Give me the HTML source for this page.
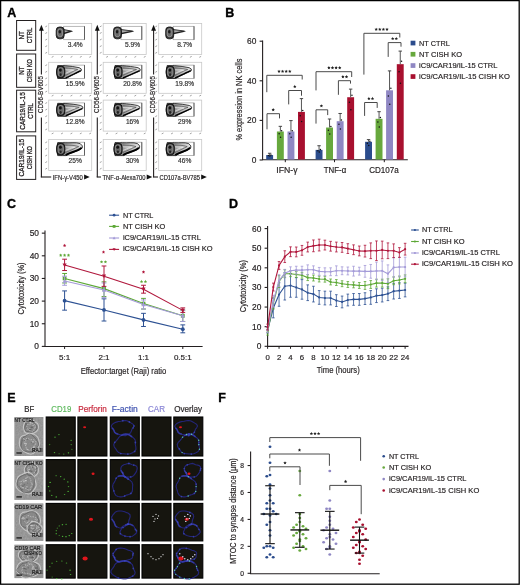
<!DOCTYPE html>
<html><head><meta charset="utf-8"><title>Figure</title>
<style>
html,body{margin:0;padding:0;background:#fff;}
body{width:520px;height:585px;overflow:hidden;font-family:"Liberation Sans",sans-serif;}
svg{display:block;will-change:transform;}
svg text{font-family:"Liberation Sans",sans-serif;}
</style></head>
<body>
<svg width="520" height="585" viewBox="0 0 520 585">
<rect x="0" y="0" width="520" height="585" fill="#fff"/>
<text x="7.30" y="16.90" font-size="12.5" fill="#000" text-anchor="start" font-weight="bold" stroke="#000" stroke-width="0.35">A</text>
<text x="225.30" y="17.00" font-size="12.5" fill="#000" text-anchor="start" font-weight="bold" stroke="#000" stroke-width="0.35">B</text>
<text x="7.00" y="207.80" font-size="12.5" fill="#000" text-anchor="start" font-weight="bold" stroke="#000" stroke-width="0.35">C</text>
<text x="229.10" y="207.60" font-size="12.5" fill="#000" text-anchor="start" font-weight="bold" stroke="#000" stroke-width="0.35">D</text>
<text x="7.30" y="401.80" font-size="12.5" fill="#000" text-anchor="start" font-weight="bold" stroke="#000" stroke-width="0.35">E</text>
<text x="218.20" y="401.80" font-size="12.5" fill="#000" text-anchor="start" font-weight="bold" stroke="#000" stroke-width="0.35">F</text>
<rect x="16.60" y="20.50" width="19.10" height="29.80" fill="none" stroke="#231f20" stroke-width="1" />
<text x="24.50" y="35.40" font-size="7.6" fill="#231f20" text-anchor="middle" textLength="8.4" lengthAdjust="spacingAndGlyphs" transform="rotate(-90 24.50 35.40)" stroke="#231f20" stroke-width="0.3">NT</text>
<text x="32.50" y="35.40" font-size="7.6" fill="#231f20" text-anchor="middle" textLength="15.6" lengthAdjust="spacingAndGlyphs" transform="rotate(-90 32.50 35.40)" stroke="#231f20" stroke-width="0.3">CTRL</text>
<rect x="16.60" y="54.00" width="19.10" height="33.30" fill="none" stroke="#231f20" stroke-width="1" />
<text x="24.50" y="70.65" font-size="7.6" fill="#231f20" text-anchor="middle" textLength="8.4" lengthAdjust="spacingAndGlyphs" transform="rotate(-90 24.50 70.65)" stroke="#231f20" stroke-width="0.3">NT</text>
<text x="32.50" y="70.65" font-size="7.6" fill="#231f20" text-anchor="middle" textLength="23.0" lengthAdjust="spacingAndGlyphs" transform="rotate(-90 32.50 70.65)" stroke="#231f20" stroke-width="0.3">CISH KO</text>
<rect x="16.60" y="90.20" width="19.10" height="41.60" fill="none" stroke="#231f20" stroke-width="1" />
<text x="24.50" y="111.00" font-size="7.6" fill="#231f20" text-anchor="middle" textLength="37.5" lengthAdjust="spacingAndGlyphs" transform="rotate(-90 24.50 111.00)" stroke="#231f20" stroke-width="0.3">CAR19/IL-15</text>
<text x="32.50" y="111.00" font-size="7.6" fill="#231f20" text-anchor="middle" textLength="15.6" lengthAdjust="spacingAndGlyphs" transform="rotate(-90 32.50 111.00)" stroke="#231f20" stroke-width="0.3">CTRL</text>
<rect x="16.60" y="135.90" width="19.10" height="43.50" fill="none" stroke="#231f20" stroke-width="1" />
<text x="24.50" y="157.65" font-size="7.6" fill="#231f20" text-anchor="middle" textLength="37.5" lengthAdjust="spacingAndGlyphs" transform="rotate(-90 24.50 157.65)" stroke="#231f20" stroke-width="0.3">CAR19/IL-15</text>
<text x="32.50" y="157.65" font-size="7.6" fill="#231f20" text-anchor="middle" textLength="23.0" lengthAdjust="spacingAndGlyphs" transform="rotate(-90 32.50 157.65)" stroke="#231f20" stroke-width="0.3">CISH KO</text>
<defs>
<linearGradient id="bg" x1="0" x2="1" y1="0" y2="0"><stop offset="0" stop-color="#2a2a2a"/><stop offset="0.35" stop-color="#555"/><stop offset="1" stop-color="#d8d8d8"/></linearGradient>
<radialGradient id="lobe" cx="0.5" cy="0.5" r="0.5"><stop offset="0" stop-color="#222"/><stop offset="0.5" stop-color="#777"/><stop offset="0.8" stop-color="#333"/><stop offset="1" stop-color="#111"/></radialGradient>
<linearGradient id="tailg" x1="0" x2="1" y1="0" y2="0"><stop offset="0" stop-color="#5a5a5a"/><stop offset="0.45" stop-color="#a8a8a8"/><stop offset="1" stop-color="#e4e4e4"/></linearGradient>
</defs>
<line x1="41.40" y1="30.00" x2="41.40" y2="74.60" stroke="#231f20" stroke-width="1.1" />
<line x1="41.40" y1="117.50" x2="41.40" y2="177.20" stroke="#231f20" stroke-width="1.1" />
<path d="M39.00,30.8 L41.40,24.8 L43.80,30.8 Z" fill="#111"/>
<text x="43.30" y="94.60" font-size="7.2" fill="#231f20" text-anchor="middle" stroke="#231f20" stroke-width="0.18" textLength="37" lengthAdjust="spacingAndGlyphs" transform="rotate(-90 43.30 94.60)" >CD56-BV605</text>
<line x1="40.85" y1="177.00" x2="51.20" y2="177.00" stroke="#231f20" stroke-width="1.1" />
<text x="52.70" y="179.70" font-size="7.3" fill="#231f20" text-anchor="start" stroke="#231f20" stroke-width="0.18" textLength="30.200000000000003" lengthAdjust="spacingAndGlyphs" >IFN-γ-V450</text>
<path d="M84.10,174.5 L89.70,177 L84.10,179.5 Z" fill="#111"/>
<rect x="48.70" y="23.50" width="43.00" height="31.00" fill="#fff" stroke="#c8c8c8" stroke-width="0.8" />
<line x1="45.30" y1="26.90" x2="47.10" y2="25.90" stroke="#666" stroke-width="0.6" />
<line x1="45.30" y1="33.50" x2="47.10" y2="32.50" stroke="#666" stroke-width="0.6" />
<line x1="45.30" y1="40.10" x2="47.10" y2="39.10" stroke="#666" stroke-width="0.6" />
<line x1="45.30" y1="46.70" x2="47.10" y2="45.70" stroke="#666" stroke-width="0.6" />
<line x1="45.30" y1="53.30" x2="47.10" y2="52.30" stroke="#666" stroke-width="0.6" />
<line x1="51.70" y1="57.30" x2="53.50" y2="56.40" stroke="#666" stroke-width="0.6" />
<line x1="61.10" y1="57.30" x2="62.90" y2="56.40" stroke="#666" stroke-width="0.6" />
<line x1="70.50" y1="57.30" x2="72.30" y2="56.40" stroke="#666" stroke-width="0.6" />
<line x1="79.90" y1="57.30" x2="81.70" y2="56.40" stroke="#666" stroke-width="0.6" />
<line x1="89.30" y1="57.30" x2="91.10" y2="56.40" stroke="#666" stroke-width="0.6" />
<rect x="63.70" y="26.30" width="20.80" height="13.40" fill="none" stroke="#9a9a9a" stroke-width="0.7" />
<line x1="84.50" y1="26.30" x2="84.50" y2="39.70" stroke="#555" stroke-width="0.9" />
<path d="M63.2,28.9 L71.1,30.5 L73.1,31.3 L71.1,32.0 L63.2,34.6 Z" fill="#222"/>
<path d="M63.2,30.1 L69.1,31.0 L63.2,32.9 Z" fill="#aaa"/>
<rect x="56.2" y="27.0" width="8.0" height="11.8" rx="3" ry="3.5" fill="#3a3a3a" stroke="#0a0a0a" stroke-width="0.8"/>
<rect x="57.6" y="28.7" width="5.0" height="8.0" rx="2" ry="2.5" fill="#6a6a6a" stroke="#c8c8c8" stroke-width="0.5"/>
<ellipse cx="59.8" cy="31.7" rx="1.3" ry="1.8" fill="#1a1a1a"/>
<text x="75.20" y="46.90" font-size="6.6" fill="#333" text-anchor="middle" stroke="#333" stroke-width="0.18" >3.4%</text>
<rect x="48.70" y="62.30" width="43.00" height="31.00" fill="#fff" stroke="#c8c8c8" stroke-width="0.8" />
<line x1="45.30" y1="65.70" x2="47.10" y2="64.70" stroke="#666" stroke-width="0.6" />
<line x1="45.30" y1="72.30" x2="47.10" y2="71.30" stroke="#666" stroke-width="0.6" />
<line x1="45.30" y1="78.90" x2="47.10" y2="77.90" stroke="#666" stroke-width="0.6" />
<line x1="45.30" y1="85.50" x2="47.10" y2="84.50" stroke="#666" stroke-width="0.6" />
<line x1="45.30" y1="92.10" x2="47.10" y2="91.10" stroke="#666" stroke-width="0.6" />
<line x1="51.70" y1="96.10" x2="53.50" y2="95.20" stroke="#666" stroke-width="0.6" />
<line x1="61.10" y1="96.10" x2="62.90" y2="95.20" stroke="#666" stroke-width="0.6" />
<line x1="70.50" y1="96.10" x2="72.30" y2="95.20" stroke="#666" stroke-width="0.6" />
<line x1="79.90" y1="96.10" x2="81.70" y2="95.20" stroke="#666" stroke-width="0.6" />
<line x1="89.30" y1="96.10" x2="91.10" y2="95.20" stroke="#666" stroke-width="0.6" />
<rect x="63.70" y="65.10" width="20.80" height="13.40" fill="none" stroke="#9a9a9a" stroke-width="0.7" />
<line x1="84.50" y1="65.10" x2="84.50" y2="78.50" stroke="#555" stroke-width="0.9" />
<path d="M57.7,65.5 L65.2,65.7 C70.2,66.1 74.7,66.7 79.2,67.7 Q82.5,68.9 81.2,70.9 C77.7,72.7 70.2,76.0 66.2,78.5 L57.7,78.5 Q55.4,72.0 57.7,65.5 Z" fill="url(#tailg)" stroke="#151515" stroke-width="0.8"/>
<path d="M65.2,67.9 C70.2,68.3 72.7,68.5 77.7,69.5 C73.7,70.7 69.2,74.0 65.2,75.5" fill="none" stroke="#333" stroke-width="0.55"/>
<path d="M65.2,69.7 C69.2,70.1 69.7,69.7 73.7,70.1 C69.7,70.7 68.2,72.5 65.2,73.5" fill="none" stroke="#f4f4f4" stroke-width="0.6"/>
<path d="M65.7,77.9 C70.2,75.9 76.7,72.5 80.7,70.7" fill="none" stroke="#000" stroke-width="1.30"/>
<rect x="56.8" y="66.3" width="8.0" height="11.4" rx="3" ry="3.6" fill="#3a3a3a" stroke="#000" stroke-width="0.8"/>
<rect x="58.0" y="67.7" width="5.4" height="8.4" rx="2" ry="2.6" fill="#666" stroke="#c8c8c8" stroke-width="0.45"/>
<ellipse cx="60.4" cy="70.1" rx="1.4" ry="1.6" fill="#111"/>
<ellipse cx="60.6" cy="74.7" rx="1.1" ry="1.4" fill="#222"/>
<text x="75.20" y="85.70" font-size="6.6" fill="#333" text-anchor="middle" stroke="#333" stroke-width="0.18" >15.9%</text>
<rect x="48.70" y="100.10" width="43.00" height="31.00" fill="#fff" stroke="#c8c8c8" stroke-width="0.8" />
<line x1="45.30" y1="103.50" x2="47.10" y2="102.50" stroke="#666" stroke-width="0.6" />
<line x1="45.30" y1="110.10" x2="47.10" y2="109.10" stroke="#666" stroke-width="0.6" />
<line x1="45.30" y1="116.70" x2="47.10" y2="115.70" stroke="#666" stroke-width="0.6" />
<line x1="45.30" y1="123.30" x2="47.10" y2="122.30" stroke="#666" stroke-width="0.6" />
<line x1="45.30" y1="129.90" x2="47.10" y2="128.90" stroke="#666" stroke-width="0.6" />
<line x1="51.70" y1="133.90" x2="53.50" y2="133.00" stroke="#666" stroke-width="0.6" />
<line x1="61.10" y1="133.90" x2="62.90" y2="133.00" stroke="#666" stroke-width="0.6" />
<line x1="70.50" y1="133.90" x2="72.30" y2="133.00" stroke="#666" stroke-width="0.6" />
<line x1="79.90" y1="133.90" x2="81.70" y2="133.00" stroke="#666" stroke-width="0.6" />
<line x1="89.30" y1="133.90" x2="91.10" y2="133.00" stroke="#666" stroke-width="0.6" />
<rect x="63.70" y="102.90" width="20.80" height="13.40" fill="none" stroke="#9a9a9a" stroke-width="0.7" />
<line x1="84.50" y1="102.90" x2="84.50" y2="116.30" stroke="#555" stroke-width="0.9" />
<path d="M57.7,103.3 L65.2,103.5 C70.2,103.9 76.2,104.5 80.7,105.5 Q84.0,106.7 82.7,108.7 C79.2,110.5 70.2,113.8 66.2,116.3 L57.7,116.3 Q55.4,109.8 57.7,103.3 Z" fill="url(#tailg)" stroke="#151515" stroke-width="0.8"/>
<path d="M65.2,105.7 C70.2,106.1 74.2,106.3 79.2,107.3 C75.2,108.5 69.2,111.8 65.2,113.3" fill="none" stroke="#333" stroke-width="0.55"/>
<path d="M65.2,107.5 C69.2,107.9 71.2,107.5 75.2,107.9 C71.2,108.5 68.2,110.3 65.2,111.3" fill="none" stroke="#f4f4f4" stroke-width="0.6"/>
<path d="M65.7,115.7 C70.2,113.7 78.2,110.3 82.2,108.5" fill="none" stroke="#000" stroke-width="1.30"/>
<rect x="56.8" y="104.1" width="8.0" height="11.4" rx="3" ry="3.6" fill="#3a3a3a" stroke="#000" stroke-width="0.8"/>
<rect x="58.0" y="105.5" width="5.4" height="8.4" rx="2" ry="2.6" fill="#666" stroke="#c8c8c8" stroke-width="0.45"/>
<ellipse cx="60.4" cy="107.9" rx="1.4" ry="1.6" fill="#111"/>
<ellipse cx="60.6" cy="112.5" rx="1.1" ry="1.4" fill="#222"/>
<text x="75.20" y="123.50" font-size="6.6" fill="#333" text-anchor="middle" stroke="#333" stroke-width="0.18" >12.8%</text>
<rect x="48.70" y="139.40" width="43.00" height="31.00" fill="#fff" stroke="#c8c8c8" stroke-width="0.8" />
<line x1="45.30" y1="142.80" x2="47.10" y2="141.80" stroke="#666" stroke-width="0.6" />
<line x1="45.30" y1="149.40" x2="47.10" y2="148.40" stroke="#666" stroke-width="0.6" />
<line x1="45.30" y1="156.00" x2="47.10" y2="155.00" stroke="#666" stroke-width="0.6" />
<line x1="45.30" y1="162.60" x2="47.10" y2="161.60" stroke="#666" stroke-width="0.6" />
<line x1="45.30" y1="169.20" x2="47.10" y2="168.20" stroke="#666" stroke-width="0.6" />
<rect x="63.70" y="142.20" width="20.80" height="13.40" fill="none" stroke="#9a9a9a" stroke-width="0.7" />
<line x1="84.50" y1="142.20" x2="84.50" y2="155.60" stroke="#555" stroke-width="0.9" />
<path d="M57.7,142.6 L65.2,142.8 C70.2,143.2 75.7,142.0 80.2,143.6 Q83.5,146.0 82.2,148.0 C78.7,151.6 70.2,152.2 66.2,155.6 L57.7,155.6 Q55.4,149.1 57.7,142.6 Z" fill="url(#tailg)" stroke="#151515" stroke-width="0.8"/>
<path d="M65.2,145.0 C70.2,145.4 73.7,144.9 78.7,146.6 C74.7,148.4 69.2,151.1 65.2,152.6" fill="none" stroke="#333" stroke-width="0.55"/>
<path d="M65.2,146.8 C69.2,147.2 70.7,146.8 74.7,147.2 C70.7,147.8 68.2,149.6 65.2,150.6" fill="none" stroke="#f4f4f4" stroke-width="0.6"/>
<path d="M65.7,155.0 C70.2,152.1 77.7,151.3 81.7,147.8" fill="none" stroke="#000" stroke-width="2.08"/>
<rect x="56.8" y="143.4" width="8.0" height="11.4" rx="3" ry="3.6" fill="#3a3a3a" stroke="#000" stroke-width="0.8"/>
<rect x="58.0" y="144.8" width="5.4" height="8.4" rx="2" ry="2.6" fill="#666" stroke="#c8c8c8" stroke-width="0.45"/>
<ellipse cx="60.4" cy="147.2" rx="1.4" ry="1.6" fill="#111"/>
<ellipse cx="60.6" cy="151.8" rx="1.1" ry="1.4" fill="#222"/>
<text x="75.20" y="162.80" font-size="6.6" fill="#333" text-anchor="middle" stroke="#333" stroke-width="0.18" >25%</text>
<line x1="97.30" y1="30.00" x2="97.30" y2="74.60" stroke="#231f20" stroke-width="1.1" />
<line x1="97.30" y1="117.50" x2="97.30" y2="177.20" stroke="#231f20" stroke-width="1.1" />
<path d="M94.90,30.8 L97.30,24.8 L99.70,30.8 Z" fill="#111"/>
<text x="99.20" y="94.60" font-size="7.2" fill="#231f20" text-anchor="middle" stroke="#231f20" stroke-width="0.18" textLength="37" lengthAdjust="spacingAndGlyphs" transform="rotate(-90 99.20 94.60)" >CD56-BV605</text>
<line x1="96.75" y1="177.00" x2="101.00" y2="177.00" stroke="#231f20" stroke-width="1.1" />
<text x="102.50" y="179.70" font-size="7.3" fill="#231f20" text-anchor="start" stroke="#231f20" stroke-width="0.18" textLength="43.0" lengthAdjust="spacingAndGlyphs" >TNF-α-Alexa700</text>
<path d="M146.70,174.5 L152.30,177 L146.70,179.5 Z" fill="#111"/>
<rect x="103.20" y="23.50" width="43.00" height="31.00" fill="#fff" stroke="#c8c8c8" stroke-width="0.8" />
<line x1="99.80" y1="26.90" x2="101.60" y2="25.90" stroke="#666" stroke-width="0.6" />
<line x1="99.80" y1="33.50" x2="101.60" y2="32.50" stroke="#666" stroke-width="0.6" />
<line x1="99.80" y1="40.10" x2="101.60" y2="39.10" stroke="#666" stroke-width="0.6" />
<line x1="99.80" y1="46.70" x2="101.60" y2="45.70" stroke="#666" stroke-width="0.6" />
<line x1="99.80" y1="53.30" x2="101.60" y2="52.30" stroke="#666" stroke-width="0.6" />
<line x1="106.20" y1="57.30" x2="108.00" y2="56.40" stroke="#666" stroke-width="0.6" />
<line x1="115.60" y1="57.30" x2="117.40" y2="56.40" stroke="#666" stroke-width="0.6" />
<line x1="125.00" y1="57.30" x2="126.80" y2="56.40" stroke="#666" stroke-width="0.6" />
<line x1="134.40" y1="57.30" x2="136.20" y2="56.40" stroke="#666" stroke-width="0.6" />
<line x1="143.80" y1="57.30" x2="145.60" y2="56.40" stroke="#666" stroke-width="0.6" />
<rect x="121.00" y="26.30" width="20.80" height="13.40" fill="none" stroke="#9a9a9a" stroke-width="0.7" />
<line x1="141.80" y1="26.30" x2="141.80" y2="39.70" stroke="#555" stroke-width="0.9" />
<path d="M120.5,28.9 L132.2,30.5 L134.2,31.3 L132.2,32.0 L120.5,34.6 Z" fill="#222"/>
<path d="M120.5,30.1 L130.2,31.0 L120.5,32.9 Z" fill="#aaa"/>
<rect x="113.5" y="27.0" width="8.0" height="11.8" rx="3" ry="3.5" fill="#3a3a3a" stroke="#0a0a0a" stroke-width="0.8"/>
<rect x="114.9" y="28.7" width="5.0" height="8.0" rx="2" ry="2.5" fill="#6a6a6a" stroke="#c8c8c8" stroke-width="0.5"/>
<ellipse cx="117.1" cy="31.7" rx="1.3" ry="1.8" fill="#1a1a1a"/>
<text x="132.50" y="46.90" font-size="6.6" fill="#333" text-anchor="middle" stroke="#333" stroke-width="0.18" >5.9%</text>
<rect x="103.20" y="62.30" width="43.00" height="31.00" fill="#fff" stroke="#c8c8c8" stroke-width="0.8" />
<line x1="99.80" y1="65.70" x2="101.60" y2="64.70" stroke="#666" stroke-width="0.6" />
<line x1="99.80" y1="72.30" x2="101.60" y2="71.30" stroke="#666" stroke-width="0.6" />
<line x1="99.80" y1="78.90" x2="101.60" y2="77.90" stroke="#666" stroke-width="0.6" />
<line x1="99.80" y1="85.50" x2="101.60" y2="84.50" stroke="#666" stroke-width="0.6" />
<line x1="99.80" y1="92.10" x2="101.60" y2="91.10" stroke="#666" stroke-width="0.6" />
<line x1="106.20" y1="96.10" x2="108.00" y2="95.20" stroke="#666" stroke-width="0.6" />
<line x1="115.60" y1="96.10" x2="117.40" y2="95.20" stroke="#666" stroke-width="0.6" />
<line x1="125.00" y1="96.10" x2="126.80" y2="95.20" stroke="#666" stroke-width="0.6" />
<line x1="134.40" y1="96.10" x2="136.20" y2="95.20" stroke="#666" stroke-width="0.6" />
<line x1="143.80" y1="96.10" x2="145.60" y2="95.20" stroke="#666" stroke-width="0.6" />
<rect x="121.00" y="65.10" width="20.80" height="13.40" fill="none" stroke="#9a9a9a" stroke-width="0.7" />
<line x1="141.80" y1="65.10" x2="141.80" y2="78.50" stroke="#555" stroke-width="0.9" />
<path d="M115.0,65.5 L122.5,65.7 C127.5,66.1 133.5,66.7 138.0,67.7 Q141.3,68.9 140.0,70.9 C136.5,72.7 127.5,76.0 123.5,78.5 L115.0,78.5 Q112.7,72.0 115.0,65.5 Z" fill="url(#tailg)" stroke="#151515" stroke-width="0.8"/>
<path d="M122.5,67.9 C127.5,68.3 131.5,68.5 136.5,69.5 C132.5,70.7 126.5,74.0 122.5,75.5" fill="none" stroke="#333" stroke-width="0.55"/>
<path d="M122.5,69.7 C126.5,70.1 128.5,69.7 132.5,70.1 C128.5,70.7 125.5,72.5 122.5,73.5" fill="none" stroke="#f4f4f4" stroke-width="0.6"/>
<path d="M123.0,77.9 C127.5,75.9 135.5,72.5 139.5,70.7" fill="none" stroke="#000" stroke-width="1.30"/>
<rect x="114.1" y="66.3" width="8.0" height="11.4" rx="3" ry="3.6" fill="#3a3a3a" stroke="#000" stroke-width="0.8"/>
<rect x="115.3" y="67.7" width="5.4" height="8.4" rx="2" ry="2.6" fill="#666" stroke="#c8c8c8" stroke-width="0.45"/>
<ellipse cx="117.7" cy="70.1" rx="1.4" ry="1.6" fill="#111"/>
<ellipse cx="117.9" cy="74.7" rx="1.1" ry="1.4" fill="#222"/>
<text x="132.50" y="85.70" font-size="6.6" fill="#333" text-anchor="middle" stroke="#333" stroke-width="0.18" >20.8%</text>
<rect x="103.20" y="100.10" width="43.00" height="31.00" fill="#fff" stroke="#c8c8c8" stroke-width="0.8" />
<line x1="99.80" y1="103.50" x2="101.60" y2="102.50" stroke="#666" stroke-width="0.6" />
<line x1="99.80" y1="110.10" x2="101.60" y2="109.10" stroke="#666" stroke-width="0.6" />
<line x1="99.80" y1="116.70" x2="101.60" y2="115.70" stroke="#666" stroke-width="0.6" />
<line x1="99.80" y1="123.30" x2="101.60" y2="122.30" stroke="#666" stroke-width="0.6" />
<line x1="99.80" y1="129.90" x2="101.60" y2="128.90" stroke="#666" stroke-width="0.6" />
<line x1="106.20" y1="133.90" x2="108.00" y2="133.00" stroke="#666" stroke-width="0.6" />
<line x1="115.60" y1="133.90" x2="117.40" y2="133.00" stroke="#666" stroke-width="0.6" />
<line x1="125.00" y1="133.90" x2="126.80" y2="133.00" stroke="#666" stroke-width="0.6" />
<line x1="134.40" y1="133.90" x2="136.20" y2="133.00" stroke="#666" stroke-width="0.6" />
<line x1="143.80" y1="133.90" x2="145.60" y2="133.00" stroke="#666" stroke-width="0.6" />
<rect x="121.00" y="102.90" width="20.80" height="13.40" fill="none" stroke="#9a9a9a" stroke-width="0.7" />
<line x1="141.80" y1="102.90" x2="141.80" y2="116.30" stroke="#555" stroke-width="0.9" />
<path d="M115.0,103.3 L122.5,103.5 C127.5,103.9 133.2,104.5 137.7,105.5 Q141.0,106.7 139.7,108.7 C136.2,110.5 127.5,113.8 123.5,116.3 L115.0,116.3 Q112.7,109.8 115.0,103.3 Z" fill="url(#tailg)" stroke="#151515" stroke-width="0.8"/>
<path d="M122.5,105.7 C127.5,106.1 131.2,106.3 136.2,107.3 C132.2,108.5 126.5,111.8 122.5,113.3" fill="none" stroke="#333" stroke-width="0.55"/>
<path d="M122.5,107.5 C126.5,107.9 128.2,107.5 132.2,107.9 C128.2,108.5 125.5,110.3 122.5,111.3" fill="none" stroke="#f4f4f4" stroke-width="0.6"/>
<path d="M123.0,115.7 C127.5,113.7 135.2,110.3 139.2,108.5" fill="none" stroke="#000" stroke-width="1.30"/>
<rect x="114.1" y="104.1" width="8.0" height="11.4" rx="3" ry="3.6" fill="#3a3a3a" stroke="#000" stroke-width="0.8"/>
<rect x="115.3" y="105.5" width="5.4" height="8.4" rx="2" ry="2.6" fill="#666" stroke="#c8c8c8" stroke-width="0.45"/>
<ellipse cx="117.7" cy="107.9" rx="1.4" ry="1.6" fill="#111"/>
<ellipse cx="117.9" cy="112.5" rx="1.1" ry="1.4" fill="#222"/>
<text x="132.50" y="123.50" font-size="6.6" fill="#333" text-anchor="middle" stroke="#333" stroke-width="0.18" >16%</text>
<rect x="103.20" y="139.40" width="43.00" height="31.00" fill="#fff" stroke="#c8c8c8" stroke-width="0.8" />
<line x1="99.80" y1="142.80" x2="101.60" y2="141.80" stroke="#666" stroke-width="0.6" />
<line x1="99.80" y1="149.40" x2="101.60" y2="148.40" stroke="#666" stroke-width="0.6" />
<line x1="99.80" y1="156.00" x2="101.60" y2="155.00" stroke="#666" stroke-width="0.6" />
<line x1="99.80" y1="162.60" x2="101.60" y2="161.60" stroke="#666" stroke-width="0.6" />
<line x1="99.80" y1="169.20" x2="101.60" y2="168.20" stroke="#666" stroke-width="0.6" />
<rect x="121.00" y="142.20" width="20.80" height="13.40" fill="none" stroke="#9a9a9a" stroke-width="0.7" />
<line x1="141.80" y1="142.20" x2="141.80" y2="155.60" stroke="#555" stroke-width="0.9" />
<path d="M115.0,142.6 L122.5,142.8 C127.5,143.2 133.0,142.0 137.5,143.6 Q140.8,146.0 139.5,148.0 C136.0,151.6 127.5,152.2 123.5,155.6 L115.0,155.6 Q112.7,149.1 115.0,142.6 Z" fill="url(#tailg)" stroke="#151515" stroke-width="0.8"/>
<path d="M122.5,145.0 C127.5,145.4 131.0,144.9 136.0,146.6 C132.0,148.4 126.5,151.1 122.5,152.6" fill="none" stroke="#333" stroke-width="0.55"/>
<path d="M122.5,146.8 C126.5,147.2 128.0,146.8 132.0,147.2 C128.0,147.8 125.5,149.6 122.5,150.6" fill="none" stroke="#f4f4f4" stroke-width="0.6"/>
<path d="M123.0,155.0 C127.5,152.1 135.0,151.3 139.0,147.8" fill="none" stroke="#000" stroke-width="2.08"/>
<rect x="114.1" y="143.4" width="8.0" height="11.4" rx="3" ry="3.6" fill="#3a3a3a" stroke="#000" stroke-width="0.8"/>
<rect x="115.3" y="144.8" width="5.4" height="8.4" rx="2" ry="2.6" fill="#666" stroke="#c8c8c8" stroke-width="0.45"/>
<ellipse cx="117.7" cy="147.2" rx="1.4" ry="1.6" fill="#111"/>
<ellipse cx="117.9" cy="151.8" rx="1.1" ry="1.4" fill="#222"/>
<text x="132.50" y="162.80" font-size="6.6" fill="#333" text-anchor="middle" stroke="#333" stroke-width="0.18" >30%</text>
<line x1="153.60" y1="30.00" x2="153.60" y2="74.60" stroke="#231f20" stroke-width="1.1" />
<line x1="153.60" y1="117.50" x2="153.60" y2="177.20" stroke="#231f20" stroke-width="1.1" />
<path d="M151.20,30.8 L153.60,24.8 L156.00,30.8 Z" fill="#111"/>
<text x="155.50" y="94.60" font-size="7.2" fill="#231f20" text-anchor="middle" stroke="#231f20" stroke-width="0.18" textLength="37" lengthAdjust="spacingAndGlyphs" transform="rotate(-90 155.50 94.60)" >CD56-BV605</text>
<line x1="153.05" y1="177.00" x2="158.00" y2="177.00" stroke="#231f20" stroke-width="1.1" />
<text x="159.50" y="179.70" font-size="7.3" fill="#231f20" text-anchor="start" stroke="#231f20" stroke-width="0.18" textLength="40.5" lengthAdjust="spacingAndGlyphs" >CD107a-BV785</text>
<path d="M201.20,174.5 L206.80,177 L201.20,179.5 Z" fill="#111"/>
<rect x="158.70" y="23.50" width="43.00" height="31.00" fill="#fff" stroke="#c8c8c8" stroke-width="0.8" />
<line x1="155.30" y1="26.90" x2="157.10" y2="25.90" stroke="#666" stroke-width="0.6" />
<line x1="155.30" y1="33.50" x2="157.10" y2="32.50" stroke="#666" stroke-width="0.6" />
<line x1="155.30" y1="40.10" x2="157.10" y2="39.10" stroke="#666" stroke-width="0.6" />
<line x1="155.30" y1="46.70" x2="157.10" y2="45.70" stroke="#666" stroke-width="0.6" />
<line x1="155.30" y1="53.30" x2="157.10" y2="52.30" stroke="#666" stroke-width="0.6" />
<line x1="161.70" y1="57.30" x2="163.50" y2="56.40" stroke="#666" stroke-width="0.6" />
<line x1="171.10" y1="57.30" x2="172.90" y2="56.40" stroke="#666" stroke-width="0.6" />
<line x1="180.50" y1="57.30" x2="182.30" y2="56.40" stroke="#666" stroke-width="0.6" />
<line x1="189.90" y1="57.30" x2="191.70" y2="56.40" stroke="#666" stroke-width="0.6" />
<line x1="199.30" y1="57.30" x2="201.10" y2="56.40" stroke="#666" stroke-width="0.6" />
<rect x="173.20" y="26.30" width="20.80" height="13.40" fill="none" stroke="#9a9a9a" stroke-width="0.7" />
<line x1="194.00" y1="26.30" x2="194.00" y2="39.70" stroke="#555" stroke-width="0.9" />
<path d="M172.7,28.9 L183.9,30.5 L185.9,31.3 L183.9,32.0 L172.7,34.6 Z" fill="#222"/>
<path d="M172.7,30.1 L181.9,31.0 L172.7,32.9 Z" fill="#aaa"/>
<rect x="165.7" y="27.0" width="8.0" height="11.8" rx="3" ry="3.5" fill="#3a3a3a" stroke="#0a0a0a" stroke-width="0.8"/>
<rect x="167.1" y="28.7" width="5.0" height="8.0" rx="2" ry="2.5" fill="#6a6a6a" stroke="#c8c8c8" stroke-width="0.5"/>
<ellipse cx="169.3" cy="31.7" rx="1.3" ry="1.8" fill="#1a1a1a"/>
<text x="184.70" y="46.90" font-size="6.6" fill="#333" text-anchor="middle" stroke="#333" stroke-width="0.18" >8.7%</text>
<rect x="158.70" y="62.30" width="43.00" height="31.00" fill="#fff" stroke="#c8c8c8" stroke-width="0.8" />
<line x1="155.30" y1="65.70" x2="157.10" y2="64.70" stroke="#666" stroke-width="0.6" />
<line x1="155.30" y1="72.30" x2="157.10" y2="71.30" stroke="#666" stroke-width="0.6" />
<line x1="155.30" y1="78.90" x2="157.10" y2="77.90" stroke="#666" stroke-width="0.6" />
<line x1="155.30" y1="85.50" x2="157.10" y2="84.50" stroke="#666" stroke-width="0.6" />
<line x1="155.30" y1="92.10" x2="157.10" y2="91.10" stroke="#666" stroke-width="0.6" />
<line x1="161.70" y1="96.10" x2="163.50" y2="95.20" stroke="#666" stroke-width="0.6" />
<line x1="171.10" y1="96.10" x2="172.90" y2="95.20" stroke="#666" stroke-width="0.6" />
<line x1="180.50" y1="96.10" x2="182.30" y2="95.20" stroke="#666" stroke-width="0.6" />
<line x1="189.90" y1="96.10" x2="191.70" y2="95.20" stroke="#666" stroke-width="0.6" />
<line x1="199.30" y1="96.10" x2="201.10" y2="95.20" stroke="#666" stroke-width="0.6" />
<rect x="173.20" y="65.10" width="20.80" height="13.40" fill="none" stroke="#9a9a9a" stroke-width="0.7" />
<line x1="194.00" y1="65.10" x2="194.00" y2="78.50" stroke="#555" stroke-width="0.9" />
<path d="M167.2,65.5 L174.7,65.7 C179.7,66.1 184.7,66.7 189.2,67.7 Q192.5,68.9 191.2,70.9 C187.7,72.7 179.7,76.0 175.7,78.5 L167.2,78.5 Q164.9,72.0 167.2,65.5 Z" fill="url(#tailg)" stroke="#151515" stroke-width="0.8"/>
<path d="M174.7,67.9 C179.7,68.3 182.7,68.5 187.7,69.5 C183.7,70.7 178.7,74.0 174.7,75.5" fill="none" stroke="#333" stroke-width="0.55"/>
<path d="M174.7,69.7 C178.7,70.1 179.7,69.7 183.7,70.1 C179.7,70.7 177.7,72.5 174.7,73.5" fill="none" stroke="#f4f4f4" stroke-width="0.6"/>
<path d="M175.2,77.9 C179.7,75.9 186.7,72.5 190.7,70.7" fill="none" stroke="#000" stroke-width="1.30"/>
<rect x="166.3" y="66.3" width="8.0" height="11.4" rx="3" ry="3.6" fill="#3a3a3a" stroke="#000" stroke-width="0.8"/>
<rect x="167.5" y="67.7" width="5.4" height="8.4" rx="2" ry="2.6" fill="#666" stroke="#c8c8c8" stroke-width="0.45"/>
<ellipse cx="169.9" cy="70.1" rx="1.4" ry="1.6" fill="#111"/>
<ellipse cx="170.1" cy="74.7" rx="1.1" ry="1.4" fill="#222"/>
<text x="184.70" y="85.70" font-size="6.6" fill="#333" text-anchor="middle" stroke="#333" stroke-width="0.18" >19.8%</text>
<rect x="158.70" y="100.10" width="43.00" height="31.00" fill="#fff" stroke="#c8c8c8" stroke-width="0.8" />
<line x1="155.30" y1="103.50" x2="157.10" y2="102.50" stroke="#666" stroke-width="0.6" />
<line x1="155.30" y1="110.10" x2="157.10" y2="109.10" stroke="#666" stroke-width="0.6" />
<line x1="155.30" y1="116.70" x2="157.10" y2="115.70" stroke="#666" stroke-width="0.6" />
<line x1="155.30" y1="123.30" x2="157.10" y2="122.30" stroke="#666" stroke-width="0.6" />
<line x1="155.30" y1="129.90" x2="157.10" y2="128.90" stroke="#666" stroke-width="0.6" />
<line x1="161.70" y1="133.90" x2="163.50" y2="133.00" stroke="#666" stroke-width="0.6" />
<line x1="171.10" y1="133.90" x2="172.90" y2="133.00" stroke="#666" stroke-width="0.6" />
<line x1="180.50" y1="133.90" x2="182.30" y2="133.00" stroke="#666" stroke-width="0.6" />
<line x1="189.90" y1="133.90" x2="191.70" y2="133.00" stroke="#666" stroke-width="0.6" />
<line x1="199.30" y1="133.90" x2="201.10" y2="133.00" stroke="#666" stroke-width="0.6" />
<rect x="173.20" y="102.90" width="20.80" height="13.40" fill="none" stroke="#9a9a9a" stroke-width="0.7" />
<line x1="194.00" y1="102.90" x2="194.00" y2="116.30" stroke="#555" stroke-width="0.9" />
<path d="M167.2,103.3 L174.7,103.5 C179.7,103.9 185.0,104.5 189.5,105.5 Q192.8,106.7 191.5,108.7 C188.0,110.5 179.7,113.8 175.7,116.3 L167.2,116.3 Q164.9,109.8 167.2,103.3 Z" fill="url(#tailg)" stroke="#151515" stroke-width="0.8"/>
<path d="M174.7,105.7 C179.7,106.1 183.0,106.3 188.0,107.3 C184.0,108.5 178.7,111.8 174.7,113.3" fill="none" stroke="#333" stroke-width="0.55"/>
<path d="M174.7,107.5 C178.7,107.9 180.0,107.5 184.0,107.9 C180.0,108.5 177.7,110.3 174.7,111.3" fill="none" stroke="#f4f4f4" stroke-width="0.6"/>
<path d="M175.2,115.7 C179.7,113.7 187.0,110.3 191.0,108.5" fill="none" stroke="#000" stroke-width="1.30"/>
<rect x="166.3" y="104.1" width="8.0" height="11.4" rx="3" ry="3.6" fill="#3a3a3a" stroke="#000" stroke-width="0.8"/>
<rect x="167.5" y="105.5" width="5.4" height="8.4" rx="2" ry="2.6" fill="#666" stroke="#c8c8c8" stroke-width="0.45"/>
<ellipse cx="169.9" cy="107.9" rx="1.4" ry="1.6" fill="#111"/>
<ellipse cx="170.1" cy="112.5" rx="1.1" ry="1.4" fill="#222"/>
<text x="184.70" y="123.50" font-size="6.6" fill="#333" text-anchor="middle" stroke="#333" stroke-width="0.18" >29%</text>
<rect x="158.70" y="139.40" width="43.00" height="31.00" fill="#fff" stroke="#c8c8c8" stroke-width="0.8" />
<line x1="155.30" y1="142.80" x2="157.10" y2="141.80" stroke="#666" stroke-width="0.6" />
<line x1="155.30" y1="149.40" x2="157.10" y2="148.40" stroke="#666" stroke-width="0.6" />
<line x1="155.30" y1="156.00" x2="157.10" y2="155.00" stroke="#666" stroke-width="0.6" />
<line x1="155.30" y1="162.60" x2="157.10" y2="161.60" stroke="#666" stroke-width="0.6" />
<line x1="155.30" y1="169.20" x2="157.10" y2="168.20" stroke="#666" stroke-width="0.6" />
<rect x="173.20" y="142.20" width="20.80" height="13.40" fill="none" stroke="#9a9a9a" stroke-width="0.7" />
<line x1="194.00" y1="142.20" x2="194.00" y2="155.60" stroke="#555" stroke-width="0.9" />
<path d="M167.2,142.6 L174.7,142.8 C179.7,143.2 184.2,142.0 188.7,143.6 Q192.0,146.0 190.7,148.0 C187.2,151.6 179.7,152.2 175.7,155.6 L167.2,155.6 Q164.9,149.1 167.2,142.6 Z" fill="url(#tailg)" stroke="#151515" stroke-width="0.8"/>
<path d="M174.7,145.0 C179.7,145.4 182.2,144.9 187.2,146.6 C183.2,148.4 178.7,151.1 174.7,152.6" fill="none" stroke="#333" stroke-width="0.55"/>
<path d="M174.7,146.8 C178.7,147.2 179.2,146.8 183.2,147.2 C179.2,147.8 177.7,149.6 174.7,150.6" fill="none" stroke="#f4f4f4" stroke-width="0.6"/>
<path d="M175.2,155.0 C179.7,152.1 186.2,151.3 190.2,147.8" fill="none" stroke="#000" stroke-width="2.08"/>
<rect x="166.3" y="143.4" width="8.0" height="11.4" rx="3" ry="3.6" fill="#3a3a3a" stroke="#000" stroke-width="0.8"/>
<rect x="167.5" y="144.8" width="5.4" height="8.4" rx="2" ry="2.6" fill="#666" stroke="#c8c8c8" stroke-width="0.45"/>
<ellipse cx="169.9" cy="147.2" rx="1.4" ry="1.6" fill="#111"/>
<ellipse cx="170.1" cy="151.8" rx="1.1" ry="1.4" fill="#222"/>
<text x="184.70" y="162.80" font-size="6.6" fill="#333" text-anchor="middle" stroke="#333" stroke-width="0.18" >46%</text>
<line x1="262.60" y1="40.50" x2="262.60" y2="160.00" stroke="#231f20" stroke-width="1.1" />
<line x1="262.10" y1="159.70" x2="407.80" y2="159.70" stroke="#231f20" stroke-width="1.1" />
<line x1="259.60" y1="160.00" x2="262.60" y2="160.00" stroke="#231f20" stroke-width="1.1" />
<text x="256.40" y="163.00" font-size="8.4" fill="#231f20" text-anchor="end" stroke="#231f20" stroke-width="0.18" >0</text>
<line x1="259.60" y1="120.40" x2="262.60" y2="120.40" stroke="#231f20" stroke-width="1.1" />
<text x="256.40" y="123.40" font-size="8.4" fill="#231f20" text-anchor="end" stroke="#231f20" stroke-width="0.18" >20</text>
<line x1="259.60" y1="80.80" x2="262.60" y2="80.80" stroke="#231f20" stroke-width="1.1" />
<text x="256.40" y="83.80" font-size="8.4" fill="#231f20" text-anchor="end" stroke="#231f20" stroke-width="0.18" >40</text>
<line x1="259.60" y1="41.20" x2="262.60" y2="41.20" stroke="#231f20" stroke-width="1.1" />
<text x="256.40" y="44.20" font-size="8.4" fill="#231f20" text-anchor="end" stroke="#231f20" stroke-width="0.18" >60</text>
<text x="242.30" y="99.60" font-size="8.8" fill="#231f20" text-anchor="middle" stroke="#231f20" stroke-width="0.18" textLength="82.0" lengthAdjust="spacingAndGlyphs" transform="rotate(-90 242.30 99.60)" >% expression in NK cells</text>
<line x1="285.30" y1="159.70" x2="285.30" y2="162.20" stroke="#231f20" stroke-width="1" />
<line x1="334.50" y1="159.70" x2="334.50" y2="162.20" stroke="#231f20" stroke-width="1" />
<line x1="384.30" y1="159.70" x2="384.30" y2="162.20" stroke="#231f20" stroke-width="1" />
<text x="286.90" y="173.40" font-size="8.7" fill="#231f20" text-anchor="middle" stroke="#231f20" stroke-width="0.18" textLength="21.2" lengthAdjust="spacingAndGlyphs" >IFN-γ</text>
<text x="335.00" y="173.40" font-size="8.7" fill="#231f20" text-anchor="middle" stroke="#231f20" stroke-width="0.18" textLength="22.5" lengthAdjust="spacingAndGlyphs" >TNF-α</text>
<text x="384.00" y="173.40" font-size="8.7" fill="#231f20" text-anchor="middle" stroke="#231f20" stroke-width="0.18" textLength="29.6" lengthAdjust="spacingAndGlyphs" >CD107a</text>
<rect x="266.20" y="155.05" width="6.90" height="4.45" fill="#2b4c8c" stroke="none" stroke-width="1" />
<line x1="269.65" y1="155.05" x2="269.65" y2="153.27" stroke="#555" stroke-width="1.0" />
<line x1="267.95" y1="153.27" x2="271.35" y2="153.27" stroke="#444" stroke-width="1.0" />
<circle cx="268.45" cy="155.45" r="0.75" fill="#111"/>
<circle cx="270.95" cy="154.90" r="0.75" fill="#111"/>
<circle cx="269.85" cy="156.04" r="0.75" fill="#111"/>
<rect x="276.90" y="131.49" width="6.90" height="28.01" fill="#67a83d" stroke="none" stroke-width="1" />
<line x1="280.35" y1="131.49" x2="280.35" y2="126.34" stroke="#555" stroke-width="1.0" />
<line x1="278.65" y1="126.34" x2="282.05" y2="126.34" stroke="#444" stroke-width="1.0" />
<circle cx="279.15" cy="133.77" r="0.75" fill="#111"/>
<circle cx="281.65" cy="130.63" r="0.75" fill="#111"/>
<circle cx="280.55" cy="137.19" r="0.75" fill="#111"/>
<rect x="287.50" y="131.49" width="6.90" height="28.01" fill="#8f87c3" stroke="none" stroke-width="1" />
<line x1="290.95" y1="131.49" x2="290.95" y2="120.60" stroke="#555" stroke-width="1.0" />
<line x1="289.25" y1="120.60" x2="292.65" y2="120.60" stroke="#444" stroke-width="1.0" />
<circle cx="289.75" cy="133.77" r="0.75" fill="#111"/>
<circle cx="292.25" cy="130.63" r="0.75" fill="#111"/>
<circle cx="291.15" cy="137.19" r="0.75" fill="#111"/>
<rect x="298.00" y="111.89" width="6.90" height="47.61" fill="#a8102f" stroke="none" stroke-width="1" />
<line x1="301.45" y1="111.89" x2="301.45" y2="98.62" stroke="#555" stroke-width="1.0" />
<line x1="299.75" y1="98.62" x2="303.15" y2="98.62" stroke="#444" stroke-width="1.0" />
<circle cx="300.25" cy="115.74" r="0.75" fill="#111"/>
<circle cx="302.75" cy="110.44" r="0.75" fill="#111"/>
<circle cx="301.65" cy="121.51" r="0.75" fill="#111"/>
<rect x="315.60" y="149.90" width="6.90" height="9.60" fill="#2b4c8c" stroke="none" stroke-width="1" />
<line x1="319.05" y1="149.90" x2="319.05" y2="145.74" stroke="#555" stroke-width="1.0" />
<line x1="317.35" y1="145.74" x2="320.75" y2="145.74" stroke="#444" stroke-width="1.0" />
<circle cx="317.85" cy="150.71" r="0.75" fill="#111"/>
<circle cx="320.35" cy="149.60" r="0.75" fill="#111"/>
<circle cx="319.25" cy="151.92" r="0.75" fill="#111"/>
<rect x="326.10" y="127.53" width="6.90" height="31.97" fill="#67a83d" stroke="none" stroke-width="1" />
<line x1="329.55" y1="127.53" x2="329.55" y2="119.01" stroke="#555" stroke-width="1.0" />
<line x1="327.85" y1="119.01" x2="331.25" y2="119.01" stroke="#444" stroke-width="1.0" />
<circle cx="328.35" cy="130.13" r="0.75" fill="#111"/>
<circle cx="330.85" cy="126.55" r="0.75" fill="#111"/>
<circle cx="329.75" cy="134.02" r="0.75" fill="#111"/>
<rect x="336.70" y="121.19" width="6.90" height="38.31" fill="#8f87c3" stroke="none" stroke-width="1" />
<line x1="340.15" y1="121.19" x2="340.15" y2="113.47" stroke="#555" stroke-width="1.0" />
<line x1="338.45" y1="113.47" x2="341.85" y2="113.47" stroke="#444" stroke-width="1.0" />
<circle cx="338.95" cy="124.30" r="0.75" fill="#111"/>
<circle cx="341.45" cy="120.03" r="0.75" fill="#111"/>
<circle cx="340.35" cy="128.95" r="0.75" fill="#111"/>
<rect x="347.20" y="97.23" width="6.90" height="62.27" fill="#a8102f" stroke="none" stroke-width="1" />
<line x1="350.65" y1="97.23" x2="350.65" y2="89.12" stroke="#555" stroke-width="1.0" />
<line x1="348.95" y1="89.12" x2="352.35" y2="89.12" stroke="#444" stroke-width="1.0" />
<circle cx="349.45" cy="102.26" r="0.75" fill="#111"/>
<circle cx="351.95" cy="95.35" r="0.75" fill="#111"/>
<circle cx="350.85" cy="109.79" r="0.75" fill="#111"/>
<rect x="365.10" y="141.78" width="6.90" height="17.72" fill="#2b4c8c" stroke="none" stroke-width="1" />
<line x1="368.55" y1="141.78" x2="368.55" y2="139.61" stroke="#555" stroke-width="1.0" />
<line x1="366.85" y1="139.61" x2="370.25" y2="139.61" stroke="#444" stroke-width="1.0" />
<circle cx="367.35" cy="143.24" r="0.75" fill="#111"/>
<circle cx="369.85" cy="141.24" r="0.75" fill="#111"/>
<circle cx="368.75" cy="145.43" r="0.75" fill="#111"/>
<rect x="375.60" y="118.82" width="6.90" height="40.68" fill="#67a83d" stroke="none" stroke-width="1" />
<line x1="379.05" y1="118.82" x2="379.05" y2="111.69" stroke="#555" stroke-width="1.0" />
<line x1="377.35" y1="111.69" x2="380.75" y2="111.69" stroke="#444" stroke-width="1.0" />
<circle cx="377.85" cy="122.11" r="0.75" fill="#111"/>
<circle cx="380.35" cy="117.58" r="0.75" fill="#111"/>
<circle cx="379.25" cy="127.05" r="0.75" fill="#111"/>
<rect x="386.10" y="90.30" width="6.90" height="69.20" fill="#8f87c3" stroke="none" stroke-width="1" />
<line x1="389.55" y1="90.30" x2="389.55" y2="70.90" stroke="#555" stroke-width="1.0" />
<line x1="387.85" y1="70.90" x2="391.25" y2="70.90" stroke="#444" stroke-width="1.0" />
<circle cx="388.35" cy="95.88" r="0.75" fill="#111"/>
<circle cx="390.85" cy="88.21" r="0.75" fill="#111"/>
<circle cx="389.75" cy="104.24" r="0.75" fill="#111"/>
<rect x="396.80" y="64.17" width="6.90" height="95.33" fill="#a8102f" stroke="none" stroke-width="1" />
<line x1="400.25" y1="64.17" x2="400.25" y2="51.10" stroke="#555" stroke-width="1.0" />
<line x1="398.55" y1="51.10" x2="401.95" y2="51.10" stroke="#444" stroke-width="1.0" />
<circle cx="399.05" cy="71.83" r="0.75" fill="#111"/>
<circle cx="401.55" cy="61.29" r="0.75" fill="#111"/>
<circle cx="400.45" cy="83.33" r="0.75" fill="#111"/>
<polyline points="266.80,92.20 266.80,75.30 302.20,75.30 302.20,79.50" fill="none" stroke="#4a4a4a" stroke-width="1.0" />
<path d="M279.00,69.65 L279.51,70.69 L280.66,70.86 L279.83,71.67 L280.03,72.82 L279.00,72.27 L277.97,72.82 L278.17,71.67 L277.34,70.86 L278.49,70.69 Z" fill="#222"/>
<path d="M282.60,69.65 L283.11,70.69 L284.26,70.86 L283.43,71.67 L283.63,72.82 L282.60,72.27 L281.57,72.82 L281.77,71.67 L280.94,70.86 L282.09,70.69 Z" fill="#222"/>
<path d="M286.20,69.65 L286.71,70.69 L287.86,70.86 L287.03,71.67 L287.23,72.82 L286.20,72.27 L285.17,72.82 L285.37,71.67 L284.54,70.86 L285.69,70.69 Z" fill="#222"/>
<path d="M289.80,69.65 L290.31,70.69 L291.46,70.86 L290.63,71.67 L290.83,72.82 L289.80,72.27 L288.77,72.82 L288.97,71.67 L288.14,70.86 L289.29,70.69 Z" fill="#222"/>
<polyline points="288.70,104.40 288.70,90.50 301.50,90.50 301.50,95.70" fill="none" stroke="#4a4a4a" stroke-width="1.0" />
<path d="M294.80,84.85 L295.31,85.89 L296.46,86.06 L295.63,86.87 L295.83,88.02 L294.80,87.47 L293.77,88.02 L293.97,86.87 L293.14,86.06 L294.29,85.89 Z" fill="#222"/>
<polyline points="267.00,129.30 267.00,113.70 279.50,113.70 279.50,118.40" fill="none" stroke="#4a4a4a" stroke-width="1.0" />
<path d="M273.20,108.05 L273.71,109.09 L274.86,109.26 L274.03,110.07 L274.23,111.22 L273.20,110.67 L272.17,111.22 L272.37,110.07 L271.54,109.26 L272.69,109.09 Z" fill="#222"/>
<polyline points="316.00,90.40 316.00,71.70 351.70,71.70 351.70,77.00" fill="none" stroke="#4a4a4a" stroke-width="1.0" />
<path d="M328.90,66.05 L329.41,67.09 L330.56,67.26 L329.73,68.07 L329.93,69.22 L328.90,68.67 L327.87,69.22 L328.07,68.07 L327.24,67.26 L328.39,67.09 Z" fill="#222"/>
<path d="M332.50,66.05 L333.01,67.09 L334.16,67.26 L333.33,68.07 L333.53,69.22 L332.50,68.67 L331.47,69.22 L331.67,68.07 L330.84,67.26 L331.99,67.09 Z" fill="#222"/>
<path d="M336.10,66.05 L336.61,67.09 L337.76,67.26 L336.93,68.07 L337.13,69.22 L336.10,68.67 L335.07,69.22 L335.27,68.07 L334.44,67.26 L335.59,67.09 Z" fill="#222"/>
<path d="M339.70,66.05 L340.21,67.09 L341.36,67.26 L340.53,68.07 L340.73,69.22 L339.70,68.67 L338.67,69.22 L338.87,68.07 L338.04,67.26 L339.19,67.09 Z" fill="#222"/>
<polyline points="338.40,94.80 338.40,80.70 350.50,80.70 350.50,83.60" fill="none" stroke="#4a4a4a" stroke-width="1.0" />
<path d="M342.90,75.05 L343.41,76.09 L344.56,76.26 L343.73,77.07 L343.93,78.22 L342.90,77.67 L341.87,78.22 L342.07,77.07 L341.24,76.26 L342.39,76.09 Z" fill="#222"/>
<path d="M346.50,75.05 L347.01,76.09 L348.16,76.26 L347.33,77.07 L347.53,78.22 L346.50,77.67 L345.47,78.22 L345.67,77.07 L344.84,76.26 L345.99,76.09 Z" fill="#222"/>
<polyline points="316.00,123.60 316.00,109.80 327.70,109.80 327.70,115.10" fill="none" stroke="#4a4a4a" stroke-width="1.0" />
<path d="M321.40,104.15 L321.91,105.19 L323.06,105.36 L322.23,106.17 L322.43,107.32 L321.40,106.77 L320.37,107.32 L320.57,106.17 L319.74,105.36 L320.89,105.19 Z" fill="#222"/>
<polyline points="363.90,74.60 363.90,33.30 399.80,33.30 399.80,37.50" fill="none" stroke="#4a4a4a" stroke-width="1.0" />
<path d="M376.20,27.65 L376.71,28.69 L377.86,28.86 L377.03,29.67 L377.23,30.82 L376.20,30.27 L375.17,30.82 L375.37,29.67 L374.54,28.86 L375.69,28.69 Z" fill="#222"/>
<path d="M379.80,27.65 L380.31,28.69 L381.46,28.86 L380.63,29.67 L380.83,30.82 L379.80,30.27 L378.77,30.82 L378.97,29.67 L378.14,28.86 L379.29,28.69 Z" fill="#222"/>
<path d="M383.40,27.65 L383.91,28.69 L385.06,28.86 L384.23,29.67 L384.43,30.82 L383.40,30.27 L382.37,30.82 L382.57,29.67 L381.74,28.86 L382.89,28.69 Z" fill="#222"/>
<path d="M387.00,27.65 L387.51,28.69 L388.66,28.86 L387.83,29.67 L388.03,30.82 L387.00,30.27 L385.97,30.82 L386.17,29.67 L385.34,28.86 L386.49,28.69 Z" fill="#222"/>
<polyline points="388.20,56.90 388.20,42.60 401.00,42.60 401.00,46.70" fill="none" stroke="#4a4a4a" stroke-width="1.0" />
<path d="M392.70,36.95 L393.21,37.99 L394.36,38.16 L393.53,38.97 L393.73,40.12 L392.70,39.58 L391.67,40.12 L391.87,38.97 L391.04,38.16 L392.19,37.99 Z" fill="#222"/>
<path d="M396.30,36.95 L396.81,37.99 L397.96,38.16 L397.13,38.97 L397.33,40.12 L396.30,39.58 L395.27,40.12 L395.47,38.97 L394.64,38.16 L395.79,37.99 Z" fill="#222"/>
<polyline points="364.60,115.90 364.60,102.50 377.20,102.50 377.20,107.90" fill="none" stroke="#4a4a4a" stroke-width="1.0" />
<path d="M368.90,96.85 L369.41,97.89 L370.56,98.06 L369.73,98.87 L369.93,100.02 L368.90,99.47 L367.87,100.02 L368.07,98.87 L367.24,98.06 L368.39,97.89 Z" fill="#222"/>
<path d="M372.50,96.85 L373.01,97.89 L374.16,98.06 L373.33,98.87 L373.53,100.02 L372.50,99.47 L371.47,100.02 L371.67,98.87 L370.84,98.06 L371.99,97.89 Z" fill="#222"/>
<rect x="410.60" y="40.70" width="4.80" height="4.70" fill="#2b4c8c" stroke="none" stroke-width="1" />
<text x="419.10" y="45.80" font-size="8.0" fill="#231f20" text-anchor="start" stroke="#231f20" stroke-width="0.18" textLength="30.7" lengthAdjust="spacingAndGlyphs" >NT CTRL</text>
<rect x="410.60" y="51.90" width="4.80" height="4.70" fill="#67a83d" stroke="none" stroke-width="1" />
<text x="419.10" y="57.00" font-size="8.0" fill="#231f20" text-anchor="start" stroke="#231f20" stroke-width="0.18" textLength="42.9" lengthAdjust="spacingAndGlyphs" >NT CISH KO</text>
<rect x="410.60" y="63.20" width="4.80" height="4.70" fill="#8f87c3" stroke="none" stroke-width="1" />
<text x="419.10" y="68.30" font-size="8.0" fill="#231f20" text-anchor="start" stroke="#231f20" stroke-width="0.18" textLength="78.3" lengthAdjust="spacingAndGlyphs" >iC9/CAR19/IL-15 CTRL</text>
<rect x="410.60" y="74.20" width="4.80" height="4.70" fill="#a8102f" stroke="none" stroke-width="1" />
<text x="419.10" y="79.30" font-size="8.0" fill="#231f20" text-anchor="start" stroke="#231f20" stroke-width="0.18" textLength="90.7" lengthAdjust="spacingAndGlyphs" >iC9/CAR19/IL-15 CISH KO</text>
<line x1="45.00" y1="230.40" x2="45.00" y2="346.60" stroke="#231f20" stroke-width="1.1" />
<line x1="44.50" y1="346.50" x2="202.60" y2="346.50" stroke="#231f20" stroke-width="1.1" />
<line x1="41.80" y1="346.40" x2="45.00" y2="346.40" stroke="#231f20" stroke-width="1.1" />
<text x="39.00" y="349.40" font-size="8.4" fill="#231f20" text-anchor="end" stroke="#231f20" stroke-width="0.18" >0</text>
<line x1="41.80" y1="323.75" x2="45.00" y2="323.75" stroke="#231f20" stroke-width="1.1" />
<text x="39.00" y="326.75" font-size="8.4" fill="#231f20" text-anchor="end" stroke="#231f20" stroke-width="0.18" >10</text>
<line x1="41.80" y1="301.10" x2="45.00" y2="301.10" stroke="#231f20" stroke-width="1.1" />
<text x="39.00" y="304.10" font-size="8.4" fill="#231f20" text-anchor="end" stroke="#231f20" stroke-width="0.18" >20</text>
<line x1="41.80" y1="278.45" x2="45.00" y2="278.45" stroke="#231f20" stroke-width="1.1" />
<text x="39.00" y="281.45" font-size="8.4" fill="#231f20" text-anchor="end" stroke="#231f20" stroke-width="0.18" >30</text>
<line x1="41.80" y1="255.80" x2="45.00" y2="255.80" stroke="#231f20" stroke-width="1.1" />
<text x="39.00" y="258.80" font-size="8.4" fill="#231f20" text-anchor="end" stroke="#231f20" stroke-width="0.18" >40</text>
<line x1="41.80" y1="233.15" x2="45.00" y2="233.15" stroke="#231f20" stroke-width="1.1" />
<text x="39.00" y="236.15" font-size="8.4" fill="#231f20" text-anchor="end" stroke="#231f20" stroke-width="0.18" >50</text>
<line x1="64.60" y1="346.50" x2="64.60" y2="349.00" stroke="#231f20" stroke-width="1" />
<line x1="104.00" y1="346.50" x2="104.00" y2="349.00" stroke="#231f20" stroke-width="1" />
<line x1="143.50" y1="346.50" x2="143.50" y2="349.00" stroke="#231f20" stroke-width="1" />
<line x1="182.80" y1="346.50" x2="182.80" y2="349.00" stroke="#231f20" stroke-width="1" />
<text x="64.60" y="359.60" font-size="8.0" fill="#231f20" text-anchor="middle" stroke="#231f20" stroke-width="0.18" >5:1</text>
<text x="104.00" y="359.60" font-size="8.0" fill="#231f20" text-anchor="middle" stroke="#231f20" stroke-width="0.18" >2:1</text>
<text x="143.50" y="359.60" font-size="8.0" fill="#231f20" text-anchor="middle" stroke="#231f20" stroke-width="0.18" >1:1</text>
<text x="182.80" y="359.60" font-size="8.0" fill="#231f20" text-anchor="middle" stroke="#231f20" stroke-width="0.18" >0.5:1</text>
<text x="23.80" y="288.40" font-size="8.8" fill="#231f20" text-anchor="middle" stroke="#231f20" stroke-width="0.18" textLength="52.0" lengthAdjust="spacingAndGlyphs" transform="rotate(-90 23.80 288.40)" >Cytotoxicity (%)</text>
<text x="123.50" y="373.80" font-size="8.9" fill="#231f20" text-anchor="middle" stroke="#231f20" stroke-width="0.18" textLength="85.5" lengthAdjust="spacingAndGlyphs" >Effector:target (Raji) ratio</text>
<polyline points="64.60,300.65 104.00,309.93 143.50,319.90 182.80,329.19" fill="none" stroke="#2d5193" stroke-width="1.1" />
<line x1="64.60" y1="310.16" x2="64.60" y2="290.91" stroke="#2d5193" stroke-width="1.0" />
<line x1="62.20" y1="310.16" x2="67.00" y2="310.16" stroke="#2d5193" stroke-width="1.0" />
<line x1="62.20" y1="290.91" x2="67.00" y2="290.91" stroke="#2d5193" stroke-width="1.0" />
<circle cx="64.60" cy="300.65" r="1.90" fill="#2d5193"/>
<line x1="104.00" y1="321.03" x2="104.00" y2="298.83" stroke="#2d5193" stroke-width="1.0" />
<line x1="101.60" y1="321.03" x2="106.40" y2="321.03" stroke="#2d5193" stroke-width="1.0" />
<line x1="101.60" y1="298.83" x2="106.40" y2="298.83" stroke="#2d5193" stroke-width="1.0" />
<circle cx="104.00" cy="309.93" r="1.90" fill="#2d5193"/>
<line x1="143.50" y1="326.47" x2="143.50" y2="313.33" stroke="#2d5193" stroke-width="1.0" />
<line x1="141.10" y1="326.47" x2="145.90" y2="326.47" stroke="#2d5193" stroke-width="1.0" />
<line x1="141.10" y1="313.33" x2="145.90" y2="313.33" stroke="#2d5193" stroke-width="1.0" />
<circle cx="143.50" cy="319.90" r="1.90" fill="#2d5193"/>
<line x1="182.80" y1="332.81" x2="182.80" y2="324.88" stroke="#2d5193" stroke-width="1.0" />
<line x1="180.40" y1="332.81" x2="185.20" y2="332.81" stroke="#2d5193" stroke-width="1.0" />
<line x1="180.40" y1="324.88" x2="185.20" y2="324.88" stroke="#2d5193" stroke-width="1.0" />
<circle cx="182.80" cy="329.19" r="1.90" fill="#2d5193"/>
<polyline points="64.60,278.45 104.00,288.64 143.50,303.59 182.80,315.82" fill="none" stroke="#5da836" stroke-width="1.1" />
<line x1="64.60" y1="282.98" x2="64.60" y2="273.47" stroke="#5da836" stroke-width="1.0" />
<line x1="62.20" y1="282.98" x2="67.00" y2="282.98" stroke="#5da836" stroke-width="1.0" />
<line x1="62.20" y1="273.47" x2="67.00" y2="273.47" stroke="#5da836" stroke-width="1.0" />
<rect x="62.70" y="276.55" width="3.80" height="3.80" fill="#5da836" stroke="none" stroke-width="1" />
<line x1="104.00" y1="296.57" x2="104.00" y2="281.85" stroke="#5da836" stroke-width="1.0" />
<line x1="101.60" y1="296.57" x2="106.40" y2="296.57" stroke="#5da836" stroke-width="1.0" />
<line x1="101.60" y1="281.85" x2="106.40" y2="281.85" stroke="#5da836" stroke-width="1.0" />
<rect x="102.10" y="286.74" width="3.80" height="3.80" fill="#5da836" stroke="none" stroke-width="1" />
<line x1="143.50" y1="309.03" x2="143.50" y2="298.38" stroke="#5da836" stroke-width="1.0" />
<line x1="141.10" y1="309.03" x2="145.90" y2="309.03" stroke="#5da836" stroke-width="1.0" />
<line x1="141.10" y1="298.38" x2="145.90" y2="298.38" stroke="#5da836" stroke-width="1.0" />
<rect x="141.60" y="301.69" width="3.80" height="3.80" fill="#5da836" stroke="none" stroke-width="1" />
<line x1="182.80" y1="321.48" x2="182.80" y2="310.16" stroke="#5da836" stroke-width="1.0" />
<line x1="180.40" y1="321.48" x2="185.20" y2="321.48" stroke="#5da836" stroke-width="1.0" />
<line x1="180.40" y1="310.16" x2="185.20" y2="310.16" stroke="#5da836" stroke-width="1.0" />
<rect x="180.90" y="313.92" width="3.80" height="3.80" fill="#5da836" stroke="none" stroke-width="1" />
<polyline points="64.60,280.94 104.00,290.00 143.50,304.50 182.80,315.82" fill="none" stroke="#a49bd8" stroke-width="1.1" />
<line x1="64.60" y1="285.25" x2="64.60" y2="276.18" stroke="#a49bd8" stroke-width="1.0" />
<line x1="62.20" y1="285.25" x2="67.00" y2="285.25" stroke="#a49bd8" stroke-width="1.0" />
<line x1="62.20" y1="276.18" x2="67.00" y2="276.18" stroke="#a49bd8" stroke-width="1.0" />
<path d="M62.51,282.65 L64.60,278.85 L66.69,282.65 Z" fill="#a49bd8"/>
<line x1="104.00" y1="297.70" x2="104.00" y2="282.98" stroke="#a49bd8" stroke-width="1.0" />
<line x1="101.60" y1="297.70" x2="106.40" y2="297.70" stroke="#a49bd8" stroke-width="1.0" />
<line x1="101.60" y1="282.98" x2="106.40" y2="282.98" stroke="#a49bd8" stroke-width="1.0" />
<path d="M101.91,291.71 L104.00,287.91 L106.09,291.71 Z" fill="#a49bd8"/>
<line x1="143.50" y1="309.03" x2="143.50" y2="299.97" stroke="#a49bd8" stroke-width="1.0" />
<line x1="141.10" y1="309.03" x2="145.90" y2="309.03" stroke="#a49bd8" stroke-width="1.0" />
<line x1="141.10" y1="299.97" x2="145.90" y2="299.97" stroke="#a49bd8" stroke-width="1.0" />
<path d="M141.41,306.21 L143.50,302.41 L145.59,306.21 Z" fill="#a49bd8"/>
<line x1="182.80" y1="321.48" x2="182.80" y2="310.16" stroke="#a49bd8" stroke-width="1.0" />
<line x1="180.40" y1="321.48" x2="185.20" y2="321.48" stroke="#a49bd8" stroke-width="1.0" />
<line x1="180.40" y1="310.16" x2="185.20" y2="310.16" stroke="#a49bd8" stroke-width="1.0" />
<path d="M180.71,317.53 L182.80,313.73 L184.89,317.53 Z" fill="#a49bd8"/>
<polyline points="64.60,265.09 104.00,276.18 143.50,289.32 182.80,310.39" fill="none" stroke="#b0173c" stroke-width="1.1" />
<line x1="64.60" y1="270.52" x2="64.60" y2="259.20" stroke="#b0173c" stroke-width="1.0" />
<line x1="62.20" y1="270.52" x2="67.00" y2="270.52" stroke="#b0173c" stroke-width="1.0" />
<line x1="62.20" y1="259.20" x2="67.00" y2="259.20" stroke="#b0173c" stroke-width="1.0" />
<path d="M62.51,263.38 L64.60,267.18 L66.69,263.38 Z" fill="#b0173c"/>
<line x1="104.00" y1="286.38" x2="104.00" y2="265.99" stroke="#b0173c" stroke-width="1.0" />
<line x1="101.60" y1="286.38" x2="106.40" y2="286.38" stroke="#b0173c" stroke-width="1.0" />
<line x1="101.60" y1="265.99" x2="106.40" y2="265.99" stroke="#b0173c" stroke-width="1.0" />
<path d="M101.91,274.47 L104.00,278.27 L106.09,274.47 Z" fill="#b0173c"/>
<line x1="143.50" y1="293.17" x2="143.50" y2="285.25" stroke="#b0173c" stroke-width="1.0" />
<line x1="141.10" y1="293.17" x2="145.90" y2="293.17" stroke="#b0173c" stroke-width="1.0" />
<line x1="141.10" y1="285.25" x2="145.90" y2="285.25" stroke="#b0173c" stroke-width="1.0" />
<path d="M141.41,287.61 L143.50,291.41 L145.59,287.61 Z" fill="#b0173c"/>
<line x1="182.80" y1="312.42" x2="182.80" y2="307.89" stroke="#b0173c" stroke-width="1.0" />
<line x1="180.40" y1="312.42" x2="185.20" y2="312.42" stroke="#b0173c" stroke-width="1.0" />
<line x1="180.40" y1="307.89" x2="185.20" y2="307.89" stroke="#b0173c" stroke-width="1.0" />
<path d="M180.71,308.68 L182.80,312.48 L184.89,308.68 Z" fill="#b0173c"/>
<path d="M60.70,253.55 L61.21,254.59 L62.36,254.76 L61.53,255.57 L61.73,256.72 L60.70,256.18 L59.67,256.72 L59.87,255.57 L59.04,254.76 L60.19,254.59 Z" fill="#5da836"/>
<path d="M64.60,253.55 L65.11,254.59 L66.26,254.76 L65.43,255.57 L65.63,256.72 L64.60,256.18 L63.57,256.72 L63.77,255.57 L62.94,254.76 L64.09,254.59 Z" fill="#5da836"/>
<path d="M68.50,253.55 L69.01,254.59 L70.16,254.76 L69.33,255.57 L69.53,256.72 L68.50,256.18 L67.47,256.72 L67.67,255.57 L66.84,254.76 L67.99,254.59 Z" fill="#5da836"/>
<path d="M101.55,260.15 L102.06,261.19 L103.21,261.36 L102.38,262.17 L102.58,263.32 L101.55,262.77 L100.52,263.32 L100.72,262.17 L99.89,261.36 L101.04,261.19 Z" fill="#5da836"/>
<path d="M105.45,260.15 L105.96,261.19 L107.11,261.36 L106.28,262.17 L106.48,263.32 L105.45,262.77 L104.42,263.32 L104.62,262.17 L103.79,261.36 L104.94,261.19 Z" fill="#5da836"/>
<path d="M141.55,279.85 L142.06,280.89 L143.21,281.06 L142.38,281.87 L142.58,283.02 L141.55,282.48 L140.52,283.02 L140.72,281.87 L139.89,281.06 L141.04,280.89 Z" fill="#5da836"/>
<path d="M145.45,279.85 L145.96,280.89 L147.11,281.06 L146.28,281.87 L146.48,283.02 L145.45,282.48 L144.42,283.02 L144.62,281.87 L143.79,281.06 L144.94,280.89 Z" fill="#5da836"/>
<path d="M64.60,243.75 L65.11,244.79 L66.26,244.96 L65.43,245.77 L65.63,246.92 L64.60,246.38 L63.57,246.92 L63.77,245.77 L62.94,244.96 L64.09,244.79 Z" fill="#b0173c"/>
<path d="M103.50,250.35 L104.01,251.39 L105.16,251.56 L104.33,252.37 L104.53,253.52 L103.50,252.97 L102.47,253.52 L102.67,252.37 L101.84,251.56 L102.99,251.39 Z" fill="#b0173c"/>
<path d="M143.50,270.25 L144.01,271.29 L145.16,271.46 L144.33,272.27 L144.53,273.42 L143.50,272.88 L142.47,273.42 L142.67,272.27 L141.84,271.46 L142.99,271.29 Z" fill="#b0173c"/>
<line x1="109.10" y1="215.20" x2="119.10" y2="215.20" stroke="#2d5193" stroke-width="1.1" />
<circle cx="114.10" cy="215.20" r="1.40" fill="#2d5193"/>
<text x="122.90" y="217.70" font-size="7.6" fill="#231f20" text-anchor="start" stroke="#231f20" stroke-width="0.18" textLength="30.5" lengthAdjust="spacingAndGlyphs" >NT CTRL</text>
<line x1="109.10" y1="226.40" x2="119.10" y2="226.40" stroke="#5da836" stroke-width="1.1" />
<rect x="112.70" y="225.00" width="2.80" height="2.80" fill="#5da836" stroke="none" stroke-width="1" />
<text x="122.90" y="228.90" font-size="7.6" fill="#231f20" text-anchor="start" stroke="#231f20" stroke-width="0.18" textLength="42.5" lengthAdjust="spacingAndGlyphs" >NT CISH KO</text>
<line x1="109.10" y1="238.00" x2="119.10" y2="238.00" stroke="#a49bd8" stroke-width="1.1" />
<path d="M112.56,239.26 L114.10,236.46 L115.64,239.26 Z" fill="#a49bd8"/>
<text x="122.90" y="240.10" font-size="7.6" fill="#231f20" text-anchor="start" stroke="#231f20" stroke-width="0.18" textLength="78.0" lengthAdjust="spacingAndGlyphs" >iC9/CAR19/IL-15 CTRL</text>
<line x1="109.10" y1="249.40" x2="119.10" y2="249.40" stroke="#b0173c" stroke-width="1.1" />
<path d="M112.56,248.14 L114.10,250.94 L115.64,248.14 Z" fill="#b0173c"/>
<text x="122.90" y="251.40" font-size="7.6" fill="#231f20" text-anchor="start" stroke="#231f20" stroke-width="0.18" textLength="89.8" lengthAdjust="spacingAndGlyphs" >iC9/CAR19/IL-15 CISH KO</text>
<line x1="267.60" y1="226.00" x2="267.60" y2="346.60" stroke="#231f20" stroke-width="1.1" />
<line x1="267.10" y1="346.40" x2="408.50" y2="346.40" stroke="#231f20" stroke-width="1.1" />
<line x1="264.60" y1="346.30" x2="267.60" y2="346.30" stroke="#231f20" stroke-width="1.1" />
<text x="261.30" y="349.30" font-size="8.4" fill="#231f20" text-anchor="end" stroke="#231f20" stroke-width="0.18" >0</text>
<line x1="264.60" y1="326.68" x2="267.60" y2="326.68" stroke="#231f20" stroke-width="1.1" />
<text x="261.30" y="329.68" font-size="8.4" fill="#231f20" text-anchor="end" stroke="#231f20" stroke-width="0.18" >10</text>
<line x1="264.60" y1="307.06" x2="267.60" y2="307.06" stroke="#231f20" stroke-width="1.1" />
<text x="261.30" y="310.06" font-size="8.4" fill="#231f20" text-anchor="end" stroke="#231f20" stroke-width="0.18" >20</text>
<line x1="264.60" y1="287.44" x2="267.60" y2="287.44" stroke="#231f20" stroke-width="1.1" />
<text x="261.30" y="290.44" font-size="8.4" fill="#231f20" text-anchor="end" stroke="#231f20" stroke-width="0.18" >30</text>
<line x1="264.60" y1="267.82" x2="267.60" y2="267.82" stroke="#231f20" stroke-width="1.1" />
<text x="261.30" y="270.82" font-size="8.4" fill="#231f20" text-anchor="end" stroke="#231f20" stroke-width="0.18" >40</text>
<line x1="264.60" y1="248.20" x2="267.60" y2="248.20" stroke="#231f20" stroke-width="1.1" />
<text x="261.30" y="251.20" font-size="8.4" fill="#231f20" text-anchor="end" stroke="#231f20" stroke-width="0.18" >50</text>
<line x1="264.60" y1="228.58" x2="267.60" y2="228.58" stroke="#231f20" stroke-width="1.1" />
<text x="261.30" y="231.58" font-size="8.4" fill="#231f20" text-anchor="end" stroke="#231f20" stroke-width="0.18" >60</text>
<line x1="267.60" y1="346.40" x2="267.60" y2="348.80" stroke="#231f20" stroke-width="1" />
<text x="267.60" y="360.20" font-size="7.8" fill="#231f20" text-anchor="middle" stroke="#231f20" stroke-width="0.18" >0</text>
<line x1="279.06" y1="346.40" x2="279.06" y2="348.80" stroke="#231f20" stroke-width="1" />
<text x="279.06" y="360.20" font-size="7.8" fill="#231f20" text-anchor="middle" stroke="#231f20" stroke-width="0.18" >2</text>
<line x1="290.52" y1="346.40" x2="290.52" y2="348.80" stroke="#231f20" stroke-width="1" />
<text x="290.52" y="360.20" font-size="7.8" fill="#231f20" text-anchor="middle" stroke="#231f20" stroke-width="0.18" >4</text>
<line x1="301.98" y1="346.40" x2="301.98" y2="348.80" stroke="#231f20" stroke-width="1" />
<text x="301.98" y="360.20" font-size="7.8" fill="#231f20" text-anchor="middle" stroke="#231f20" stroke-width="0.18" >6</text>
<line x1="313.44" y1="346.40" x2="313.44" y2="348.80" stroke="#231f20" stroke-width="1" />
<text x="313.44" y="360.20" font-size="7.8" fill="#231f20" text-anchor="middle" stroke="#231f20" stroke-width="0.18" >8</text>
<line x1="324.90" y1="346.40" x2="324.90" y2="348.80" stroke="#231f20" stroke-width="1" />
<text x="324.90" y="360.20" font-size="7.8" fill="#231f20" text-anchor="middle" stroke="#231f20" stroke-width="0.18" >10</text>
<line x1="336.36" y1="346.40" x2="336.36" y2="348.80" stroke="#231f20" stroke-width="1" />
<text x="336.36" y="360.20" font-size="7.8" fill="#231f20" text-anchor="middle" stroke="#231f20" stroke-width="0.18" >12</text>
<line x1="347.82" y1="346.40" x2="347.82" y2="348.80" stroke="#231f20" stroke-width="1" />
<text x="347.82" y="360.20" font-size="7.8" fill="#231f20" text-anchor="middle" stroke="#231f20" stroke-width="0.18" >14</text>
<line x1="359.28" y1="346.40" x2="359.28" y2="348.80" stroke="#231f20" stroke-width="1" />
<text x="359.28" y="360.20" font-size="7.8" fill="#231f20" text-anchor="middle" stroke="#231f20" stroke-width="0.18" >16</text>
<line x1="370.74" y1="346.40" x2="370.74" y2="348.80" stroke="#231f20" stroke-width="1" />
<text x="370.74" y="360.20" font-size="7.8" fill="#231f20" text-anchor="middle" stroke="#231f20" stroke-width="0.18" >18</text>
<line x1="382.20" y1="346.40" x2="382.20" y2="348.80" stroke="#231f20" stroke-width="1" />
<text x="382.20" y="360.20" font-size="7.8" fill="#231f20" text-anchor="middle" stroke="#231f20" stroke-width="0.18" >20</text>
<line x1="393.66" y1="346.40" x2="393.66" y2="348.80" stroke="#231f20" stroke-width="1" />
<text x="393.66" y="360.20" font-size="7.8" fill="#231f20" text-anchor="middle" stroke="#231f20" stroke-width="0.18" >22</text>
<line x1="405.12" y1="346.40" x2="405.12" y2="348.80" stroke="#231f20" stroke-width="1" />
<text x="405.12" y="360.20" font-size="7.8" fill="#231f20" text-anchor="middle" stroke="#231f20" stroke-width="0.18" >24</text>
<text x="246.20" y="286.10" font-size="8.8" fill="#231f20" text-anchor="middle" stroke="#231f20" stroke-width="0.18" textLength="52.4" lengthAdjust="spacingAndGlyphs" transform="rotate(-90 246.20 286.10)" >Cytotoxicity (%)</text>
<text x="338.20" y="373.30" font-size="9.0" fill="#231f20" text-anchor="middle" stroke="#231f20" stroke-width="0.18" textLength="43.0" lengthAdjust="spacingAndGlyphs" >Time (hours)</text>
<polyline points="267.60,330.02 273.33,308.04 279.06,294.50 284.79,286.26 290.52,285.48 296.25,287.44 301.98,289.40 307.71,292.74 313.44,294.11 319.17,297.45 324.90,298.03 330.63,298.03 336.36,300.59 342.09,301.96 347.82,300.00 353.55,299.41 359.28,299.41 365.01,298.62 370.74,297.45 376.47,295.68 382.20,295.09 387.93,293.72 393.66,291.17 399.39,290.58 405.12,289.99" fill="none" stroke="#2d5193" stroke-width="1.1" />
<line x1="267.60" y1="332.96" x2="267.60" y2="327.07" stroke="#2d5193" stroke-width="0.8" />
<line x1="266.30" y1="332.96" x2="268.90" y2="332.96" stroke="#2d5193" stroke-width="0.8" />
<line x1="266.30" y1="327.07" x2="268.90" y2="327.07" stroke="#2d5193" stroke-width="0.8" />
<circle cx="267.60" cy="330.02" r="1.1" fill="#2d5193"/>
<line x1="273.33" y1="317.85" x2="273.33" y2="298.23" stroke="#2d5193" stroke-width="0.8" />
<line x1="272.03" y1="317.85" x2="274.63" y2="317.85" stroke="#2d5193" stroke-width="0.8" />
<line x1="272.03" y1="298.23" x2="274.63" y2="298.23" stroke="#2d5193" stroke-width="0.8" />
<circle cx="273.33" cy="308.04" r="1.1" fill="#2d5193"/>
<line x1="279.06" y1="306.28" x2="279.06" y2="282.73" stroke="#2d5193" stroke-width="0.8" />
<line x1="277.76" y1="306.28" x2="280.36" y2="306.28" stroke="#2d5193" stroke-width="0.8" />
<line x1="277.76" y1="282.73" x2="280.36" y2="282.73" stroke="#2d5193" stroke-width="0.8" />
<circle cx="279.06" cy="294.50" r="1.1" fill="#2d5193"/>
<line x1="284.79" y1="300.00" x2="284.79" y2="272.53" stroke="#2d5193" stroke-width="0.8" />
<line x1="283.49" y1="300.00" x2="286.09" y2="300.00" stroke="#2d5193" stroke-width="0.8" />
<line x1="283.49" y1="272.53" x2="286.09" y2="272.53" stroke="#2d5193" stroke-width="0.8" />
<circle cx="284.79" cy="286.26" r="1.1" fill="#2d5193"/>
<line x1="290.52" y1="297.25" x2="290.52" y2="273.71" stroke="#2d5193" stroke-width="0.8" />
<line x1="289.22" y1="297.25" x2="291.82" y2="297.25" stroke="#2d5193" stroke-width="0.8" />
<line x1="289.22" y1="273.71" x2="291.82" y2="273.71" stroke="#2d5193" stroke-width="0.8" />
<circle cx="290.52" cy="285.48" r="1.1" fill="#2d5193"/>
<line x1="296.25" y1="297.25" x2="296.25" y2="277.63" stroke="#2d5193" stroke-width="0.8" />
<line x1="294.95" y1="297.25" x2="297.55" y2="297.25" stroke="#2d5193" stroke-width="0.8" />
<line x1="294.95" y1="277.63" x2="297.55" y2="277.63" stroke="#2d5193" stroke-width="0.8" />
<circle cx="296.25" cy="287.44" r="1.1" fill="#2d5193"/>
<line x1="301.98" y1="299.21" x2="301.98" y2="279.59" stroke="#2d5193" stroke-width="0.8" />
<line x1="300.68" y1="299.21" x2="303.28" y2="299.21" stroke="#2d5193" stroke-width="0.8" />
<line x1="300.68" y1="279.59" x2="303.28" y2="279.59" stroke="#2d5193" stroke-width="0.8" />
<circle cx="301.98" cy="289.40" r="1.1" fill="#2d5193"/>
<line x1="307.71" y1="300.59" x2="307.71" y2="284.89" stroke="#2d5193" stroke-width="0.8" />
<line x1="306.41" y1="300.59" x2="309.01" y2="300.59" stroke="#2d5193" stroke-width="0.8" />
<line x1="306.41" y1="284.89" x2="309.01" y2="284.89" stroke="#2d5193" stroke-width="0.8" />
<circle cx="307.71" cy="292.74" r="1.1" fill="#2d5193"/>
<line x1="313.44" y1="301.96" x2="313.44" y2="286.26" stroke="#2d5193" stroke-width="0.8" />
<line x1="312.14" y1="301.96" x2="314.74" y2="301.96" stroke="#2d5193" stroke-width="0.8" />
<line x1="312.14" y1="286.26" x2="314.74" y2="286.26" stroke="#2d5193" stroke-width="0.8" />
<circle cx="313.44" cy="294.11" r="1.1" fill="#2d5193"/>
<line x1="319.17" y1="304.31" x2="319.17" y2="290.58" stroke="#2d5193" stroke-width="0.8" />
<line x1="317.87" y1="304.31" x2="320.47" y2="304.31" stroke="#2d5193" stroke-width="0.8" />
<line x1="317.87" y1="290.58" x2="320.47" y2="290.58" stroke="#2d5193" stroke-width="0.8" />
<circle cx="319.17" cy="297.45" r="1.1" fill="#2d5193"/>
<line x1="324.90" y1="304.90" x2="324.90" y2="291.17" stroke="#2d5193" stroke-width="0.8" />
<line x1="323.60" y1="304.90" x2="326.20" y2="304.90" stroke="#2d5193" stroke-width="0.8" />
<line x1="323.60" y1="291.17" x2="326.20" y2="291.17" stroke="#2d5193" stroke-width="0.8" />
<circle cx="324.90" cy="298.03" r="1.1" fill="#2d5193"/>
<line x1="330.63" y1="304.90" x2="330.63" y2="291.17" stroke="#2d5193" stroke-width="0.8" />
<line x1="329.33" y1="304.90" x2="331.93" y2="304.90" stroke="#2d5193" stroke-width="0.8" />
<line x1="329.33" y1="291.17" x2="331.93" y2="291.17" stroke="#2d5193" stroke-width="0.8" />
<circle cx="330.63" cy="298.03" r="1.1" fill="#2d5193"/>
<line x1="336.36" y1="306.47" x2="336.36" y2="294.70" stroke="#2d5193" stroke-width="0.8" />
<line x1="335.06" y1="306.47" x2="337.66" y2="306.47" stroke="#2d5193" stroke-width="0.8" />
<line x1="335.06" y1="294.70" x2="337.66" y2="294.70" stroke="#2d5193" stroke-width="0.8" />
<circle cx="336.36" cy="300.59" r="1.1" fill="#2d5193"/>
<line x1="342.09" y1="307.84" x2="342.09" y2="296.07" stroke="#2d5193" stroke-width="0.8" />
<line x1="340.79" y1="307.84" x2="343.39" y2="307.84" stroke="#2d5193" stroke-width="0.8" />
<line x1="340.79" y1="296.07" x2="343.39" y2="296.07" stroke="#2d5193" stroke-width="0.8" />
<circle cx="342.09" cy="301.96" r="1.1" fill="#2d5193"/>
<line x1="347.82" y1="305.88" x2="347.82" y2="294.11" stroke="#2d5193" stroke-width="0.8" />
<line x1="346.52" y1="305.88" x2="349.12" y2="305.88" stroke="#2d5193" stroke-width="0.8" />
<line x1="346.52" y1="294.11" x2="349.12" y2="294.11" stroke="#2d5193" stroke-width="0.8" />
<circle cx="347.82" cy="300.00" r="1.1" fill="#2d5193"/>
<line x1="353.55" y1="305.29" x2="353.55" y2="293.52" stroke="#2d5193" stroke-width="0.8" />
<line x1="352.25" y1="305.29" x2="354.85" y2="305.29" stroke="#2d5193" stroke-width="0.8" />
<line x1="352.25" y1="293.52" x2="354.85" y2="293.52" stroke="#2d5193" stroke-width="0.8" />
<circle cx="353.55" cy="299.41" r="1.1" fill="#2d5193"/>
<line x1="359.28" y1="305.29" x2="359.28" y2="293.52" stroke="#2d5193" stroke-width="0.8" />
<line x1="357.98" y1="305.29" x2="360.58" y2="305.29" stroke="#2d5193" stroke-width="0.8" />
<line x1="357.98" y1="293.52" x2="360.58" y2="293.52" stroke="#2d5193" stroke-width="0.8" />
<circle cx="359.28" cy="299.41" r="1.1" fill="#2d5193"/>
<line x1="365.01" y1="304.51" x2="365.01" y2="292.74" stroke="#2d5193" stroke-width="0.8" />
<line x1="363.71" y1="304.51" x2="366.31" y2="304.51" stroke="#2d5193" stroke-width="0.8" />
<line x1="363.71" y1="292.74" x2="366.31" y2="292.74" stroke="#2d5193" stroke-width="0.8" />
<circle cx="365.01" cy="298.62" r="1.1" fill="#2d5193"/>
<line x1="370.74" y1="304.31" x2="370.74" y2="290.58" stroke="#2d5193" stroke-width="0.8" />
<line x1="369.44" y1="304.31" x2="372.04" y2="304.31" stroke="#2d5193" stroke-width="0.8" />
<line x1="369.44" y1="290.58" x2="372.04" y2="290.58" stroke="#2d5193" stroke-width="0.8" />
<circle cx="370.74" cy="297.45" r="1.1" fill="#2d5193"/>
<line x1="376.47" y1="302.55" x2="376.47" y2="288.81" stroke="#2d5193" stroke-width="0.8" />
<line x1="375.17" y1="302.55" x2="377.77" y2="302.55" stroke="#2d5193" stroke-width="0.8" />
<line x1="375.17" y1="288.81" x2="377.77" y2="288.81" stroke="#2d5193" stroke-width="0.8" />
<circle cx="376.47" cy="295.68" r="1.1" fill="#2d5193"/>
<line x1="382.20" y1="301.96" x2="382.20" y2="288.22" stroke="#2d5193" stroke-width="0.8" />
<line x1="380.90" y1="301.96" x2="383.50" y2="301.96" stroke="#2d5193" stroke-width="0.8" />
<line x1="380.90" y1="288.22" x2="383.50" y2="288.22" stroke="#2d5193" stroke-width="0.8" />
<circle cx="382.20" cy="295.09" r="1.1" fill="#2d5193"/>
<line x1="387.93" y1="300.59" x2="387.93" y2="286.85" stroke="#2d5193" stroke-width="0.8" />
<line x1="386.63" y1="300.59" x2="389.23" y2="300.59" stroke="#2d5193" stroke-width="0.8" />
<line x1="386.63" y1="286.85" x2="389.23" y2="286.85" stroke="#2d5193" stroke-width="0.8" />
<circle cx="387.93" cy="293.72" r="1.1" fill="#2d5193"/>
<line x1="393.66" y1="299.02" x2="393.66" y2="283.32" stroke="#2d5193" stroke-width="0.8" />
<line x1="392.36" y1="299.02" x2="394.96" y2="299.02" stroke="#2d5193" stroke-width="0.8" />
<line x1="392.36" y1="283.32" x2="394.96" y2="283.32" stroke="#2d5193" stroke-width="0.8" />
<circle cx="393.66" cy="291.17" r="1.1" fill="#2d5193"/>
<line x1="399.39" y1="298.43" x2="399.39" y2="282.73" stroke="#2d5193" stroke-width="0.8" />
<line x1="398.09" y1="298.43" x2="400.69" y2="298.43" stroke="#2d5193" stroke-width="0.8" />
<line x1="398.09" y1="282.73" x2="400.69" y2="282.73" stroke="#2d5193" stroke-width="0.8" />
<circle cx="399.39" cy="290.58" r="1.1" fill="#2d5193"/>
<line x1="405.12" y1="296.86" x2="405.12" y2="283.12" stroke="#2d5193" stroke-width="0.8" />
<line x1="403.82" y1="296.86" x2="406.42" y2="296.86" stroke="#2d5193" stroke-width="0.8" />
<line x1="403.82" y1="283.12" x2="406.42" y2="283.12" stroke="#2d5193" stroke-width="0.8" />
<circle cx="405.12" cy="289.99" r="1.1" fill="#2d5193"/>
<polyline points="267.60,332.17 273.33,303.14 279.06,281.55 284.79,273.71 290.52,273.71 296.25,274.49 301.98,275.28 307.71,277.63 313.44,278.02 319.17,279.00 324.90,279.20 330.63,281.95 336.36,282.54 342.09,283.71 347.82,284.50 353.55,284.89 359.28,285.48 365.01,285.48 370.74,284.50 376.47,283.12 382.20,283.12 387.93,283.71 393.66,280.77 399.39,279.98 405.12,278.81" fill="none" stroke="#5da836" stroke-width="1.1" />
<line x1="267.60" y1="335.12" x2="267.60" y2="329.23" stroke="#5da836" stroke-width="0.8" />
<line x1="266.30" y1="335.12" x2="268.90" y2="335.12" stroke="#5da836" stroke-width="0.8" />
<line x1="266.30" y1="329.23" x2="268.90" y2="329.23" stroke="#5da836" stroke-width="0.8" />
<circle cx="267.60" cy="332.17" r="1.1" fill="#5da836"/>
<line x1="273.33" y1="309.02" x2="273.33" y2="297.25" stroke="#5da836" stroke-width="0.8" />
<line x1="272.03" y1="309.02" x2="274.63" y2="309.02" stroke="#5da836" stroke-width="0.8" />
<line x1="272.03" y1="297.25" x2="274.63" y2="297.25" stroke="#5da836" stroke-width="0.8" />
<circle cx="273.33" cy="303.14" r="1.1" fill="#5da836"/>
<line x1="279.06" y1="287.44" x2="279.06" y2="275.67" stroke="#5da836" stroke-width="0.8" />
<line x1="277.76" y1="287.44" x2="280.36" y2="287.44" stroke="#5da836" stroke-width="0.8" />
<line x1="277.76" y1="275.67" x2="280.36" y2="275.67" stroke="#5da836" stroke-width="0.8" />
<circle cx="279.06" cy="281.55" r="1.1" fill="#5da836"/>
<line x1="284.79" y1="277.63" x2="284.79" y2="269.78" stroke="#5da836" stroke-width="0.8" />
<line x1="283.49" y1="277.63" x2="286.09" y2="277.63" stroke="#5da836" stroke-width="0.8" />
<line x1="283.49" y1="269.78" x2="286.09" y2="269.78" stroke="#5da836" stroke-width="0.8" />
<circle cx="284.79" cy="273.71" r="1.1" fill="#5da836"/>
<line x1="290.52" y1="276.65" x2="290.52" y2="270.76" stroke="#5da836" stroke-width="0.8" />
<line x1="289.22" y1="276.65" x2="291.82" y2="276.65" stroke="#5da836" stroke-width="0.8" />
<line x1="289.22" y1="270.76" x2="291.82" y2="270.76" stroke="#5da836" stroke-width="0.8" />
<circle cx="290.52" cy="273.71" r="1.1" fill="#5da836"/>
<line x1="296.25" y1="277.43" x2="296.25" y2="271.55" stroke="#5da836" stroke-width="0.8" />
<line x1="294.95" y1="277.43" x2="297.55" y2="277.43" stroke="#5da836" stroke-width="0.8" />
<line x1="294.95" y1="271.55" x2="297.55" y2="271.55" stroke="#5da836" stroke-width="0.8" />
<circle cx="296.25" cy="274.49" r="1.1" fill="#5da836"/>
<line x1="301.98" y1="278.22" x2="301.98" y2="272.33" stroke="#5da836" stroke-width="0.8" />
<line x1="300.68" y1="278.22" x2="303.28" y2="278.22" stroke="#5da836" stroke-width="0.8" />
<line x1="300.68" y1="272.33" x2="303.28" y2="272.33" stroke="#5da836" stroke-width="0.8" />
<circle cx="301.98" cy="275.28" r="1.1" fill="#5da836"/>
<line x1="307.71" y1="280.57" x2="307.71" y2="274.69" stroke="#5da836" stroke-width="0.8" />
<line x1="306.41" y1="280.57" x2="309.01" y2="280.57" stroke="#5da836" stroke-width="0.8" />
<line x1="306.41" y1="274.69" x2="309.01" y2="274.69" stroke="#5da836" stroke-width="0.8" />
<circle cx="307.71" cy="277.63" r="1.1" fill="#5da836"/>
<line x1="313.44" y1="280.97" x2="313.44" y2="275.08" stroke="#5da836" stroke-width="0.8" />
<line x1="312.14" y1="280.97" x2="314.74" y2="280.97" stroke="#5da836" stroke-width="0.8" />
<line x1="312.14" y1="275.08" x2="314.74" y2="275.08" stroke="#5da836" stroke-width="0.8" />
<circle cx="313.44" cy="278.02" r="1.1" fill="#5da836"/>
<line x1="319.17" y1="281.95" x2="319.17" y2="276.06" stroke="#5da836" stroke-width="0.8" />
<line x1="317.87" y1="281.95" x2="320.47" y2="281.95" stroke="#5da836" stroke-width="0.8" />
<line x1="317.87" y1="276.06" x2="320.47" y2="276.06" stroke="#5da836" stroke-width="0.8" />
<circle cx="319.17" cy="279.00" r="1.1" fill="#5da836"/>
<line x1="324.90" y1="282.14" x2="324.90" y2="276.26" stroke="#5da836" stroke-width="0.8" />
<line x1="323.60" y1="282.14" x2="326.20" y2="282.14" stroke="#5da836" stroke-width="0.8" />
<line x1="323.60" y1="276.26" x2="326.20" y2="276.26" stroke="#5da836" stroke-width="0.8" />
<circle cx="324.90" cy="279.20" r="1.1" fill="#5da836"/>
<line x1="330.63" y1="284.89" x2="330.63" y2="279.00" stroke="#5da836" stroke-width="0.8" />
<line x1="329.33" y1="284.89" x2="331.93" y2="284.89" stroke="#5da836" stroke-width="0.8" />
<line x1="329.33" y1="279.00" x2="331.93" y2="279.00" stroke="#5da836" stroke-width="0.8" />
<circle cx="330.63" cy="281.95" r="1.1" fill="#5da836"/>
<line x1="336.36" y1="285.48" x2="336.36" y2="279.59" stroke="#5da836" stroke-width="0.8" />
<line x1="335.06" y1="285.48" x2="337.66" y2="285.48" stroke="#5da836" stroke-width="0.8" />
<line x1="335.06" y1="279.59" x2="337.66" y2="279.59" stroke="#5da836" stroke-width="0.8" />
<circle cx="336.36" cy="282.54" r="1.1" fill="#5da836"/>
<line x1="342.09" y1="286.66" x2="342.09" y2="280.77" stroke="#5da836" stroke-width="0.8" />
<line x1="340.79" y1="286.66" x2="343.39" y2="286.66" stroke="#5da836" stroke-width="0.8" />
<line x1="340.79" y1="280.77" x2="343.39" y2="280.77" stroke="#5da836" stroke-width="0.8" />
<circle cx="342.09" cy="283.71" r="1.1" fill="#5da836"/>
<line x1="347.82" y1="287.44" x2="347.82" y2="281.55" stroke="#5da836" stroke-width="0.8" />
<line x1="346.52" y1="287.44" x2="349.12" y2="287.44" stroke="#5da836" stroke-width="0.8" />
<line x1="346.52" y1="281.55" x2="349.12" y2="281.55" stroke="#5da836" stroke-width="0.8" />
<circle cx="347.82" cy="284.50" r="1.1" fill="#5da836"/>
<line x1="353.55" y1="287.83" x2="353.55" y2="281.95" stroke="#5da836" stroke-width="0.8" />
<line x1="352.25" y1="287.83" x2="354.85" y2="287.83" stroke="#5da836" stroke-width="0.8" />
<line x1="352.25" y1="281.95" x2="354.85" y2="281.95" stroke="#5da836" stroke-width="0.8" />
<circle cx="353.55" cy="284.89" r="1.1" fill="#5da836"/>
<line x1="359.28" y1="288.42" x2="359.28" y2="282.54" stroke="#5da836" stroke-width="0.8" />
<line x1="357.98" y1="288.42" x2="360.58" y2="288.42" stroke="#5da836" stroke-width="0.8" />
<line x1="357.98" y1="282.54" x2="360.58" y2="282.54" stroke="#5da836" stroke-width="0.8" />
<circle cx="359.28" cy="285.48" r="1.1" fill="#5da836"/>
<line x1="365.01" y1="289.40" x2="365.01" y2="281.55" stroke="#5da836" stroke-width="0.8" />
<line x1="363.71" y1="289.40" x2="366.31" y2="289.40" stroke="#5da836" stroke-width="0.8" />
<line x1="363.71" y1="281.55" x2="366.31" y2="281.55" stroke="#5da836" stroke-width="0.8" />
<circle cx="365.01" cy="285.48" r="1.1" fill="#5da836"/>
<line x1="370.74" y1="288.42" x2="370.74" y2="280.57" stroke="#5da836" stroke-width="0.8" />
<line x1="369.44" y1="288.42" x2="372.04" y2="288.42" stroke="#5da836" stroke-width="0.8" />
<line x1="369.44" y1="280.57" x2="372.04" y2="280.57" stroke="#5da836" stroke-width="0.8" />
<circle cx="370.74" cy="284.50" r="1.1" fill="#5da836"/>
<line x1="376.47" y1="287.05" x2="376.47" y2="279.20" stroke="#5da836" stroke-width="0.8" />
<line x1="375.17" y1="287.05" x2="377.77" y2="287.05" stroke="#5da836" stroke-width="0.8" />
<line x1="375.17" y1="279.20" x2="377.77" y2="279.20" stroke="#5da836" stroke-width="0.8" />
<circle cx="376.47" cy="283.12" r="1.1" fill="#5da836"/>
<line x1="382.20" y1="287.05" x2="382.20" y2="279.20" stroke="#5da836" stroke-width="0.8" />
<line x1="380.90" y1="287.05" x2="383.50" y2="287.05" stroke="#5da836" stroke-width="0.8" />
<line x1="380.90" y1="279.20" x2="383.50" y2="279.20" stroke="#5da836" stroke-width="0.8" />
<circle cx="382.20" cy="283.12" r="1.1" fill="#5da836"/>
<line x1="387.93" y1="288.62" x2="387.93" y2="278.81" stroke="#5da836" stroke-width="0.8" />
<line x1="386.63" y1="288.62" x2="389.23" y2="288.62" stroke="#5da836" stroke-width="0.8" />
<line x1="386.63" y1="278.81" x2="389.23" y2="278.81" stroke="#5da836" stroke-width="0.8" />
<circle cx="387.93" cy="283.71" r="1.1" fill="#5da836"/>
<line x1="393.66" y1="284.69" x2="393.66" y2="276.85" stroke="#5da836" stroke-width="0.8" />
<line x1="392.36" y1="284.69" x2="394.96" y2="284.69" stroke="#5da836" stroke-width="0.8" />
<line x1="392.36" y1="276.85" x2="394.96" y2="276.85" stroke="#5da836" stroke-width="0.8" />
<circle cx="393.66" cy="280.77" r="1.1" fill="#5da836"/>
<line x1="399.39" y1="283.91" x2="399.39" y2="276.06" stroke="#5da836" stroke-width="0.8" />
<line x1="398.09" y1="283.91" x2="400.69" y2="283.91" stroke="#5da836" stroke-width="0.8" />
<line x1="398.09" y1="276.06" x2="400.69" y2="276.06" stroke="#5da836" stroke-width="0.8" />
<circle cx="399.39" cy="279.98" r="1.1" fill="#5da836"/>
<line x1="405.12" y1="282.73" x2="405.12" y2="274.88" stroke="#5da836" stroke-width="0.8" />
<line x1="403.82" y1="282.73" x2="406.42" y2="282.73" stroke="#5da836" stroke-width="0.8" />
<line x1="403.82" y1="274.88" x2="406.42" y2="274.88" stroke="#5da836" stroke-width="0.8" />
<circle cx="405.12" cy="278.81" r="1.1" fill="#5da836"/>
<polyline points="267.60,329.62 273.33,301.17 279.06,280.57 284.79,273.31 290.52,270.76 296.25,270.17 301.98,270.17 307.71,269.78 313.44,269.78 319.17,271.35 324.90,271.74 330.63,271.74 336.36,270.76 342.09,270.76 347.82,270.96 353.55,271.16 359.28,271.16 365.01,271.35 370.74,271.35 376.47,270.96 382.20,270.76 387.93,273.71 393.66,267.43 399.39,267.04 405.12,267.04" fill="none" stroke="#a49bd8" stroke-width="1.1" />
<line x1="267.60" y1="332.57" x2="267.60" y2="326.68" stroke="#a49bd8" stroke-width="0.8" />
<line x1="266.30" y1="332.57" x2="268.90" y2="332.57" stroke="#a49bd8" stroke-width="0.8" />
<line x1="266.30" y1="326.68" x2="268.90" y2="326.68" stroke="#a49bd8" stroke-width="0.8" />
<circle cx="267.60" cy="329.62" r="1.1" fill="#a49bd8"/>
<line x1="273.33" y1="307.06" x2="273.33" y2="295.29" stroke="#a49bd8" stroke-width="0.8" />
<line x1="272.03" y1="307.06" x2="274.63" y2="307.06" stroke="#a49bd8" stroke-width="0.8" />
<line x1="272.03" y1="295.29" x2="274.63" y2="295.29" stroke="#a49bd8" stroke-width="0.8" />
<circle cx="273.33" cy="301.17" r="1.1" fill="#a49bd8"/>
<line x1="279.06" y1="286.46" x2="279.06" y2="274.69" stroke="#a49bd8" stroke-width="0.8" />
<line x1="277.76" y1="286.46" x2="280.36" y2="286.46" stroke="#a49bd8" stroke-width="0.8" />
<line x1="277.76" y1="274.69" x2="280.36" y2="274.69" stroke="#a49bd8" stroke-width="0.8" />
<circle cx="279.06" cy="280.57" r="1.1" fill="#a49bd8"/>
<line x1="284.79" y1="277.24" x2="284.79" y2="269.39" stroke="#a49bd8" stroke-width="0.8" />
<line x1="283.49" y1="277.24" x2="286.09" y2="277.24" stroke="#a49bd8" stroke-width="0.8" />
<line x1="283.49" y1="269.39" x2="286.09" y2="269.39" stroke="#a49bd8" stroke-width="0.8" />
<circle cx="284.79" cy="273.31" r="1.1" fill="#a49bd8"/>
<line x1="290.52" y1="274.69" x2="290.52" y2="266.84" stroke="#a49bd8" stroke-width="0.8" />
<line x1="289.22" y1="274.69" x2="291.82" y2="274.69" stroke="#a49bd8" stroke-width="0.8" />
<line x1="289.22" y1="266.84" x2="291.82" y2="266.84" stroke="#a49bd8" stroke-width="0.8" />
<circle cx="290.52" cy="270.76" r="1.1" fill="#a49bd8"/>
<line x1="296.25" y1="274.10" x2="296.25" y2="266.25" stroke="#a49bd8" stroke-width="0.8" />
<line x1="294.95" y1="274.10" x2="297.55" y2="274.10" stroke="#a49bd8" stroke-width="0.8" />
<line x1="294.95" y1="266.25" x2="297.55" y2="266.25" stroke="#a49bd8" stroke-width="0.8" />
<circle cx="296.25" cy="270.17" r="1.1" fill="#a49bd8"/>
<line x1="301.98" y1="274.10" x2="301.98" y2="266.25" stroke="#a49bd8" stroke-width="0.8" />
<line x1="300.68" y1="274.10" x2="303.28" y2="274.10" stroke="#a49bd8" stroke-width="0.8" />
<line x1="300.68" y1="266.25" x2="303.28" y2="266.25" stroke="#a49bd8" stroke-width="0.8" />
<circle cx="301.98" cy="270.17" r="1.1" fill="#a49bd8"/>
<line x1="307.71" y1="274.69" x2="307.71" y2="264.88" stroke="#a49bd8" stroke-width="0.8" />
<line x1="306.41" y1="274.69" x2="309.01" y2="274.69" stroke="#a49bd8" stroke-width="0.8" />
<line x1="306.41" y1="264.88" x2="309.01" y2="264.88" stroke="#a49bd8" stroke-width="0.8" />
<circle cx="307.71" cy="269.78" r="1.1" fill="#a49bd8"/>
<line x1="313.44" y1="273.71" x2="313.44" y2="265.86" stroke="#a49bd8" stroke-width="0.8" />
<line x1="312.14" y1="273.71" x2="314.74" y2="273.71" stroke="#a49bd8" stroke-width="0.8" />
<line x1="312.14" y1="265.86" x2="314.74" y2="265.86" stroke="#a49bd8" stroke-width="0.8" />
<circle cx="313.44" cy="269.78" r="1.1" fill="#a49bd8"/>
<line x1="319.17" y1="275.28" x2="319.17" y2="267.43" stroke="#a49bd8" stroke-width="0.8" />
<line x1="317.87" y1="275.28" x2="320.47" y2="275.28" stroke="#a49bd8" stroke-width="0.8" />
<line x1="317.87" y1="267.43" x2="320.47" y2="267.43" stroke="#a49bd8" stroke-width="0.8" />
<circle cx="319.17" cy="271.35" r="1.1" fill="#a49bd8"/>
<line x1="324.90" y1="275.67" x2="324.90" y2="267.82" stroke="#a49bd8" stroke-width="0.8" />
<line x1="323.60" y1="275.67" x2="326.20" y2="275.67" stroke="#a49bd8" stroke-width="0.8" />
<line x1="323.60" y1="267.82" x2="326.20" y2="267.82" stroke="#a49bd8" stroke-width="0.8" />
<circle cx="324.90" cy="271.74" r="1.1" fill="#a49bd8"/>
<line x1="330.63" y1="275.67" x2="330.63" y2="267.82" stroke="#a49bd8" stroke-width="0.8" />
<line x1="329.33" y1="275.67" x2="331.93" y2="275.67" stroke="#a49bd8" stroke-width="0.8" />
<line x1="329.33" y1="267.82" x2="331.93" y2="267.82" stroke="#a49bd8" stroke-width="0.8" />
<circle cx="330.63" cy="271.74" r="1.1" fill="#a49bd8"/>
<line x1="336.36" y1="275.67" x2="336.36" y2="265.86" stroke="#a49bd8" stroke-width="0.8" />
<line x1="335.06" y1="275.67" x2="337.66" y2="275.67" stroke="#a49bd8" stroke-width="0.8" />
<line x1="335.06" y1="265.86" x2="337.66" y2="265.86" stroke="#a49bd8" stroke-width="0.8" />
<circle cx="336.36" cy="270.76" r="1.1" fill="#a49bd8"/>
<line x1="342.09" y1="274.69" x2="342.09" y2="266.84" stroke="#a49bd8" stroke-width="0.8" />
<line x1="340.79" y1="274.69" x2="343.39" y2="274.69" stroke="#a49bd8" stroke-width="0.8" />
<line x1="340.79" y1="266.84" x2="343.39" y2="266.84" stroke="#a49bd8" stroke-width="0.8" />
<circle cx="342.09" cy="270.76" r="1.1" fill="#a49bd8"/>
<line x1="347.82" y1="274.88" x2="347.82" y2="267.04" stroke="#a49bd8" stroke-width="0.8" />
<line x1="346.52" y1="274.88" x2="349.12" y2="274.88" stroke="#a49bd8" stroke-width="0.8" />
<line x1="346.52" y1="267.04" x2="349.12" y2="267.04" stroke="#a49bd8" stroke-width="0.8" />
<circle cx="347.82" cy="270.96" r="1.1" fill="#a49bd8"/>
<line x1="353.55" y1="276.06" x2="353.55" y2="266.25" stroke="#a49bd8" stroke-width="0.8" />
<line x1="352.25" y1="276.06" x2="354.85" y2="276.06" stroke="#a49bd8" stroke-width="0.8" />
<line x1="352.25" y1="266.25" x2="354.85" y2="266.25" stroke="#a49bd8" stroke-width="0.8" />
<circle cx="353.55" cy="271.16" r="1.1" fill="#a49bd8"/>
<line x1="359.28" y1="275.08" x2="359.28" y2="267.23" stroke="#a49bd8" stroke-width="0.8" />
<line x1="357.98" y1="275.08" x2="360.58" y2="275.08" stroke="#a49bd8" stroke-width="0.8" />
<line x1="357.98" y1="267.23" x2="360.58" y2="267.23" stroke="#a49bd8" stroke-width="0.8" />
<circle cx="359.28" cy="271.16" r="1.1" fill="#a49bd8"/>
<line x1="365.01" y1="277.24" x2="365.01" y2="265.47" stroke="#a49bd8" stroke-width="0.8" />
<line x1="363.71" y1="277.24" x2="366.31" y2="277.24" stroke="#a49bd8" stroke-width="0.8" />
<line x1="363.71" y1="265.47" x2="366.31" y2="265.47" stroke="#a49bd8" stroke-width="0.8" />
<circle cx="365.01" cy="271.35" r="1.1" fill="#a49bd8"/>
<line x1="370.74" y1="278.22" x2="370.74" y2="264.48" stroke="#a49bd8" stroke-width="0.8" />
<line x1="369.44" y1="278.22" x2="372.04" y2="278.22" stroke="#a49bd8" stroke-width="0.8" />
<line x1="369.44" y1="264.48" x2="372.04" y2="264.48" stroke="#a49bd8" stroke-width="0.8" />
<circle cx="370.74" cy="271.35" r="1.1" fill="#a49bd8"/>
<line x1="376.47" y1="279.79" x2="376.47" y2="262.13" stroke="#a49bd8" stroke-width="0.8" />
<line x1="375.17" y1="279.79" x2="377.77" y2="279.79" stroke="#a49bd8" stroke-width="0.8" />
<line x1="375.17" y1="262.13" x2="377.77" y2="262.13" stroke="#a49bd8" stroke-width="0.8" />
<circle cx="376.47" cy="270.96" r="1.1" fill="#a49bd8"/>
<line x1="382.20" y1="280.57" x2="382.20" y2="260.95" stroke="#a49bd8" stroke-width="0.8" />
<line x1="380.90" y1="280.57" x2="383.50" y2="280.57" stroke="#a49bd8" stroke-width="0.8" />
<line x1="380.90" y1="260.95" x2="383.50" y2="260.95" stroke="#a49bd8" stroke-width="0.8" />
<circle cx="382.20" cy="270.76" r="1.1" fill="#a49bd8"/>
<line x1="387.93" y1="282.54" x2="387.93" y2="264.88" stroke="#a49bd8" stroke-width="0.8" />
<line x1="386.63" y1="282.54" x2="389.23" y2="282.54" stroke="#a49bd8" stroke-width="0.8" />
<line x1="386.63" y1="264.88" x2="389.23" y2="264.88" stroke="#a49bd8" stroke-width="0.8" />
<circle cx="387.93" cy="273.71" r="1.1" fill="#a49bd8"/>
<line x1="393.66" y1="277.24" x2="393.66" y2="257.62" stroke="#a49bd8" stroke-width="0.8" />
<line x1="392.36" y1="277.24" x2="394.96" y2="277.24" stroke="#a49bd8" stroke-width="0.8" />
<line x1="392.36" y1="257.62" x2="394.96" y2="257.62" stroke="#a49bd8" stroke-width="0.8" />
<circle cx="393.66" cy="267.43" r="1.1" fill="#a49bd8"/>
<line x1="399.39" y1="276.85" x2="399.39" y2="257.23" stroke="#a49bd8" stroke-width="0.8" />
<line x1="398.09" y1="276.85" x2="400.69" y2="276.85" stroke="#a49bd8" stroke-width="0.8" />
<line x1="398.09" y1="257.23" x2="400.69" y2="257.23" stroke="#a49bd8" stroke-width="0.8" />
<circle cx="399.39" cy="267.04" r="1.1" fill="#a49bd8"/>
<line x1="405.12" y1="276.85" x2="405.12" y2="257.23" stroke="#a49bd8" stroke-width="0.8" />
<line x1="403.82" y1="276.85" x2="406.42" y2="276.85" stroke="#a49bd8" stroke-width="0.8" />
<line x1="403.82" y1="257.23" x2="406.42" y2="257.23" stroke="#a49bd8" stroke-width="0.8" />
<circle cx="405.12" cy="267.04" r="1.1" fill="#a49bd8"/>
<polyline points="267.60,327.07 273.33,287.05 279.06,265.47 284.79,256.64 290.52,251.73 296.25,251.93 301.98,250.36 307.71,247.02 313.44,245.85 319.17,245.06 324.90,245.06 330.63,246.24 336.36,247.02 342.09,247.42 347.82,248.59 353.55,249.77 359.28,250.95 365.01,251.14 370.74,250.75 376.47,250.75 382.20,249.97 387.93,250.75 393.66,250.75 399.39,252.52 405.12,249.18" fill="none" stroke="#b0173c" stroke-width="1.1" />
<line x1="267.60" y1="330.02" x2="267.60" y2="324.13" stroke="#b0173c" stroke-width="0.8" />
<line x1="266.30" y1="330.02" x2="268.90" y2="330.02" stroke="#b0173c" stroke-width="0.8" />
<line x1="266.30" y1="324.13" x2="268.90" y2="324.13" stroke="#b0173c" stroke-width="0.8" />
<circle cx="267.60" cy="327.07" r="1.1" fill="#b0173c"/>
<line x1="273.33" y1="290.97" x2="273.33" y2="283.12" stroke="#b0173c" stroke-width="0.8" />
<line x1="272.03" y1="290.97" x2="274.63" y2="290.97" stroke="#b0173c" stroke-width="0.8" />
<line x1="272.03" y1="283.12" x2="274.63" y2="283.12" stroke="#b0173c" stroke-width="0.8" />
<circle cx="273.33" cy="287.05" r="1.1" fill="#b0173c"/>
<line x1="279.06" y1="269.39" x2="279.06" y2="261.54" stroke="#b0173c" stroke-width="0.8" />
<line x1="277.76" y1="269.39" x2="280.36" y2="269.39" stroke="#b0173c" stroke-width="0.8" />
<line x1="277.76" y1="261.54" x2="280.36" y2="261.54" stroke="#b0173c" stroke-width="0.8" />
<circle cx="279.06" cy="265.47" r="1.1" fill="#b0173c"/>
<line x1="284.79" y1="262.52" x2="284.79" y2="250.75" stroke="#b0173c" stroke-width="0.8" />
<line x1="283.49" y1="262.52" x2="286.09" y2="262.52" stroke="#b0173c" stroke-width="0.8" />
<line x1="283.49" y1="250.75" x2="286.09" y2="250.75" stroke="#b0173c" stroke-width="0.8" />
<circle cx="284.79" cy="256.64" r="1.1" fill="#b0173c"/>
<line x1="290.52" y1="256.64" x2="290.52" y2="246.83" stroke="#b0173c" stroke-width="0.8" />
<line x1="289.22" y1="256.64" x2="291.82" y2="256.64" stroke="#b0173c" stroke-width="0.8" />
<line x1="289.22" y1="246.83" x2="291.82" y2="246.83" stroke="#b0173c" stroke-width="0.8" />
<circle cx="290.52" cy="251.73" r="1.1" fill="#b0173c"/>
<line x1="296.25" y1="256.83" x2="296.25" y2="247.02" stroke="#b0173c" stroke-width="0.8" />
<line x1="294.95" y1="256.83" x2="297.55" y2="256.83" stroke="#b0173c" stroke-width="0.8" />
<line x1="294.95" y1="247.02" x2="297.55" y2="247.02" stroke="#b0173c" stroke-width="0.8" />
<circle cx="296.25" cy="251.93" r="1.1" fill="#b0173c"/>
<line x1="301.98" y1="255.26" x2="301.98" y2="245.45" stroke="#b0173c" stroke-width="0.8" />
<line x1="300.68" y1="255.26" x2="303.28" y2="255.26" stroke="#b0173c" stroke-width="0.8" />
<line x1="300.68" y1="245.45" x2="303.28" y2="245.45" stroke="#b0173c" stroke-width="0.8" />
<circle cx="301.98" cy="250.36" r="1.1" fill="#b0173c"/>
<line x1="307.71" y1="251.93" x2="307.71" y2="242.12" stroke="#b0173c" stroke-width="0.8" />
<line x1="306.41" y1="251.93" x2="309.01" y2="251.93" stroke="#b0173c" stroke-width="0.8" />
<line x1="306.41" y1="242.12" x2="309.01" y2="242.12" stroke="#b0173c" stroke-width="0.8" />
<circle cx="307.71" cy="247.02" r="1.1" fill="#b0173c"/>
<line x1="313.44" y1="251.73" x2="313.44" y2="239.96" stroke="#b0173c" stroke-width="0.8" />
<line x1="312.14" y1="251.73" x2="314.74" y2="251.73" stroke="#b0173c" stroke-width="0.8" />
<line x1="312.14" y1="239.96" x2="314.74" y2="239.96" stroke="#b0173c" stroke-width="0.8" />
<circle cx="313.44" cy="245.85" r="1.1" fill="#b0173c"/>
<line x1="319.17" y1="250.95" x2="319.17" y2="239.17" stroke="#b0173c" stroke-width="0.8" />
<line x1="317.87" y1="250.95" x2="320.47" y2="250.95" stroke="#b0173c" stroke-width="0.8" />
<line x1="317.87" y1="239.17" x2="320.47" y2="239.17" stroke="#b0173c" stroke-width="0.8" />
<circle cx="319.17" cy="245.06" r="1.1" fill="#b0173c"/>
<line x1="324.90" y1="249.97" x2="324.90" y2="240.16" stroke="#b0173c" stroke-width="0.8" />
<line x1="323.60" y1="249.97" x2="326.20" y2="249.97" stroke="#b0173c" stroke-width="0.8" />
<line x1="323.60" y1="240.16" x2="326.20" y2="240.16" stroke="#b0173c" stroke-width="0.8" />
<circle cx="324.90" cy="245.06" r="1.1" fill="#b0173c"/>
<line x1="330.63" y1="251.14" x2="330.63" y2="241.33" stroke="#b0173c" stroke-width="0.8" />
<line x1="329.33" y1="251.14" x2="331.93" y2="251.14" stroke="#b0173c" stroke-width="0.8" />
<line x1="329.33" y1="241.33" x2="331.93" y2="241.33" stroke="#b0173c" stroke-width="0.8" />
<circle cx="330.63" cy="246.24" r="1.1" fill="#b0173c"/>
<line x1="336.36" y1="251.93" x2="336.36" y2="242.12" stroke="#b0173c" stroke-width="0.8" />
<line x1="335.06" y1="251.93" x2="337.66" y2="251.93" stroke="#b0173c" stroke-width="0.8" />
<line x1="335.06" y1="242.12" x2="337.66" y2="242.12" stroke="#b0173c" stroke-width="0.8" />
<circle cx="336.36" cy="247.02" r="1.1" fill="#b0173c"/>
<line x1="342.09" y1="252.32" x2="342.09" y2="242.51" stroke="#b0173c" stroke-width="0.8" />
<line x1="340.79" y1="252.32" x2="343.39" y2="252.32" stroke="#b0173c" stroke-width="0.8" />
<line x1="340.79" y1="242.51" x2="343.39" y2="242.51" stroke="#b0173c" stroke-width="0.8" />
<circle cx="342.09" cy="247.42" r="1.1" fill="#b0173c"/>
<line x1="347.82" y1="253.50" x2="347.82" y2="243.69" stroke="#b0173c" stroke-width="0.8" />
<line x1="346.52" y1="253.50" x2="349.12" y2="253.50" stroke="#b0173c" stroke-width="0.8" />
<line x1="346.52" y1="243.69" x2="349.12" y2="243.69" stroke="#b0173c" stroke-width="0.8" />
<circle cx="347.82" cy="248.59" r="1.1" fill="#b0173c"/>
<line x1="353.55" y1="254.67" x2="353.55" y2="244.86" stroke="#b0173c" stroke-width="0.8" />
<line x1="352.25" y1="254.67" x2="354.85" y2="254.67" stroke="#b0173c" stroke-width="0.8" />
<line x1="352.25" y1="244.86" x2="354.85" y2="244.86" stroke="#b0173c" stroke-width="0.8" />
<circle cx="353.55" cy="249.77" r="1.1" fill="#b0173c"/>
<line x1="359.28" y1="255.85" x2="359.28" y2="246.04" stroke="#b0173c" stroke-width="0.8" />
<line x1="357.98" y1="255.85" x2="360.58" y2="255.85" stroke="#b0173c" stroke-width="0.8" />
<line x1="357.98" y1="246.04" x2="360.58" y2="246.04" stroke="#b0173c" stroke-width="0.8" />
<circle cx="359.28" cy="250.95" r="1.1" fill="#b0173c"/>
<line x1="365.01" y1="257.03" x2="365.01" y2="245.26" stroke="#b0173c" stroke-width="0.8" />
<line x1="363.71" y1="257.03" x2="366.31" y2="257.03" stroke="#b0173c" stroke-width="0.8" />
<line x1="363.71" y1="245.26" x2="366.31" y2="245.26" stroke="#b0173c" stroke-width="0.8" />
<circle cx="365.01" cy="251.14" r="1.1" fill="#b0173c"/>
<line x1="370.74" y1="258.60" x2="370.74" y2="242.90" stroke="#b0173c" stroke-width="0.8" />
<line x1="369.44" y1="258.60" x2="372.04" y2="258.60" stroke="#b0173c" stroke-width="0.8" />
<line x1="369.44" y1="242.90" x2="372.04" y2="242.90" stroke="#b0173c" stroke-width="0.8" />
<circle cx="370.74" cy="250.75" r="1.1" fill="#b0173c"/>
<line x1="376.47" y1="260.56" x2="376.47" y2="240.94" stroke="#b0173c" stroke-width="0.8" />
<line x1="375.17" y1="260.56" x2="377.77" y2="260.56" stroke="#b0173c" stroke-width="0.8" />
<line x1="375.17" y1="240.94" x2="377.77" y2="240.94" stroke="#b0173c" stroke-width="0.8" />
<circle cx="376.47" cy="250.75" r="1.1" fill="#b0173c"/>
<line x1="382.20" y1="258.79" x2="382.20" y2="241.14" stroke="#b0173c" stroke-width="0.8" />
<line x1="380.90" y1="258.79" x2="383.50" y2="258.79" stroke="#b0173c" stroke-width="0.8" />
<line x1="380.90" y1="241.14" x2="383.50" y2="241.14" stroke="#b0173c" stroke-width="0.8" />
<circle cx="382.20" cy="249.97" r="1.1" fill="#b0173c"/>
<line x1="387.93" y1="258.60" x2="387.93" y2="242.90" stroke="#b0173c" stroke-width="0.8" />
<line x1="386.63" y1="258.60" x2="389.23" y2="258.60" stroke="#b0173c" stroke-width="0.8" />
<line x1="386.63" y1="242.90" x2="389.23" y2="242.90" stroke="#b0173c" stroke-width="0.8" />
<circle cx="387.93" cy="250.75" r="1.1" fill="#b0173c"/>
<line x1="393.66" y1="257.62" x2="393.66" y2="243.88" stroke="#b0173c" stroke-width="0.8" />
<line x1="392.36" y1="257.62" x2="394.96" y2="257.62" stroke="#b0173c" stroke-width="0.8" />
<line x1="392.36" y1="243.88" x2="394.96" y2="243.88" stroke="#b0173c" stroke-width="0.8" />
<circle cx="393.66" cy="250.75" r="1.1" fill="#b0173c"/>
<line x1="399.39" y1="257.42" x2="399.39" y2="247.61" stroke="#b0173c" stroke-width="0.8" />
<line x1="398.09" y1="257.42" x2="400.69" y2="257.42" stroke="#b0173c" stroke-width="0.8" />
<line x1="398.09" y1="247.61" x2="400.69" y2="247.61" stroke="#b0173c" stroke-width="0.8" />
<circle cx="399.39" cy="252.52" r="1.1" fill="#b0173c"/>
<line x1="405.12" y1="255.07" x2="405.12" y2="243.30" stroke="#b0173c" stroke-width="0.8" />
<line x1="403.82" y1="255.07" x2="406.42" y2="255.07" stroke="#b0173c" stroke-width="0.8" />
<line x1="403.82" y1="243.30" x2="406.42" y2="243.30" stroke="#b0173c" stroke-width="0.8" />
<circle cx="405.12" cy="249.18" r="1.1" fill="#b0173c"/>
<line x1="411.10" y1="230.00" x2="418.80" y2="230.00" stroke="#2d5193" stroke-width="1.1" />
<circle cx="414.9" cy="230.00" r="1.1" fill="#2d5193"/>
<text x="421.90" y="232.20" font-size="7.4" fill="#231f20" text-anchor="start" stroke="#231f20" stroke-width="0.18" textLength="30.6" lengthAdjust="spacingAndGlyphs" >NT CTRL</text>
<line x1="411.10" y1="241.50" x2="418.80" y2="241.50" stroke="#5da836" stroke-width="1.1" />
<circle cx="414.9" cy="241.50" r="1.1" fill="#5da836"/>
<text x="421.90" y="243.50" font-size="7.4" fill="#231f20" text-anchor="start" stroke="#231f20" stroke-width="0.18" textLength="42.8" lengthAdjust="spacingAndGlyphs" >NT CISH KO</text>
<line x1="411.10" y1="253.00" x2="418.80" y2="253.00" stroke="#a49bd8" stroke-width="1.1" />
<circle cx="414.9" cy="253.00" r="1.1" fill="#a49bd8"/>
<text x="421.90" y="254.80" font-size="7.4" fill="#231f20" text-anchor="start" stroke="#231f20" stroke-width="0.18" textLength="78.0" lengthAdjust="spacingAndGlyphs" >iC9/CAR19/IL-15 CTRL</text>
<line x1="411.10" y1="264.20" x2="418.80" y2="264.20" stroke="#b0173c" stroke-width="1.1" />
<circle cx="414.9" cy="264.20" r="1.1" fill="#b0173c"/>
<text x="421.90" y="266.30" font-size="7.4" fill="#231f20" text-anchor="start" stroke="#231f20" stroke-width="0.18" textLength="91.0" lengthAdjust="spacingAndGlyphs" >iC9/CAR19/IL-15 CISH KO</text>
<defs>
<filter id="bfnoise" x="0" y="0" width="100%" height="100%">
<feTurbulence type="fractalNoise" baseFrequency="0.55" numOctaves="2" seed="3" result="n"/>
<feColorMatrix in="n" type="matrix" values="0 0 0 0 0.5  0 0 0 0 0.5  0 0 0 0 0.5  1.1 0 0 0 -0.2" result="g"/>
<feComposite in="g" in2="SourceGraphic" operator="in"/>
</filter>
<filter id="glow" x="-20%" y="-20%" width="140%" height="140%"><feGaussianBlur stdDeviation="0.35"/></filter>
</defs>
<text x="29.20" y="412.20" font-size="8.4" fill="#231f20" text-anchor="middle" stroke="#231f20" stroke-width="0.18" textLength="10.0" lengthAdjust="spacingAndGlyphs" >BF</text>
<text x="61.30" y="412.20" font-size="8.4" fill="#5cb85c" text-anchor="middle" stroke="#5cb85c" stroke-width="0.18" textLength="20" lengthAdjust="spacingAndGlyphs" >CD19</text>
<text x="92.60" y="412.20" font-size="8.4" fill="#c8283c" text-anchor="middle" stroke="#c8283c" stroke-width="0.18" textLength="28.5" lengthAdjust="spacingAndGlyphs" >Perforin</text>
<text x="124.80" y="412.20" font-size="8.4" fill="#3b4fae" text-anchor="middle" stroke="#3b4fae" stroke-width="0.18" textLength="26" lengthAdjust="spacingAndGlyphs" >F-actin</text>
<text x="156.50" y="412.20" font-size="8.4" fill="#8a86d6" text-anchor="middle" stroke="#8a86d6" stroke-width="0.18" textLength="17" lengthAdjust="spacingAndGlyphs" >CAR</text>
<text x="188.20" y="412.20" font-size="8.4" fill="#231f20" text-anchor="middle" stroke="#231f20" stroke-width="0.18" textLength="28" lengthAdjust="spacingAndGlyphs" >Overlay</text>
<rect x="14.40" y="417.00" width="29.00" height="39.00" fill="#8e8e8e" stroke="none" stroke-width="1" />
<rect x="14.40" y="417.00" width="29.00" height="39.00" fill="#000" filter="url(#bfnoise)" opacity="0.55"/>
<path d="M38.41,426.80 L38.23,428.40 L37.66,429.93 L36.60,431.19 L35.30,432.18 L33.89,432.99 L32.31,433.40 L30.70,433.37 L29.10,433.36 L27.30,433.40 L25.56,432.81 L24.50,431.41 L24.05,429.79 L23.67,428.30 L23.41,426.80 L23.61,425.29 L24.15,423.86 L24.87,422.46 L25.95,421.24 L27.39,420.38 L28.97,419.75 L30.70,419.37 L32.43,419.71 L33.81,420.78 L34.91,421.87 L36.23,422.68 L37.57,423.71 L38.30,425.18 Z" fill="#7c7c7c" fill-opacity="0.5" stroke="#d0d0d0" stroke-width="1.1" stroke-opacity="0.85"/>
<ellipse cx="29.96" cy="428.62" rx="1.15" ry="0.68" fill="#c4c4c4" fill-opacity="0.8"/>
<ellipse cx="26.61" cy="429.18" rx="0.84" ry="0.53" fill="#d0d0d0" fill-opacity="0.8"/>
<ellipse cx="26.70" cy="428.07" rx="0.84" ry="0.47" fill="#5a5a5a" fill-opacity="0.8"/>
<ellipse cx="33.34" cy="423.99" rx="1.15" ry="0.59" fill="#6e6e6e" fill-opacity="0.8"/>
<ellipse cx="26.46" cy="429.33" rx="0.58" ry="0.45" fill="#5a5a5a" fill-opacity="0.8"/>
<ellipse cx="26.33" cy="423.98" rx="1.12" ry="0.83" fill="#5a5a5a" fill-opacity="0.8"/>
<ellipse cx="31.86" cy="427.23" rx="1.22" ry="0.67" fill="#5a5a5a" fill-opacity="0.8"/>
<ellipse cx="26.35" cy="422.98" rx="0.82" ry="0.85" fill="#6e6e6e" fill-opacity="0.8"/>
<ellipse cx="33.10" cy="425.17" rx="0.73" ry="0.75" fill="#d0d0d0" fill-opacity="0.8"/>
<ellipse cx="26.85" cy="422.58" rx="0.89" ry="0.76" fill="#d0d0d0" fill-opacity="0.8"/>
<ellipse cx="26.38" cy="425.89" rx="0.99" ry="0.52" fill="#6e6e6e" fill-opacity="0.8"/>
<ellipse cx="30.51" cy="427.62" rx="0.56" ry="0.43" fill="#6e6e6e" fill-opacity="0.8"/>
<ellipse cx="30.18" cy="429.39" rx="1.26" ry="0.77" fill="#5a5a5a" fill-opacity="0.8"/>
<ellipse cx="30.41" cy="422.59" rx="1.02" ry="0.88" fill="#d0d0d0" fill-opacity="0.8"/>
<path d="M36.90,426.80 L37.01,428.12 L36.55,429.38 L35.47,430.29 L34.30,430.94 L33.26,431.67 L32.04,432.18 L30.70,432.04 L29.50,431.64 L28.21,431.55 L26.69,431.41 L25.48,430.62 L24.92,429.35 L24.78,428.04 L24.90,426.80 L25.31,425.67 L25.73,424.61 L26.09,423.43 L26.82,422.34 L28.05,421.76 L29.37,421.46 L30.70,421.04 L32.17,420.91 L33.41,421.64 L34.17,422.81 L34.86,423.76 L35.74,424.58 L36.48,425.59 Z" fill="none" stroke="#555" stroke-width="0.6"/>
<path d="M35.28,427.30 L34.83,428.07 L34.08,428.59 L33.80,429.23 L33.92,430.48 L33.46,431.67 L32.30,431.78 L31.20,431.20 L30.32,430.88 L29.45,430.69 L28.80,430.11 L28.38,429.40 L27.83,428.82 L27.29,428.13 L27.03,427.30 L26.79,426.36 L26.65,425.25 L27.35,424.43 L28.78,424.46 L29.88,424.74 L30.46,424.28 L31.20,423.50 L32.16,423.37 L33.03,423.75 L33.94,424.09 L34.83,424.60 L35.26,425.47 L35.33,426.42 Z" fill="none" stroke="#d8d8d8" stroke-width="0.6" stroke-dasharray="1.6 1.1"/>
<path d="M39.39,443.50 L39.10,445.71 L37.93,447.61 L36.61,449.25 L35.52,451.18 L34.04,453.13 L31.81,454.06 L29.40,453.84 L27.19,453.19 L25.16,452.30 L23.42,451.00 L21.93,449.46 L20.53,447.77 L19.57,445.74 L19.39,443.50 L19.60,441.26 L19.91,438.93 L20.97,436.78 L23.05,435.54 L25.36,435.11 L27.36,434.57 L29.40,433.84 L31.64,433.69 L33.84,434.28 L35.89,435.37 L37.56,436.99 L38.55,439.09 L39.07,441.29 Z" fill="#7c7c7c" fill-opacity="0.5" stroke="#d0d0d0" stroke-width="1.1" stroke-opacity="0.85"/>
<ellipse cx="25.41" cy="443.56" rx="1.16" ry="0.80" fill="#c4c4c4" fill-opacity="0.8"/>
<ellipse cx="26.18" cy="443.87" rx="0.75" ry="0.87" fill="#c4c4c4" fill-opacity="0.8"/>
<ellipse cx="32.31" cy="450.53" rx="1.04" ry="0.44" fill="#d0d0d0" fill-opacity="0.8"/>
<ellipse cx="27.33" cy="439.30" rx="0.51" ry="0.73" fill="#5a5a5a" fill-opacity="0.8"/>
<ellipse cx="27.74" cy="448.92" rx="0.63" ry="0.66" fill="#6e6e6e" fill-opacity="0.8"/>
<ellipse cx="32.82" cy="441.82" rx="1.25" ry="0.58" fill="#d0d0d0" fill-opacity="0.8"/>
<ellipse cx="33.16" cy="443.92" rx="0.62" ry="0.59" fill="#6e6e6e" fill-opacity="0.8"/>
<ellipse cx="24.77" cy="439.24" rx="0.70" ry="0.54" fill="#d0d0d0" fill-opacity="0.8"/>
<ellipse cx="27.57" cy="449.36" rx="1.21" ry="0.64" fill="#d0d0d0" fill-opacity="0.8"/>
<ellipse cx="22.99" cy="438.77" rx="0.94" ry="0.77" fill="#c4c4c4" fill-opacity="0.8"/>
<ellipse cx="33.81" cy="447.04" rx="0.85" ry="0.85" fill="#d0d0d0" fill-opacity="0.8"/>
<ellipse cx="22.62" cy="440.11" rx="0.75" ry="0.42" fill="#5a5a5a" fill-opacity="0.8"/>
<ellipse cx="24.79" cy="440.31" rx="1.20" ry="0.59" fill="#6e6e6e" fill-opacity="0.8"/>
<ellipse cx="31.45" cy="442.54" rx="0.54" ry="0.69" fill="#6e6e6e" fill-opacity="0.8"/>
<path d="M38.47,443.50 L38.43,445.56 L37.29,447.30 L35.95,448.72 L34.77,450.23 L33.19,451.37 L31.21,451.43 L29.40,451.06 L27.65,451.18 L25.62,451.35 L23.68,450.68 L22.20,449.24 L21.25,447.43 L21.01,445.41 L21.47,443.50 L21.85,441.78 L21.97,439.92 L22.65,438.12 L24.17,436.94 L25.81,436.05 L27.43,434.86 L29.40,434.06 L31.43,434.60 L33.00,436.03 L34.28,437.39 L35.50,438.64 L36.56,440.05 L37.59,441.63 Z" fill="none" stroke="#555" stroke-width="0.6"/>
<path d="M35.43,444.00 L34.84,445.13 L34.73,446.33 L34.16,447.40 L32.86,447.71 L31.80,447.94 L31.09,449.20 L29.90,450.64 L28.38,450.66 L27.27,449.47 L26.54,448.21 L26.03,447.09 L25.77,445.99 L25.31,445.05 L24.43,444.00 L24.12,442.68 L24.82,441.55 L25.56,440.54 L26.00,439.11 L27.03,438.03 L28.64,438.48 L29.90,439.64 L30.83,439.93 L32.04,439.56 L33.40,439.61 L34.63,440.23 L35.68,441.22 L36.03,442.60 Z" fill="none" stroke="#d8d8d8" stroke-width="0.6" stroke-dasharray="1.6 1.1"/>
<line x1="16.40" y1="453.00" x2="21.90" y2="453.00" stroke="#111" stroke-width="1.2" />
<text x="14.60" y="422.20" font-size="5.4" fill="#1a1a1a" text-anchor="start" stroke="#1a1a1a" stroke-width="0.18" textLength="20" lengthAdjust="spacingAndGlyphs" >NT CTRL</text>
<text x="42.60" y="452.00" font-size="5.2" fill="#1a1a1a" text-anchor="end" stroke="#1a1a1a" stroke-width="0.18" textLength="10.5" lengthAdjust="spacingAndGlyphs" >RAJI</text>
<rect x="46.20" y="417.00" width="29.00" height="39.00" fill="#16150f" stroke="#000" stroke-width="1.1" />
<ellipse cx="71.22" cy="444.60" rx="0.75" ry="0.6" fill="#4fbf3a" fill-opacity="0.63"/>
<ellipse cx="71.85" cy="449.26" rx="0.75" ry="0.6" fill="#4fbf3a" fill-opacity="0.62"/>
<ellipse cx="68.46" cy="452.80" rx="0.75" ry="0.6" fill="#4fbf3a" fill-opacity="0.99"/>
<ellipse cx="63.73" cy="454.06" rx="0.75" ry="0.6" fill="#4fbf3a" fill-opacity="0.66"/>
<ellipse cx="59.14" cy="453.76" rx="0.75" ry="0.6" fill="#4fbf3a" fill-opacity="0.54"/>
<ellipse cx="54.52" cy="452.59" rx="0.75" ry="0.6" fill="#4fbf3a" fill-opacity="0.91"/>
<ellipse cx="49.62" cy="444.60" rx="0.75" ry="0.6" fill="#4fbf3a" fill-opacity="0.59"/>
<ellipse cx="55.00" cy="437.17" rx="0.75" ry="0.6" fill="#4fbf3a" fill-opacity="0.80"/>
<ellipse cx="58.92" cy="434.56" rx="0.75" ry="0.6" fill="#4fbf3a" fill-opacity="0.82"/>
<ellipse cx="71.13" cy="440.26" rx="0.75" ry="0.6" fill="#4fbf3a" fill-opacity="0.91"/>
<rect x="77.90" y="417.00" width="29.00" height="39.00" fill="#16150f" stroke="#000" stroke-width="1.1" />
<ellipse cx="84.60" cy="427.20" rx="1.5" ry="1.0" fill="#e0141c" filter="url(#glow)"/>
<rect x="110.30" y="417.00" width="29.00" height="39.00" fill="#16150f" stroke="#000" stroke-width="1.1" />
<path d="M133.13,427.80 L131.96,429.26 L131.43,430.70 L130.85,432.28 L129.54,433.70 L127.66,434.84 L125.35,435.60 L122.80,435.57 L120.48,434.90 L118.34,434.26 L116.19,433.58 L114.67,432.33 L114.07,430.73 L113.32,429.31 L111.93,427.80 L111.29,425.97 L112.33,424.28 L114.28,423.06 L116.32,422.13 L118.46,421.51 L120.63,421.17 L122.80,420.77 L125.20,420.47 L127.54,420.93 L129.41,422.01 L131.25,423.10 L133.17,424.31 L133.99,426.02 Z" fill="none" stroke="#26288c" stroke-width="1.1" stroke-opacity="0.85" filter="url(#glow)"/>
<path d="M135.32,444.60 L135.82,446.78 L135.95,449.26 L134.72,451.41 L132.56,452.80 L130.22,453.67 L127.83,454.06 L125.50,453.94 L123.24,453.76 L120.85,453.55 L118.62,452.59 L117.07,450.83 L115.77,448.94 L114.32,446.96 L113.72,444.60 L114.76,442.33 L116.49,440.58 L117.84,438.94 L119.10,437.17 L120.85,435.65 L123.02,434.56 L125.50,433.94 L128.05,434.27 L130.22,435.53 L132.09,436.95 L133.96,438.36 L135.23,440.26 L135.38,442.51 Z" fill="none" stroke="#26288c" stroke-width="1.1" stroke-opacity="0.85" filter="url(#glow)"/>
<polyline points="118.34,434.26 116.19,433.58 114.67,432.33 114.07,430.73 113.32,429.31 111.93,427.80" fill="none" stroke="#3c42bc" stroke-width="1.6" stroke-opacity="0.65" filter="url(#glow)"/>
<polyline points="120.85,435.65 123.02,434.56 125.50,433.94 128.05,434.27 130.22,435.53 132.09,436.95" fill="none" stroke="#3c42bc" stroke-width="1.6" stroke-opacity="0.65" filter="url(#glow)"/>
<circle cx="133.13" cy="427.80" r="0.9" fill="#4250d0" fill-opacity="0.6"/>
<circle cx="122.80" cy="420.77" r="0.9" fill="#4250d0" fill-opacity="0.6"/>
<circle cx="129.41" cy="422.01" r="0.9" fill="#4250d0" fill-opacity="0.6"/>
<circle cx="133.99" cy="426.02" r="0.9" fill="#4250d0" fill-opacity="0.6"/>
<circle cx="134.72" cy="451.41" r="0.9" fill="#4250d0" fill-opacity="0.6"/>
<circle cx="127.83" cy="454.06" r="0.9" fill="#4250d0" fill-opacity="0.6"/>
<circle cx="120.85" cy="453.55" r="0.9" fill="#4250d0" fill-opacity="0.6"/>
<circle cx="114.76" cy="442.33" r="0.9" fill="#4250d0" fill-opacity="0.6"/>
<circle cx="135.38" cy="442.51" r="0.9" fill="#4250d0" fill-opacity="0.6"/>
<rect x="142.00" y="417.00" width="29.00" height="39.00" fill="#16150f" stroke="#000" stroke-width="1.1" />
<rect x="173.80" y="417.00" width="29.00" height="39.00" fill="#16150f" stroke="#000" stroke-width="1.1" />
<path d="M196.63,427.80 L195.46,429.26 L194.93,430.70 L194.35,432.28 L193.04,433.70 L191.16,434.84 L188.85,435.60 L186.30,435.57 L183.98,434.90 L181.84,434.26 L179.69,433.58 L178.17,432.33 L177.57,430.73 L176.82,429.31 L175.43,427.80 L174.79,425.97 L175.83,424.28 L177.78,423.06 L179.82,422.13 L181.96,421.51 L184.13,421.17 L186.30,420.77 L188.70,420.47 L191.04,420.93 L192.91,422.01 L194.75,423.10 L196.67,424.31 L197.49,426.02 Z" fill="none" stroke="#26288c" stroke-width="1.1" stroke-opacity="0.85" filter="url(#glow)"/>
<path d="M198.82,444.60 L199.32,446.78 L199.45,449.26 L198.22,451.41 L196.06,452.80 L193.72,453.67 L191.33,454.06 L189.00,453.94 L186.74,453.76 L184.35,453.55 L182.12,452.59 L180.57,450.83 L179.27,448.94 L177.82,446.96 L177.22,444.60 L178.26,442.33 L179.99,440.58 L181.34,438.94 L182.60,437.17 L184.35,435.65 L186.52,434.56 L189.00,433.94 L191.55,434.27 L193.72,435.53 L195.59,436.95 L197.46,438.36 L198.73,440.26 L198.88,442.51 Z" fill="none" stroke="#26288c" stroke-width="1.1" stroke-opacity="0.85" filter="url(#glow)"/>
<polyline points="181.84,434.26 179.69,433.58 178.17,432.33 177.57,430.73 176.82,429.31 175.43,427.80" fill="none" stroke="#3c42bc" stroke-width="1.6" stroke-opacity="0.65" filter="url(#glow)"/>
<polyline points="184.35,435.65 186.52,434.56 189.00,433.94 191.55,434.27 193.72,435.53 195.59,436.95" fill="none" stroke="#3c42bc" stroke-width="1.6" stroke-opacity="0.65" filter="url(#glow)"/>
<circle cx="194.35" cy="432.28" r="0.9" fill="#4250d0" fill-opacity="0.6"/>
<circle cx="188.85" cy="435.60" r="0.9" fill="#4250d0" fill-opacity="0.6"/>
<circle cx="198.82" cy="444.60" r="0.9" fill="#4250d0" fill-opacity="0.6"/>
<circle cx="191.33" cy="454.06" r="0.9" fill="#4250d0" fill-opacity="0.6"/>
<circle cx="184.35" cy="453.55" r="0.9" fill="#4250d0" fill-opacity="0.6"/>
<circle cx="179.27" cy="448.94" r="0.9" fill="#4250d0" fill-opacity="0.6"/>
<circle cx="189.00" cy="433.94" r="0.9" fill="#4250d0" fill-opacity="0.6"/>
<circle cx="198.88" cy="442.51" r="0.9" fill="#4250d0" fill-opacity="0.6"/>
<circle cx="198.82" cy="444.60" r="0.7" fill="#60d0a8"/>
<circle cx="199.45" cy="449.26" r="0.7" fill="#60d0a8"/>
<circle cx="182.12" cy="452.59" r="0.7" fill="#60d0a8"/>
<circle cx="182.60" cy="437.17" r="0.7" fill="#60d0a8"/>
<circle cx="186.52" cy="434.56" r="0.7" fill="#60d0a8"/>
<circle cx="191.55" cy="434.27" r="0.7" fill="#60d0a8"/>
<circle cx="198.73" cy="440.26" r="0.7" fill="#60d0a8"/>
<ellipse cx="180.50" cy="427.20" rx="1.5" ry="1.0" fill="#e0141c" filter="url(#glow)"/>
<rect x="14.40" y="459.60" width="29.00" height="40.30" fill="#8e8e8e" stroke="none" stroke-width="1" />
<rect x="14.40" y="459.60" width="29.00" height="40.30" fill="#000" filter="url(#bfnoise)" opacity="0.55"/>
<path d="M38.27,469.60 L38.29,471.17 L37.88,472.72 L37.02,474.08 L35.93,475.28 L34.58,476.21 L32.96,476.44 L31.40,476.06 L29.99,475.78 L28.43,475.77 L26.83,475.33 L25.67,474.17 L24.93,472.71 L24.41,471.19 L24.27,469.60 L24.64,468.06 L25.27,466.65 L26.08,465.36 L27.20,464.34 L28.51,463.59 L29.85,462.79 L31.40,462.06 L33.10,462.14 L34.50,463.15 L35.56,464.38 L36.61,465.44 L37.55,466.64 L38.06,468.08 Z" fill="#7c7c7c" fill-opacity="0.5" stroke="#d0d0d0" stroke-width="1.1" stroke-opacity="0.85"/>
<ellipse cx="34.64" cy="473.90" rx="0.51" ry="0.56" fill="#d0d0d0" fill-opacity="0.8"/>
<ellipse cx="30.00" cy="466.98" rx="0.66" ry="0.48" fill="#5a5a5a" fill-opacity="0.8"/>
<ellipse cx="30.54" cy="471.23" rx="0.83" ry="0.63" fill="#6e6e6e" fill-opacity="0.8"/>
<ellipse cx="36.24" cy="468.54" rx="1.07" ry="0.52" fill="#6e6e6e" fill-opacity="0.8"/>
<ellipse cx="32.64" cy="467.23" rx="0.50" ry="0.86" fill="#5a5a5a" fill-opacity="0.8"/>
<ellipse cx="27.99" cy="470.36" rx="0.84" ry="0.47" fill="#d0d0d0" fill-opacity="0.8"/>
<ellipse cx="28.77" cy="473.06" rx="0.87" ry="0.90" fill="#d0d0d0" fill-opacity="0.8"/>
<ellipse cx="29.50" cy="469.39" rx="0.93" ry="0.53" fill="#d0d0d0" fill-opacity="0.8"/>
<ellipse cx="30.54" cy="470.28" rx="1.14" ry="0.82" fill="#6e6e6e" fill-opacity="0.8"/>
<ellipse cx="30.67" cy="472.81" rx="0.70" ry="0.82" fill="#6e6e6e" fill-opacity="0.8"/>
<ellipse cx="32.21" cy="468.96" rx="0.52" ry="0.43" fill="#c4c4c4" fill-opacity="0.8"/>
<ellipse cx="30.74" cy="465.69" rx="0.51" ry="0.58" fill="#c4c4c4" fill-opacity="0.8"/>
<ellipse cx="31.67" cy="471.53" rx="0.91" ry="0.49" fill="#5a5a5a" fill-opacity="0.8"/>
<ellipse cx="35.25" cy="467.15" rx="0.73" ry="0.64" fill="#d0d0d0" fill-opacity="0.8"/>
<path d="M36.79,469.60 L36.59,470.78 L36.34,471.98 L35.60,472.95 L34.60,473.61 L33.65,474.28 L32.62,474.95 L31.40,475.31 L30.09,475.33 L28.79,475.02 L27.78,474.14 L27.34,472.84 L27.07,471.68 L26.43,470.73 L25.79,469.60 L25.86,468.34 L26.43,467.21 L27.00,466.09 L27.74,465.01 L28.88,464.37 L30.17,464.23 L31.40,464.31 L32.54,464.61 L33.56,465.11 L34.64,465.54 L35.94,465.98 L36.98,466.91 L37.15,468.29 Z" fill="none" stroke="#555" stroke-width="0.6"/>
<path d="M36.12,470.10 L35.42,470.90 L34.55,471.38 L34.33,472.04 L34.27,473.08 L33.77,473.98 L32.90,474.49 L31.90,474.64 L30.97,474.16 L30.40,473.21 L29.93,472.57 L29.10,472.33 L28.40,471.79 L28.38,470.90 L28.42,470.10 L27.91,469.19 L27.62,468.04 L28.31,467.24 L29.47,467.06 L30.43,467.04 L31.19,466.99 L31.90,466.94 L32.69,466.65 L33.74,466.27 L34.73,466.55 L35.12,467.53 L35.33,468.45 L35.88,469.19 Z" fill="none" stroke="#d8d8d8" stroke-width="0.6" stroke-dasharray="1.6 1.1"/>
<path d="M35.98,483.30 L36.12,485.68 L35.27,487.89 L33.95,489.79 L32.62,491.75 L30.87,493.47 L28.53,494.01 L26.20,493.43 L24.14,492.76 L22.11,492.22 L20.11,491.32 L18.30,489.91 L16.75,488.08 L15.85,485.78 L15.98,483.30 L16.62,481.00 L17.25,478.78 L18.31,476.70 L20.15,475.33 L22.19,474.55 L24.08,473.53 L26.20,472.43 L28.59,472.28 L30.79,473.30 L32.58,474.90 L33.94,476.82 L34.77,478.97 L35.35,481.11 Z" fill="#7c7c7c" fill-opacity="0.5" stroke="#d0d0d0" stroke-width="1.1" stroke-opacity="0.85"/>
<ellipse cx="26.89" cy="486.68" rx="0.98" ry="0.52" fill="#c4c4c4" fill-opacity="0.8"/>
<ellipse cx="24.18" cy="484.79" rx="0.51" ry="0.86" fill="#5a5a5a" fill-opacity="0.8"/>
<ellipse cx="25.83" cy="480.67" rx="1.21" ry="0.70" fill="#d0d0d0" fill-opacity="0.8"/>
<ellipse cx="26.08" cy="477.94" rx="0.54" ry="0.80" fill="#c4c4c4" fill-opacity="0.8"/>
<ellipse cx="21.55" cy="481.91" rx="0.51" ry="0.45" fill="#6e6e6e" fill-opacity="0.8"/>
<ellipse cx="25.22" cy="480.56" rx="0.55" ry="0.57" fill="#d0d0d0" fill-opacity="0.8"/>
<ellipse cx="22.89" cy="487.78" rx="0.60" ry="0.69" fill="#c4c4c4" fill-opacity="0.8"/>
<ellipse cx="22.22" cy="489.64" rx="1.05" ry="0.81" fill="#6e6e6e" fill-opacity="0.8"/>
<ellipse cx="27.67" cy="483.17" rx="0.50" ry="0.75" fill="#6e6e6e" fill-opacity="0.8"/>
<ellipse cx="22.88" cy="486.09" rx="1.11" ry="0.51" fill="#5a5a5a" fill-opacity="0.8"/>
<ellipse cx="25.24" cy="479.53" rx="0.60" ry="0.45" fill="#5a5a5a" fill-opacity="0.8"/>
<ellipse cx="27.38" cy="488.58" rx="0.95" ry="0.69" fill="#6e6e6e" fill-opacity="0.8"/>
<ellipse cx="20.00" cy="481.83" rx="0.90" ry="0.49" fill="#c4c4c4" fill-opacity="0.8"/>
<ellipse cx="23.96" cy="481.65" rx="0.95" ry="0.58" fill="#c4c4c4" fill-opacity="0.8"/>
<path d="M34.14,483.30 L34.04,485.19 L33.49,487.02 L32.63,488.73 L31.57,490.42 L30.03,491.72 L28.14,492.29 L26.20,492.61 L24.17,492.72 L22.33,491.81 L21.24,489.89 L20.47,488.14 L19.16,486.89 L17.70,485.35 L17.14,483.30 L17.46,481.19 L18.17,479.21 L19.34,477.51 L20.97,476.35 L22.65,475.50 L24.36,474.74 L26.20,474.61 L27.95,475.17 L29.71,475.59 L31.84,475.82 L33.76,476.91 L34.48,479.08 L34.28,481.35 Z" fill="none" stroke="#555" stroke-width="0.6"/>
<path d="M32.09,483.80 L32.19,485.11 L31.39,486.17 L30.89,487.31 L30.68,489.04 L29.67,490.28 L28.03,489.93 L26.70,488.87 L25.71,488.35 L24.70,488.17 L23.60,487.88 L22.26,487.52 L20.90,486.73 L20.49,485.29 L21.09,483.80 L21.46,482.54 L21.48,481.16 L22.29,480.11 L23.82,480.01 L24.90,479.87 L25.58,478.67 L26.70,477.32 L28.16,477.09 L29.47,477.76 L30.46,478.85 L30.86,480.32 L30.81,481.72 L31.22,482.72 Z" fill="none" stroke="#d8d8d8" stroke-width="0.6" stroke-dasharray="1.6 1.1"/>
<line x1="16.40" y1="496.90" x2="21.90" y2="496.90" stroke="#111" stroke-width="1.2" />
<text x="14.60" y="464.80" font-size="5.4" fill="#1a1a1a" text-anchor="start" stroke="#1a1a1a" stroke-width="0.18" textLength="28" lengthAdjust="spacingAndGlyphs" >NT CISH KO</text>
<text x="42.60" y="495.90" font-size="5.2" fill="#1a1a1a" text-anchor="end" stroke="#1a1a1a" stroke-width="0.18" textLength="10.5" lengthAdjust="spacingAndGlyphs" >RAJI</text>
<rect x="46.20" y="459.60" width="29.00" height="40.30" fill="#16150f" stroke="#000" stroke-width="1.1" />
<ellipse cx="68.50" cy="486.60" rx="0.75" ry="0.6" fill="#4fbf3a" fill-opacity="0.75"/>
<ellipse cx="68.14" cy="491.43" rx="0.75" ry="0.6" fill="#4fbf3a" fill-opacity="0.91"/>
<ellipse cx="64.54" cy="494.48" rx="0.75" ry="0.6" fill="#4fbf3a" fill-opacity="0.78"/>
<ellipse cx="56.24" cy="496.89" rx="0.75" ry="0.6" fill="#4fbf3a" fill-opacity="0.98"/>
<ellipse cx="51.75" cy="495.41" rx="0.75" ry="0.6" fill="#4fbf3a" fill-opacity="0.77"/>
<ellipse cx="49.77" cy="490.97" rx="0.75" ry="0.6" fill="#4fbf3a" fill-opacity="0.79"/>
<ellipse cx="48.50" cy="486.60" rx="0.75" ry="0.6" fill="#4fbf3a" fill-opacity="1.00"/>
<ellipse cx="50.12" cy="482.40" rx="0.75" ry="0.6" fill="#4fbf3a" fill-opacity="0.99"/>
<ellipse cx="56.11" cy="475.71" rx="0.75" ry="0.6" fill="#4fbf3a" fill-opacity="0.63"/>
<ellipse cx="60.69" cy="476.61" rx="0.75" ry="0.6" fill="#4fbf3a" fill-opacity="0.91"/>
<ellipse cx="64.22" cy="479.15" rx="0.75" ry="0.6" fill="#4fbf3a" fill-opacity="0.81"/>
<ellipse cx="67.79" cy="481.95" rx="0.75" ry="0.6" fill="#4fbf3a" fill-opacity="0.89"/>
<rect x="77.90" y="459.60" width="29.00" height="40.30" fill="#16150f" stroke="#000" stroke-width="1.1" />
<ellipse cx="93.10" cy="473.70" rx="1.5" ry="1.2" fill="#e0141c" filter="url(#glow)"/>
<rect x="110.30" y="459.60" width="29.00" height="40.30" fill="#16150f" stroke="#000" stroke-width="1.1" />
<path d="M136.84,470.20 L136.37,471.65 L135.61,472.95 L134.71,474.14 L133.79,475.42 L132.48,476.52 L130.72,476.97 L128.90,477.02 L127.03,477.16 L125.09,476.92 L123.73,475.71 L123.16,474.09 L122.58,472.79 L121.58,471.62 L120.84,470.20 L120.77,468.62 L121.20,467.05 L122.20,465.66 L123.82,464.78 L125.54,464.27 L127.16,463.71 L128.90,463.42 L130.59,463.90 L132.04,464.66 L133.70,465.08 L135.67,465.61 L136.99,466.89 L137.18,468.59 Z" fill="none" stroke="#26288c" stroke-width="1.1" stroke-opacity="0.85" filter="url(#glow)"/>
<path d="M132.60,486.60 L132.51,488.95 L132.24,491.43 L130.86,493.45 L128.64,494.48 L126.54,495.12 L124.66,495.99 L122.60,496.71 L120.34,496.89 L117.99,496.55 L115.85,495.41 L114.50,493.32 L113.87,490.97 L113.19,488.83 L112.60,486.60 L113.02,484.33 L114.22,482.40 L115.22,480.48 L116.17,478.22 L117.87,476.38 L120.21,475.71 L122.60,475.91 L124.79,476.61 L126.67,477.81 L128.32,479.15 L130.13,480.35 L131.89,481.95 L132.69,484.21 Z" fill="none" stroke="#26288c" stroke-width="1.1" stroke-opacity="0.85" filter="url(#glow)"/>
<polyline points="125.09,476.92 123.73,475.71 123.16,474.09 122.58,472.79 121.58,471.62 120.84,470.20" fill="none" stroke="#3c42bc" stroke-width="1.6" stroke-opacity="0.65" filter="url(#glow)"/>
<polyline points="117.87,476.38 120.21,475.71 122.60,475.91 124.79,476.61 126.67,477.81 128.32,479.15" fill="none" stroke="#3c42bc" stroke-width="1.6" stroke-opacity="0.65" filter="url(#glow)"/>
<circle cx="130.72" cy="476.97" r="0.9" fill="#4250d0" fill-opacity="0.6"/>
<circle cx="125.09" cy="476.92" r="0.9" fill="#4250d0" fill-opacity="0.6"/>
<circle cx="122.58" cy="472.79" r="0.9" fill="#4250d0" fill-opacity="0.6"/>
<circle cx="128.90" cy="463.42" r="0.9" fill="#4250d0" fill-opacity="0.6"/>
<circle cx="133.70" cy="465.08" r="0.9" fill="#4250d0" fill-opacity="0.6"/>
<circle cx="130.86" cy="493.45" r="0.9" fill="#4250d0" fill-opacity="0.6"/>
<circle cx="124.66" cy="495.99" r="0.9" fill="#4250d0" fill-opacity="0.6"/>
<circle cx="113.87" cy="490.97" r="0.9" fill="#4250d0" fill-opacity="0.6"/>
<circle cx="116.17" cy="478.22" r="0.9" fill="#4250d0" fill-opacity="0.6"/>
<circle cx="128.32" cy="479.15" r="0.9" fill="#4250d0" fill-opacity="0.6"/>
<rect x="142.00" y="459.60" width="29.00" height="40.30" fill="#16150f" stroke="#000" stroke-width="1.1" />
<rect x="173.80" y="459.60" width="29.00" height="40.30" fill="#16150f" stroke="#000" stroke-width="1.1" />
<path d="M200.34,470.20 L199.87,471.65 L199.11,472.95 L198.21,474.14 L197.29,475.42 L195.98,476.52 L194.22,476.97 L192.40,477.02 L190.53,477.16 L188.59,476.92 L187.23,475.71 L186.66,474.09 L186.08,472.79 L185.08,471.62 L184.34,470.20 L184.27,468.62 L184.70,467.05 L185.70,465.66 L187.32,464.78 L189.04,464.27 L190.66,463.71 L192.40,463.42 L194.09,463.90 L195.54,464.66 L197.20,465.08 L199.17,465.61 L200.49,466.89 L200.68,468.59 Z" fill="none" stroke="#26288c" stroke-width="1.1" stroke-opacity="0.85" filter="url(#glow)"/>
<path d="M196.10,486.60 L196.01,488.95 L195.74,491.43 L194.36,493.45 L192.14,494.48 L190.04,495.12 L188.16,495.99 L186.10,496.71 L183.84,496.89 L181.49,496.55 L179.35,495.41 L178.00,493.32 L177.37,490.97 L176.69,488.83 L176.10,486.60 L176.52,484.33 L177.72,482.40 L178.72,480.48 L179.67,478.22 L181.37,476.38 L183.71,475.71 L186.10,475.91 L188.29,476.61 L190.17,477.81 L191.82,479.15 L193.63,480.35 L195.39,481.95 L196.19,484.21 Z" fill="none" stroke="#26288c" stroke-width="1.1" stroke-opacity="0.85" filter="url(#glow)"/>
<polyline points="188.59,476.92 187.23,475.71 186.66,474.09 186.08,472.79 185.08,471.62 184.34,470.20" fill="none" stroke="#3c42bc" stroke-width="1.6" stroke-opacity="0.65" filter="url(#glow)"/>
<polyline points="181.37,476.38 183.71,475.71 186.10,475.91 188.29,476.61 190.17,477.81 191.82,479.15" fill="none" stroke="#3c42bc" stroke-width="1.6" stroke-opacity="0.65" filter="url(#glow)"/>
<circle cx="200.34" cy="470.20" r="0.9" fill="#4250d0" fill-opacity="0.6"/>
<circle cx="194.22" cy="476.97" r="0.9" fill="#4250d0" fill-opacity="0.6"/>
<circle cx="188.59" cy="476.92" r="0.9" fill="#4250d0" fill-opacity="0.6"/>
<circle cx="186.08" cy="472.79" r="0.9" fill="#4250d0" fill-opacity="0.6"/>
<circle cx="184.27" cy="468.62" r="0.9" fill="#4250d0" fill-opacity="0.6"/>
<circle cx="187.32" cy="464.78" r="0.9" fill="#4250d0" fill-opacity="0.6"/>
<circle cx="200.68" cy="468.59" r="0.9" fill="#4250d0" fill-opacity="0.6"/>
<circle cx="194.36" cy="493.45" r="0.9" fill="#4250d0" fill-opacity="0.6"/>
<circle cx="181.49" cy="496.55" r="0.9" fill="#4250d0" fill-opacity="0.6"/>
<circle cx="196.19" cy="484.21" r="0.9" fill="#4250d0" fill-opacity="0.6"/>
<circle cx="196.10" cy="486.60" r="0.7" fill="#60d0a8"/>
<circle cx="195.74" cy="491.43" r="0.7" fill="#60d0a8"/>
<circle cx="188.16" cy="495.99" r="0.7" fill="#60d0a8"/>
<circle cx="179.67" cy="478.22" r="0.7" fill="#60d0a8"/>
<circle cx="188.29" cy="476.61" r="0.7" fill="#60d0a8"/>
<ellipse cx="189.00" cy="473.70" rx="1.5" ry="1.2" fill="#e0141c" filter="url(#glow)"/>
<rect x="14.40" y="503.40" width="29.00" height="37.50" fill="#8e8e8e" stroke="none" stroke-width="1" />
<rect x="14.40" y="503.40" width="29.00" height="37.50" fill="#000" filter="url(#bfnoise)" opacity="0.55"/>
<path d="M40.58,520.90 L40.21,523.25 L38.87,525.22 L37.36,526.85 L36.18,528.78 L34.68,530.83 L32.42,531.93 L29.90,531.84 L27.54,531.24 L25.36,530.33 L23.52,528.91 L22.03,527.18 L20.70,525.33 L19.77,523.21 L19.58,520.90 L19.73,518.58 L19.95,516.11 L20.94,513.75 L23.09,512.36 L25.57,511.91 L27.74,511.46 L29.90,510.84 L32.21,510.77 L34.47,511.41 L36.61,512.49 L38.45,514.08 L39.62,516.22 L40.24,518.54 Z" fill="#7c7c7c" fill-opacity="0.5" stroke="#d0d0d0" stroke-width="1.1" stroke-opacity="0.85"/>
<ellipse cx="36.60" cy="522.02" rx="0.72" ry="0.45" fill="#5a5a5a" fill-opacity="0.8"/>
<ellipse cx="33.28" cy="521.55" rx="1.30" ry="0.41" fill="#6e6e6e" fill-opacity="0.8"/>
<ellipse cx="21.99" cy="518.50" rx="0.71" ry="0.85" fill="#d0d0d0" fill-opacity="0.8"/>
<ellipse cx="29.61" cy="523.01" rx="0.59" ry="0.53" fill="#6e6e6e" fill-opacity="0.8"/>
<ellipse cx="28.12" cy="521.11" rx="0.90" ry="0.60" fill="#5a5a5a" fill-opacity="0.8"/>
<ellipse cx="23.90" cy="520.28" rx="1.07" ry="0.85" fill="#6e6e6e" fill-opacity="0.8"/>
<ellipse cx="27.05" cy="519.33" rx="0.92" ry="0.80" fill="#5a5a5a" fill-opacity="0.8"/>
<ellipse cx="28.82" cy="521.49" rx="1.05" ry="0.50" fill="#6e6e6e" fill-opacity="0.8"/>
<ellipse cx="26.38" cy="523.68" rx="0.66" ry="0.62" fill="#6e6e6e" fill-opacity="0.8"/>
<ellipse cx="35.35" cy="519.36" rx="0.86" ry="0.49" fill="#c4c4c4" fill-opacity="0.8"/>
<ellipse cx="28.84" cy="521.12" rx="1.03" ry="0.64" fill="#d0d0d0" fill-opacity="0.8"/>
<ellipse cx="23.26" cy="517.93" rx="1.26" ry="0.88" fill="#c4c4c4" fill-opacity="0.8"/>
<ellipse cx="27.72" cy="522.19" rx="0.70" ry="0.81" fill="#d0d0d0" fill-opacity="0.8"/>
<ellipse cx="31.97" cy="521.48" rx="1.00" ry="0.88" fill="#d0d0d0" fill-opacity="0.8"/>
<path d="M38.90,520.90 L38.38,522.84 L37.46,524.54 L36.85,526.44 L35.94,528.48 L34.19,529.81 L32.02,530.17 L29.90,529.95 L28.00,529.23 L26.40,528.17 L24.78,527.33 L22.81,526.56 L21.21,525.09 L20.78,522.98 L20.90,520.90 L20.83,518.83 L21.25,516.73 L22.78,515.22 L24.72,514.40 L26.38,513.59 L28.01,512.62 L29.90,511.95 L32.00,511.68 L34.21,511.95 L36.00,513.25 L36.88,515.33 L37.43,517.28 L38.32,518.98 Z" fill="none" stroke="#555" stroke-width="0.6"/>
<path d="M36.22,521.40 L34.97,522.44 L34.79,523.51 L34.84,524.94 L33.97,525.87 L32.69,526.16 L31.65,526.86 L30.40,527.95 L28.86,528.14 L27.61,527.20 L26.77,525.95 L26.33,524.64 L26.32,523.37 L25.96,522.41 L24.67,521.40 L23.71,519.87 L24.38,518.50 L25.81,517.74 L26.77,516.84 L27.68,515.75 L29.08,515.60 L30.40,516.40 L31.43,516.88 L32.62,516.79 L33.97,516.92 L35.36,517.44 L36.72,518.35 L37.22,519.84 Z" fill="none" stroke="#d8d8d8" stroke-width="0.6" stroke-dasharray="1.6 1.1"/>
<path d="M42.07,528.40 L41.72,529.85 L41.32,531.29 L40.64,532.71 L39.24,533.66 L37.50,533.98 L35.92,534.19 L34.40,534.56 L32.74,534.72 L31.06,534.42 L29.48,533.75 L28.20,532.68 L27.52,531.27 L27.28,529.81 L27.07,528.40 L27.10,526.96 L27.81,525.65 L28.91,524.60 L29.89,523.50 L30.99,522.27 L32.59,521.52 L34.40,521.56 L36.07,522.05 L37.56,522.71 L38.83,523.58 L39.93,524.58 L41.03,525.63 L41.91,526.92 Z" fill="#7c7c7c" fill-opacity="0.5" stroke="#d0d0d0" stroke-width="1.1" stroke-opacity="0.85"/>
<ellipse cx="32.16" cy="525.57" rx="1.19" ry="0.65" fill="#c4c4c4" fill-opacity="0.8"/>
<ellipse cx="33.75" cy="531.40" rx="1.16" ry="0.60" fill="#6e6e6e" fill-opacity="0.8"/>
<ellipse cx="33.39" cy="529.25" rx="1.25" ry="0.41" fill="#c4c4c4" fill-opacity="0.8"/>
<ellipse cx="30.97" cy="525.34" rx="0.92" ry="0.62" fill="#d0d0d0" fill-opacity="0.8"/>
<ellipse cx="34.10" cy="529.21" rx="0.70" ry="0.65" fill="#6e6e6e" fill-opacity="0.8"/>
<ellipse cx="35.58" cy="531.17" rx="1.21" ry="0.67" fill="#6e6e6e" fill-opacity="0.8"/>
<ellipse cx="36.48" cy="526.95" rx="0.60" ry="0.57" fill="#c4c4c4" fill-opacity="0.8"/>
<ellipse cx="36.83" cy="528.18" rx="0.65" ry="0.67" fill="#d0d0d0" fill-opacity="0.8"/>
<ellipse cx="33.80" cy="529.73" rx="0.65" ry="0.49" fill="#5a5a5a" fill-opacity="0.8"/>
<ellipse cx="33.20" cy="532.81" rx="0.97" ry="0.73" fill="#c4c4c4" fill-opacity="0.8"/>
<ellipse cx="33.15" cy="528.25" rx="1.24" ry="0.58" fill="#c4c4c4" fill-opacity="0.8"/>
<ellipse cx="39.77" cy="528.86" rx="0.64" ry="0.45" fill="#5a5a5a" fill-opacity="0.8"/>
<ellipse cx="32.74" cy="531.84" rx="1.19" ry="0.72" fill="#6e6e6e" fill-opacity="0.8"/>
<ellipse cx="39.87" cy="528.68" rx="0.91" ry="0.50" fill="#6e6e6e" fill-opacity="0.8"/>
<path d="M41.12,528.40 L40.79,529.62 L39.82,530.58 L38.84,531.35 L37.86,532.02 L36.80,532.56 L35.69,533.10 L34.40,533.59 L32.98,533.59 L31.74,533.01 L30.63,532.34 L29.46,531.68 L28.69,530.69 L28.77,529.47 L29.12,528.40 L29.09,527.39 L29.01,526.24 L29.46,525.12 L30.38,524.20 L31.59,523.55 L33.02,523.35 L34.40,523.59 L35.65,523.84 L36.94,524.00 L38.11,524.52 L38.84,525.45 L39.50,526.35 L40.47,527.25 Z" fill="none" stroke="#555" stroke-width="0.6"/>
<path d="M39.81,528.90 L39.45,529.80 L38.77,530.52 L37.78,530.89 L36.85,531.02 L36.36,531.53 L35.85,532.50 L34.90,532.99 L33.93,532.59 L33.10,532.14 L32.08,531.97 L31.20,531.46 L31.14,530.47 L31.51,529.57 L31.56,528.90 L31.40,528.21 L31.34,527.41 L31.33,526.43 L31.70,525.43 L32.78,525.09 L34.01,525.53 L34.90,525.84 L35.76,525.62 L36.68,525.69 L37.22,526.38 L37.65,527.00 L38.58,527.37 L39.55,527.98 Z" fill="none" stroke="#d8d8d8" stroke-width="0.6" stroke-dasharray="1.6 1.1"/>
<line x1="16.40" y1="537.90" x2="21.90" y2="537.90" stroke="#111" stroke-width="1.2" />
<text x="14.60" y="508.60" font-size="5.4" fill="#1a1a1a" text-anchor="start" stroke="#1a1a1a" stroke-width="0.18" textLength="27.5" lengthAdjust="spacingAndGlyphs" >CD19 CAR</text>
<text x="42.60" y="536.90" font-size="5.2" fill="#1a1a1a" text-anchor="end" stroke="#1a1a1a" stroke-width="0.18" textLength="10.5" lengthAdjust="spacingAndGlyphs" >RAJI</text>
<rect x="46.20" y="503.40" width="29.00" height="37.50" fill="#16150f" stroke="#000" stroke-width="1.1" />
<ellipse cx="71.77" cy="533.52" rx="0.75" ry="0.6" fill="#4fbf3a" fill-opacity="0.86"/>
<ellipse cx="69.26" cy="535.62" rx="0.75" ry="0.6" fill="#4fbf3a" fill-opacity="0.97"/>
<ellipse cx="65.97" cy="536.72" rx="0.75" ry="0.6" fill="#4fbf3a" fill-opacity="0.96"/>
<ellipse cx="62.54" cy="536.34" rx="0.75" ry="0.6" fill="#4fbf3a" fill-opacity="1.00"/>
<ellipse cx="59.26" cy="535.50" rx="0.75" ry="0.6" fill="#4fbf3a" fill-opacity="0.59"/>
<ellipse cx="56.28" cy="533.66" rx="0.75" ry="0.6" fill="#4fbf3a" fill-opacity="0.82"/>
<ellipse cx="56.32" cy="530.70" rx="0.75" ry="0.6" fill="#4fbf3a" fill-opacity="0.69"/>
<ellipse cx="57.35" cy="528.14" rx="0.75" ry="0.6" fill="#4fbf3a" fill-opacity="0.53"/>
<ellipse cx="59.28" cy="525.92" rx="0.75" ry="0.6" fill="#4fbf3a" fill-opacity="0.62"/>
<ellipse cx="62.41" cy="524.63" rx="0.75" ry="0.6" fill="#4fbf3a" fill-opacity="0.89"/>
<ellipse cx="66.10" cy="524.25" rx="0.75" ry="0.6" fill="#4fbf3a" fill-opacity="0.93"/>
<rect x="77.90" y="503.40" width="29.00" height="37.50" fill="#16150f" stroke="#000" stroke-width="1.1" />
<ellipse cx="91.00" cy="519.20" rx="2.0" ry="1.5" fill="#e0141c" filter="url(#glow)"/>
<rect x="110.30" y="503.40" width="29.00" height="37.50" fill="#16150f" stroke="#000" stroke-width="1.1" />
<path d="M129.38,519.00 L128.85,520.73 L128.64,522.55 L127.79,524.23 L126.30,525.42 L124.73,526.48 L123.02,527.53 L121.00,528.01 L118.93,527.77 L116.98,527.07 L115.41,525.77 L114.62,523.92 L114.13,522.19 L113.03,520.76 L111.78,519.00 L111.70,516.95 L112.78,515.18 L114.03,513.63 L115.33,512.13 L117.10,511.17 L119.10,510.96 L121.00,511.01 L122.84,511.20 L124.61,511.76 L126.38,512.48 L128.38,513.32 L129.99,514.82 L130.19,516.97 Z" fill="none" stroke="#26288c" stroke-width="1.1" stroke-opacity="0.85" filter="url(#glow)"/>
<path d="M136.42,530.70 L136.72,532.19 L135.87,533.52 L134.57,534.58 L133.36,535.62 L131.89,536.47 L130.07,536.72 L128.30,536.54 L126.64,536.34 L124.97,536.06 L123.36,535.50 L121.77,534.73 L120.38,533.66 L119.87,532.19 L120.42,530.70 L121.13,529.43 L121.45,528.14 L122.06,526.85 L123.38,525.92 L124.95,525.30 L126.51,524.63 L128.30,524.14 L130.20,524.25 L131.91,524.89 L133.33,525.81 L134.28,527.00 L134.80,528.28 L135.47,529.43 Z" fill="none" stroke="#26288c" stroke-width="1.1" stroke-opacity="0.85" filter="url(#glow)"/>
<polyline points="116.98,527.07 115.41,525.77 114.62,523.92 114.13,522.19 113.03,520.76 111.78,519.00" fill="none" stroke="#3c42bc" stroke-width="1.6" stroke-opacity="0.65" filter="url(#glow)"/>
<polyline points="124.95,525.30 126.51,524.63 128.30,524.14 130.20,524.25 131.91,524.89 133.33,525.81" fill="none" stroke="#3c42bc" stroke-width="1.6" stroke-opacity="0.65" filter="url(#glow)"/>
<circle cx="127.79" cy="524.23" r="0.9" fill="#4250d0" fill-opacity="0.6"/>
<circle cx="123.02" cy="527.53" r="0.9" fill="#4250d0" fill-opacity="0.6"/>
<circle cx="136.42" cy="530.70" r="0.9" fill="#4250d0" fill-opacity="0.6"/>
<circle cx="130.07" cy="536.72" r="0.9" fill="#4250d0" fill-opacity="0.6"/>
<circle cx="124.97" cy="536.06" r="0.9" fill="#4250d0" fill-opacity="0.6"/>
<circle cx="120.38" cy="533.66" r="0.9" fill="#4250d0" fill-opacity="0.6"/>
<circle cx="128.30" cy="524.14" r="0.9" fill="#4250d0" fill-opacity="0.6"/>
<circle cx="135.47" cy="529.43" r="0.9" fill="#4250d0" fill-opacity="0.6"/>
<rect x="142.00" y="503.40" width="29.00" height="37.50" fill="#16150f" stroke="#000" stroke-width="1.1" />
<circle cx="153.00" cy="516.40" r="0.65" fill="#d8d8d8"/>
<circle cx="155.00" cy="518.90" r="0.65" fill="#d8d8d8"/>
<circle cx="157.50" cy="518.40" r="0.65" fill="#d8d8d8"/>
<circle cx="158.50" cy="515.90" r="0.65" fill="#d8d8d8"/>
<circle cx="154.00" cy="521.40" r="0.65" fill="#d8d8d8"/>
<circle cx="156.00" cy="514.40" r="0.65" fill="#d8d8d8"/>
<rect x="173.80" y="503.40" width="29.00" height="37.50" fill="#16150f" stroke="#000" stroke-width="1.1" />
<path d="M192.88,519.00 L192.35,520.73 L192.14,522.55 L191.29,524.23 L189.80,525.42 L188.23,526.48 L186.52,527.53 L184.50,528.01 L182.43,527.77 L180.48,527.07 L178.91,525.77 L178.12,523.92 L177.63,522.19 L176.53,520.76 L175.28,519.00 L175.20,516.95 L176.28,515.18 L177.53,513.63 L178.83,512.13 L180.60,511.17 L182.60,510.96 L184.50,511.01 L186.34,511.20 L188.11,511.76 L189.88,512.48 L191.88,513.32 L193.49,514.82 L193.69,516.97 Z" fill="none" stroke="#26288c" stroke-width="1.1" stroke-opacity="0.85" filter="url(#glow)"/>
<path d="M199.92,530.70 L200.22,532.19 L199.37,533.52 L198.07,534.58 L196.86,535.62 L195.39,536.47 L193.57,536.72 L191.80,536.54 L190.14,536.34 L188.47,536.06 L186.86,535.50 L185.27,534.73 L183.88,533.66 L183.37,532.19 L183.92,530.70 L184.63,529.43 L184.95,528.14 L185.56,526.85 L186.88,525.92 L188.45,525.30 L190.01,524.63 L191.80,524.14 L193.70,524.25 L195.41,524.89 L196.83,525.81 L197.78,527.00 L198.30,528.28 L198.97,529.43 Z" fill="none" stroke="#26288c" stroke-width="1.1" stroke-opacity="0.85" filter="url(#glow)"/>
<polyline points="180.48,527.07 178.91,525.77 178.12,523.92 177.63,522.19 176.53,520.76 175.28,519.00" fill="none" stroke="#3c42bc" stroke-width="1.6" stroke-opacity="0.65" filter="url(#glow)"/>
<polyline points="188.45,525.30 190.01,524.63 191.80,524.14 193.70,524.25 195.41,524.89 196.83,525.81" fill="none" stroke="#3c42bc" stroke-width="1.6" stroke-opacity="0.65" filter="url(#glow)"/>
<circle cx="191.29" cy="524.23" r="0.9" fill="#4250d0" fill-opacity="0.6"/>
<circle cx="186.52" cy="527.53" r="0.9" fill="#4250d0" fill-opacity="0.6"/>
<circle cx="177.63" cy="522.19" r="0.9" fill="#4250d0" fill-opacity="0.6"/>
<circle cx="189.88" cy="512.48" r="0.9" fill="#4250d0" fill-opacity="0.6"/>
<circle cx="193.57" cy="536.72" r="0.9" fill="#4250d0" fill-opacity="0.6"/>
<circle cx="183.88" cy="533.66" r="0.9" fill="#4250d0" fill-opacity="0.6"/>
<circle cx="196.83" cy="525.81" r="0.9" fill="#4250d0" fill-opacity="0.6"/>
<circle cx="198.97" cy="529.43" r="0.9" fill="#4250d0" fill-opacity="0.6"/>
<ellipse cx="186.90" cy="519.20" rx="2.0" ry="1.5" fill="#e0141c" filter="url(#glow)"/>
<circle cx="184.80" cy="516.40" r="0.7" fill="#e8e8ff"/>
<circle cx="186.80" cy="518.90" r="0.7" fill="#e8e8ff"/>
<circle cx="189.30" cy="518.40" r="0.7" fill="#e8e8ff"/>
<circle cx="190.30" cy="515.90" r="0.7" fill="#e8e8ff"/>
<circle cx="185.80" cy="521.40" r="0.7" fill="#e8e8ff"/>
<circle cx="187.80" cy="514.40" r="0.7" fill="#e8e8ff"/>
<rect x="14.40" y="544.70" width="29.00" height="33.40" fill="#8e8e8e" stroke="none" stroke-width="1" />
<rect x="14.40" y="544.70" width="29.00" height="33.40" fill="#000" filter="url(#bfnoise)" opacity="0.55"/>
<path d="M38.44,555.70 L37.88,557.21 L36.94,558.58 L35.68,559.76 L34.40,560.96 L32.92,562.27 L30.82,563.12 L28.40,563.03 L26.21,562.43 L24.13,561.90 L22.14,561.19 L20.71,559.99 L19.86,558.58 L19.08,557.19 L18.44,555.70 L18.38,554.10 L18.92,552.51 L20.04,551.04 L21.93,550.02 L24.24,549.66 L26.37,549.47 L28.40,549.03 L30.66,548.78 L32.81,549.29 L34.61,550.25 L36.35,551.26 L37.88,552.51 L38.58,554.07 Z" fill="#7c7c7c" fill-opacity="0.5" stroke="#d0d0d0" stroke-width="1.1" stroke-opacity="0.85"/>
<ellipse cx="28.13" cy="557.06" rx="0.62" ry="0.51" fill="#d0d0d0" fill-opacity="0.8"/>
<ellipse cx="29.25" cy="550.57" rx="0.75" ry="0.44" fill="#c4c4c4" fill-opacity="0.8"/>
<ellipse cx="26.74" cy="556.46" rx="0.55" ry="0.57" fill="#6e6e6e" fill-opacity="0.8"/>
<ellipse cx="30.12" cy="553.98" rx="0.64" ry="0.55" fill="#6e6e6e" fill-opacity="0.8"/>
<ellipse cx="25.77" cy="553.52" rx="0.94" ry="0.68" fill="#5a5a5a" fill-opacity="0.8"/>
<ellipse cx="25.33" cy="552.34" rx="1.06" ry="0.47" fill="#d0d0d0" fill-opacity="0.8"/>
<ellipse cx="22.31" cy="558.55" rx="0.52" ry="0.69" fill="#c4c4c4" fill-opacity="0.8"/>
<ellipse cx="29.15" cy="555.05" rx="0.91" ry="0.64" fill="#c4c4c4" fill-opacity="0.8"/>
<ellipse cx="32.32" cy="557.34" rx="0.92" ry="0.51" fill="#5a5a5a" fill-opacity="0.8"/>
<ellipse cx="27.44" cy="556.72" rx="0.63" ry="0.71" fill="#d0d0d0" fill-opacity="0.8"/>
<ellipse cx="22.12" cy="556.41" rx="0.94" ry="0.60" fill="#6e6e6e" fill-opacity="0.8"/>
<ellipse cx="30.27" cy="557.40" rx="1.18" ry="0.70" fill="#6e6e6e" fill-opacity="0.8"/>
<ellipse cx="32.64" cy="557.37" rx="1.24" ry="0.85" fill="#5a5a5a" fill-opacity="0.8"/>
<ellipse cx="22.89" cy="555.69" rx="0.60" ry="0.58" fill="#c4c4c4" fill-opacity="0.8"/>
<path d="M36.58,555.70 L36.41,556.88 L35.61,557.95 L34.71,558.96 L33.94,560.20 L32.59,561.33 L30.48,561.59 L28.40,561.09 L26.66,560.64 L24.93,560.37 L23.29,559.84 L21.96,559.02 L20.75,558.09 L19.81,556.97 L19.58,555.70 L19.83,554.43 L20.29,553.17 L21.42,552.10 L23.34,551.60 L25.21,551.42 L26.69,550.86 L28.40,550.09 L30.44,549.92 L32.30,550.46 L33.89,551.24 L35.25,552.16 L36.06,553.31 L36.38,554.52 Z" fill="none" stroke="#555" stroke-width="0.6"/>
<path d="M33.68,556.20 L34.38,557.08 L34.54,558.10 L33.92,559.00 L32.87,559.68 L31.44,559.88 L29.95,559.42 L28.90,559.03 L27.85,559.43 L26.35,559.90 L25.14,559.50 L24.56,558.62 L23.77,557.93 L22.76,557.18 L22.68,556.20 L23.65,555.36 L24.63,554.76 L25.32,554.20 L26.01,553.66 L26.66,552.95 L27.50,551.91 L28.90,551.33 L30.29,551.92 L31.13,552.96 L32.00,553.48 L33.16,553.82 L33.68,554.59 L33.48,555.47 Z" fill="none" stroke="#d8d8d8" stroke-width="0.6" stroke-dasharray="1.6 1.1"/>
<path d="M40.72,569.20 L40.46,571.15 L39.23,572.89 L37.53,574.36 L35.61,575.60 L33.35,576.48 L30.94,577.08 L28.40,577.76 L25.51,578.18 L22.74,577.53 L20.83,575.93 L19.44,574.26 L17.97,572.76 L16.88,571.06 L16.72,569.20 L17.06,567.37 L17.61,565.52 L18.77,563.76 L20.65,562.31 L22.94,561.17 L25.60,560.51 L28.40,560.76 L30.85,561.60 L33.15,562.21 L35.79,562.63 L38.20,563.66 L39.59,565.38 L40.27,567.28 Z" fill="#7c7c7c" fill-opacity="0.5" stroke="#d0d0d0" stroke-width="1.1" stroke-opacity="0.85"/>
<ellipse cx="35.97" cy="568.09" rx="1.24" ry="0.79" fill="#5a5a5a" fill-opacity="0.8"/>
<ellipse cx="25.39" cy="565.14" rx="0.67" ry="0.81" fill="#c4c4c4" fill-opacity="0.8"/>
<ellipse cx="24.37" cy="568.41" rx="1.17" ry="0.60" fill="#5a5a5a" fill-opacity="0.8"/>
<ellipse cx="23.73" cy="565.33" rx="1.29" ry="0.59" fill="#6e6e6e" fill-opacity="0.8"/>
<ellipse cx="25.74" cy="569.04" rx="1.19" ry="0.57" fill="#5a5a5a" fill-opacity="0.8"/>
<ellipse cx="28.26" cy="562.60" rx="1.19" ry="0.66" fill="#d0d0d0" fill-opacity="0.8"/>
<ellipse cx="26.41" cy="575.03" rx="0.53" ry="0.50" fill="#5a5a5a" fill-opacity="0.8"/>
<ellipse cx="32.70" cy="567.16" rx="0.62" ry="0.89" fill="#c4c4c4" fill-opacity="0.8"/>
<ellipse cx="25.16" cy="566.34" rx="0.84" ry="0.70" fill="#5a5a5a" fill-opacity="0.8"/>
<ellipse cx="30.68" cy="574.82" rx="0.56" ry="0.48" fill="#c4c4c4" fill-opacity="0.8"/>
<ellipse cx="26.74" cy="562.76" rx="0.68" ry="0.53" fill="#6e6e6e" fill-opacity="0.8"/>
<ellipse cx="28.34" cy="567.65" rx="0.90" ry="0.89" fill="#6e6e6e" fill-opacity="0.8"/>
<ellipse cx="32.70" cy="568.81" rx="1.29" ry="0.63" fill="#d0d0d0" fill-opacity="0.8"/>
<ellipse cx="25.88" cy="572.06" rx="0.69" ry="0.69" fill="#5a5a5a" fill-opacity="0.8"/>
<path d="M37.95,569.20 L38.92,570.80 L38.73,572.52 L37.03,573.79 L34.98,574.70 L33.06,575.66 L30.82,576.26 L28.40,576.10 L26.22,575.57 L24.16,575.07 L22.17,574.41 L20.33,573.49 L18.43,572.40 L16.90,570.95 L16.95,569.20 L18.45,567.69 L19.81,566.44 L20.61,565.06 L21.89,563.76 L23.95,563.04 L26.15,562.62 L28.40,562.10 L30.89,561.92 L33.27,562.46 L35.26,563.46 L36.75,564.76 L37.35,566.33 L37.37,567.83 Z" fill="none" stroke="#555" stroke-width="0.6"/>
<path d="M35.53,569.70 L35.18,570.72 L34.32,571.55 L34.19,572.69 L33.93,574.17 L32.41,574.86 L30.40,574.37 L28.90,573.70 L27.69,573.45 L26.48,573.27 L25.11,573.06 L23.37,572.83 L21.90,572.09 L21.78,570.85 L22.33,569.70 L22.31,568.63 L22.43,567.49 L23.87,566.86 L25.70,566.86 L26.68,566.44 L27.47,565.25 L28.90,564.35 L30.63,564.33 L32.20,564.84 L33.34,565.75 L33.69,567.00 L33.80,568.03 L34.65,568.77 Z" fill="none" stroke="#d8d8d8" stroke-width="0.6" stroke-dasharray="1.6 1.1"/>
<line x1="16.40" y1="575.10" x2="21.90" y2="575.10" stroke="#111" stroke-width="1.2" />
<text x="14.60" y="549.90" font-size="5.4" fill="#1a1a1a" text-anchor="start" stroke="#1a1a1a" stroke-width="0.18" textLength="26" lengthAdjust="spacingAndGlyphs" >CD19 CAR</text>
<text x="23.90" y="555.30" font-size="5.2" fill="#1a1a1a" text-anchor="start" stroke="#1a1a1a" stroke-width="0.18" textLength="18" lengthAdjust="spacingAndGlyphs" >CISH KO</text>
<text x="42.60" y="574.10" font-size="5.2" fill="#1a1a1a" text-anchor="end" stroke="#1a1a1a" stroke-width="0.18" textLength="10.5" lengthAdjust="spacingAndGlyphs" >RAJI</text>
<rect x="46.20" y="544.70" width="29.00" height="33.40" fill="#16150f" stroke="#000" stroke-width="1.1" />
<ellipse cx="70.08" cy="570.20" rx="0.75" ry="0.6" fill="#4fbf3a" fill-opacity="0.95"/>
<ellipse cx="70.54" cy="574.48" rx="0.75" ry="0.6" fill="#4fbf3a" fill-opacity="0.86"/>
<ellipse cx="61.75" cy="578.93" rx="0.75" ry="0.6" fill="#4fbf3a" fill-opacity="0.87"/>
<ellipse cx="56.77" cy="578.55" rx="0.75" ry="0.6" fill="#4fbf3a" fill-opacity="0.93"/>
<ellipse cx="52.19" cy="577.08" rx="0.75" ry="0.6" fill="#4fbf3a" fill-opacity="0.58"/>
<ellipse cx="47.08" cy="570.20" rx="0.75" ry="0.6" fill="#4fbf3a" fill-opacity="0.63"/>
<ellipse cx="49.82" cy="566.67" rx="0.75" ry="0.6" fill="#4fbf3a" fill-opacity="0.58"/>
<ellipse cx="52.05" cy="563.18" rx="0.75" ry="0.6" fill="#4fbf3a" fill-opacity="0.72"/>
<ellipse cx="56.63" cy="561.38" rx="0.75" ry="0.6" fill="#4fbf3a" fill-opacity="0.57"/>
<ellipse cx="61.88" cy="561.00" rx="0.75" ry="0.6" fill="#4fbf3a" fill-opacity="0.82"/>
<ellipse cx="66.53" cy="563.01" rx="0.75" ry="0.6" fill="#4fbf3a" fill-opacity="0.83"/>
<rect x="77.90" y="544.70" width="29.00" height="33.40" fill="#16150f" stroke="#000" stroke-width="1.1" />
<ellipse cx="85.10" cy="558.50" rx="2.6" ry="2.0" fill="#e0141c" filter="url(#glow)"/>
<rect x="110.30" y="544.70" width="29.00" height="33.40" fill="#16150f" stroke="#000" stroke-width="1.1" />
<path d="M132.86,554.90 L132.64,556.38 L132.25,557.90 L130.77,559.09 L128.63,559.72 L126.71,560.26 L124.90,560.97 L122.80,561.49 L120.47,561.65 L118.03,561.43 L115.98,560.55 L114.95,559.03 L114.53,557.53 L113.70,556.27 L112.86,554.90 L113.14,553.44 L114.23,552.17 L115.13,550.86 L116.16,549.40 L118.03,548.37 L120.45,548.10 L122.80,548.29 L124.92,548.78 L126.71,549.54 L128.45,550.23 L130.58,550.80 L132.55,551.80 L133.20,553.33 Z" fill="none" stroke="#26288c" stroke-width="1.1" stroke-opacity="0.85" filter="url(#glow)"/>
<path d="M134.18,570.20 L135.14,572.32 L134.64,574.48 L132.70,576.06 L130.49,577.25 L128.31,578.34 L125.85,578.93 L123.30,578.86 L120.87,578.55 L118.47,578.05 L116.29,577.08 L114.32,575.80 L112.29,574.35 L110.86,572.42 L111.18,570.20 L112.72,568.31 L113.92,566.67 L114.71,564.84 L116.15,563.18 L118.33,562.12 L120.73,561.38 L123.30,560.86 L125.98,561.00 L128.45,561.83 L130.63,563.01 L132.30,564.58 L133.01,566.54 L133.29,568.42 Z" fill="none" stroke="#26288c" stroke-width="1.1" stroke-opacity="0.85" filter="url(#glow)"/>
<polyline points="118.03,561.43 115.98,560.55 114.95,559.03 114.53,557.53 113.70,556.27 112.86,554.90" fill="none" stroke="#3c42bc" stroke-width="1.6" stroke-opacity="0.65" filter="url(#glow)"/>
<polyline points="118.33,562.12 120.73,561.38 123.30,560.86 125.98,561.00 128.45,561.83 130.63,563.01" fill="none" stroke="#3c42bc" stroke-width="1.6" stroke-opacity="0.65" filter="url(#glow)"/>
<circle cx="132.86" cy="554.90" r="0.9" fill="#4250d0" fill-opacity="0.6"/>
<circle cx="124.90" cy="560.97" r="0.9" fill="#4250d0" fill-opacity="0.6"/>
<circle cx="118.03" cy="561.43" r="0.9" fill="#4250d0" fill-opacity="0.6"/>
<circle cx="114.53" cy="557.53" r="0.9" fill="#4250d0" fill-opacity="0.6"/>
<circle cx="113.14" cy="553.44" r="0.9" fill="#4250d0" fill-opacity="0.6"/>
<circle cx="116.16" cy="549.40" r="0.9" fill="#4250d0" fill-opacity="0.6"/>
<circle cx="133.20" cy="553.33" r="0.9" fill="#4250d0" fill-opacity="0.6"/>
<circle cx="132.70" cy="576.06" r="0.9" fill="#4250d0" fill-opacity="0.6"/>
<circle cx="118.47" cy="578.05" r="0.9" fill="#4250d0" fill-opacity="0.6"/>
<circle cx="133.29" cy="568.42" r="0.9" fill="#4250d0" fill-opacity="0.6"/>
<rect x="142.00" y="544.70" width="29.00" height="33.40" fill="#16150f" stroke="#000" stroke-width="1.1" />
<circle cx="148.00" cy="553.70" r="0.65" fill="#d8d8d8"/>
<circle cx="151.00" cy="556.70" r="0.65" fill="#d8d8d8"/>
<circle cx="153.00" cy="558.70" r="0.65" fill="#d8d8d8"/>
<circle cx="156.00" cy="559.70" r="0.65" fill="#d8d8d8"/>
<circle cx="159.00" cy="558.70" r="0.65" fill="#d8d8d8"/>
<circle cx="161.00" cy="556.70" r="0.65" fill="#d8d8d8"/>
<circle cx="163.00" cy="554.70" r="0.65" fill="#d8d8d8"/>
<rect x="173.80" y="544.70" width="29.00" height="33.40" fill="#16150f" stroke="#000" stroke-width="1.1" />
<path d="M196.36,554.90 L196.14,556.38 L195.75,557.90 L194.27,559.09 L192.13,559.72 L190.21,560.26 L188.40,560.97 L186.30,561.49 L183.97,561.65 L181.53,561.43 L179.48,560.55 L178.45,559.03 L178.03,557.53 L177.20,556.27 L176.36,554.90 L176.64,553.44 L177.73,552.17 L178.63,550.86 L179.66,549.40 L181.53,548.37 L183.95,548.10 L186.30,548.29 L188.42,548.78 L190.21,549.54 L191.95,550.23 L194.08,550.80 L196.05,551.80 L196.70,553.33 Z" fill="none" stroke="#26288c" stroke-width="1.1" stroke-opacity="0.85" filter="url(#glow)"/>
<path d="M197.68,570.20 L198.64,572.32 L198.14,574.48 L196.20,576.06 L193.99,577.25 L191.81,578.34 L189.35,578.93 L186.80,578.86 L184.37,578.55 L181.97,578.05 L179.79,577.08 L177.82,575.80 L175.79,574.35 L174.36,572.42 L174.68,570.20 L176.22,568.31 L177.42,566.67 L178.21,564.84 L179.65,563.18 L181.83,562.12 L184.23,561.38 L186.80,560.86 L189.48,561.00 L191.95,561.83 L194.13,563.01 L195.80,564.58 L196.51,566.54 L196.79,568.42 Z" fill="none" stroke="#26288c" stroke-width="1.1" stroke-opacity="0.85" filter="url(#glow)"/>
<polyline points="181.53,561.43 179.48,560.55 178.45,559.03 178.03,557.53 177.20,556.27 176.36,554.90" fill="none" stroke="#3c42bc" stroke-width="1.6" stroke-opacity="0.65" filter="url(#glow)"/>
<polyline points="181.83,562.12 184.23,561.38 186.80,560.86 189.48,561.00 191.95,561.83 194.13,563.01" fill="none" stroke="#3c42bc" stroke-width="1.6" stroke-opacity="0.65" filter="url(#glow)"/>
<circle cx="194.27" cy="559.09" r="0.9" fill="#4250d0" fill-opacity="0.6"/>
<circle cx="178.03" cy="557.53" r="0.9" fill="#4250d0" fill-opacity="0.6"/>
<circle cx="176.64" cy="553.44" r="0.9" fill="#4250d0" fill-opacity="0.6"/>
<circle cx="179.66" cy="549.40" r="0.9" fill="#4250d0" fill-opacity="0.6"/>
<circle cx="186.30" cy="548.29" r="0.9" fill="#4250d0" fill-opacity="0.6"/>
<circle cx="197.68" cy="570.20" r="0.9" fill="#4250d0" fill-opacity="0.6"/>
<circle cx="189.35" cy="578.93" r="0.9" fill="#4250d0" fill-opacity="0.6"/>
<circle cx="176.22" cy="568.31" r="0.9" fill="#4250d0" fill-opacity="0.6"/>
<circle cx="179.65" cy="563.18" r="0.9" fill="#4250d0" fill-opacity="0.6"/>
<circle cx="186.80" cy="560.86" r="0.9" fill="#4250d0" fill-opacity="0.6"/>
<circle cx="196.79" cy="568.42" r="0.9" fill="#4250d0" fill-opacity="0.6"/>
<circle cx="189.35" cy="578.93" r="0.7" fill="#60d0a8"/>
<circle cx="184.37" cy="578.55" r="0.7" fill="#60d0a8"/>
<circle cx="179.79" cy="577.08" r="0.7" fill="#60d0a8"/>
<circle cx="175.79" cy="574.35" r="0.7" fill="#60d0a8"/>
<circle cx="174.68" cy="570.20" r="0.7" fill="#60d0a8"/>
<circle cx="177.42" cy="566.67" r="0.7" fill="#60d0a8"/>
<circle cx="179.65" cy="563.18" r="0.7" fill="#60d0a8"/>
<circle cx="189.48" cy="561.00" r="0.7" fill="#60d0a8"/>
<circle cx="196.51" cy="566.54" r="0.7" fill="#60d0a8"/>
<ellipse cx="181.00" cy="558.50" rx="2.6" ry="2.0" fill="#e0141c" filter="url(#glow)"/>
<circle cx="179.80" cy="553.70" r="0.7" fill="#e8e8ff"/>
<circle cx="182.80" cy="556.70" r="0.7" fill="#e8e8ff"/>
<circle cx="184.80" cy="558.70" r="0.7" fill="#e8e8ff"/>
<circle cx="187.80" cy="559.70" r="0.7" fill="#e8e8ff"/>
<circle cx="190.80" cy="558.70" r="0.7" fill="#e8e8ff"/>
<circle cx="192.80" cy="556.70" r="0.7" fill="#e8e8ff"/>
<circle cx="194.80" cy="554.70" r="0.7" fill="#e8e8ff"/>
<line x1="250.60" y1="451.50" x2="250.60" y2="574.00" stroke="#231f20" stroke-width="1.1" />
<line x1="250.10" y1="573.80" x2="379.70" y2="573.80" stroke="#231f20" stroke-width="1.1" />
<line x1="247.60" y1="573.30" x2="250.60" y2="573.30" stroke="#231f20" stroke-width="1.1" />
<text x="243.90" y="575.70" font-size="6.7" fill="#231f20" text-anchor="end" stroke="#231f20" stroke-width="0.18" >0</text>
<line x1="247.60" y1="546.36" x2="250.60" y2="546.36" stroke="#231f20" stroke-width="1.1" />
<text x="243.90" y="548.76" font-size="6.7" fill="#231f20" text-anchor="end" stroke="#231f20" stroke-width="0.18" >2</text>
<line x1="247.60" y1="519.42" x2="250.60" y2="519.42" stroke="#231f20" stroke-width="1.1" />
<text x="243.90" y="521.82" font-size="6.7" fill="#231f20" text-anchor="end" stroke="#231f20" stroke-width="0.18" >4</text>
<line x1="247.60" y1="492.48" x2="250.60" y2="492.48" stroke="#231f20" stroke-width="1.1" />
<text x="243.90" y="494.88" font-size="6.7" fill="#231f20" text-anchor="end" stroke="#231f20" stroke-width="0.18" >6</text>
<line x1="247.60" y1="465.54" x2="250.60" y2="465.54" stroke="#231f20" stroke-width="1.1" />
<text x="243.90" y="467.94" font-size="6.7" fill="#231f20" text-anchor="end" stroke="#231f20" stroke-width="0.18" >8</text>
<text x="236.00" y="511.00" font-size="8.6" fill="#231f20" text-anchor="middle" stroke="#231f20" stroke-width="0.18" textLength="105.6" lengthAdjust="spacingAndGlyphs" transform="rotate(-90 236.00 511.00)" >MTOC to synapse distance (μm)</text>
<ellipse cx="270.00" cy="446.68" rx="1.45" ry="1.25" fill="#2b4c8c"/>
<ellipse cx="270.00" cy="462.85" rx="1.45" ry="1.25" fill="#2b4c8c"/>
<ellipse cx="270.00" cy="474.97" rx="1.45" ry="1.25" fill="#2b4c8c"/>
<ellipse cx="266.80" cy="476.32" rx="1.45" ry="1.25" fill="#2b4c8c"/>
<ellipse cx="270.00" cy="484.40" rx="1.45" ry="1.25" fill="#2b4c8c"/>
<ellipse cx="270.00" cy="488.44" rx="1.45" ry="1.25" fill="#2b4c8c"/>
<ellipse cx="270.00" cy="495.17" rx="1.45" ry="1.25" fill="#2b4c8c"/>
<ellipse cx="270.00" cy="500.56" rx="1.45" ry="1.25" fill="#2b4c8c"/>
<ellipse cx="266.80" cy="503.26" rx="1.45" ry="1.25" fill="#2b4c8c"/>
<ellipse cx="273.20" cy="503.26" rx="1.45" ry="1.25" fill="#2b4c8c"/>
<ellipse cx="270.00" cy="508.64" rx="1.45" ry="1.25" fill="#2b4c8c"/>
<ellipse cx="266.80" cy="508.64" rx="1.45" ry="1.25" fill="#2b4c8c"/>
<ellipse cx="273.20" cy="511.34" rx="1.45" ry="1.25" fill="#2b4c8c"/>
<ellipse cx="263.80" cy="514.03" rx="1.45" ry="1.25" fill="#2b4c8c"/>
<ellipse cx="276.20" cy="514.03" rx="1.45" ry="1.25" fill="#2b4c8c"/>
<ellipse cx="270.00" cy="515.38" rx="1.45" ry="1.25" fill="#2b4c8c"/>
<ellipse cx="270.00" cy="522.11" rx="1.45" ry="1.25" fill="#2b4c8c"/>
<ellipse cx="266.80" cy="524.81" rx="1.45" ry="1.25" fill="#2b4c8c"/>
<ellipse cx="270.00" cy="530.20" rx="1.45" ry="1.25" fill="#2b4c8c"/>
<ellipse cx="270.00" cy="535.58" rx="1.45" ry="1.25" fill="#2b4c8c"/>
<ellipse cx="270.00" cy="546.36" rx="1.45" ry="1.25" fill="#2b4c8c"/>
<ellipse cx="266.80" cy="546.36" rx="1.45" ry="1.25" fill="#2b4c8c"/>
<ellipse cx="273.20" cy="547.71" rx="1.45" ry="1.25" fill="#2b4c8c"/>
<ellipse cx="263.80" cy="547.71" rx="1.45" ry="1.25" fill="#2b4c8c"/>
<ellipse cx="270.00" cy="554.44" rx="1.45" ry="1.25" fill="#2b4c8c"/>
<ellipse cx="266.80" cy="557.14" rx="1.45" ry="1.25" fill="#2b4c8c"/>
<ellipse cx="273.20" cy="557.14" rx="1.45" ry="1.25" fill="#2b4c8c"/>
<ellipse cx="299.80" cy="470.93" rx="1.45" ry="1.25" fill="#67a83d"/>
<ellipse cx="299.80" cy="495.17" rx="1.45" ry="1.25" fill="#67a83d"/>
<ellipse cx="299.80" cy="514.03" rx="1.45" ry="1.25" fill="#67a83d"/>
<ellipse cx="299.80" cy="518.07" rx="1.45" ry="1.25" fill="#67a83d"/>
<ellipse cx="299.80" cy="522.11" rx="1.45" ry="1.25" fill="#67a83d"/>
<ellipse cx="296.60" cy="524.81" rx="1.45" ry="1.25" fill="#67a83d"/>
<ellipse cx="303.00" cy="526.15" rx="1.45" ry="1.25" fill="#67a83d"/>
<ellipse cx="293.60" cy="527.50" rx="1.45" ry="1.25" fill="#67a83d"/>
<ellipse cx="306.00" cy="528.85" rx="1.45" ry="1.25" fill="#67a83d"/>
<ellipse cx="299.80" cy="530.20" rx="1.45" ry="1.25" fill="#67a83d"/>
<ellipse cx="299.80" cy="531.54" rx="1.45" ry="1.25" fill="#67a83d"/>
<ellipse cx="296.60" cy="532.89" rx="1.45" ry="1.25" fill="#67a83d"/>
<ellipse cx="303.00" cy="534.24" rx="1.45" ry="1.25" fill="#67a83d"/>
<ellipse cx="293.60" cy="535.58" rx="1.45" ry="1.25" fill="#67a83d"/>
<ellipse cx="306.00" cy="538.28" rx="1.45" ry="1.25" fill="#67a83d"/>
<ellipse cx="299.80" cy="539.62" rx="1.45" ry="1.25" fill="#67a83d"/>
<ellipse cx="299.80" cy="540.97" rx="1.45" ry="1.25" fill="#67a83d"/>
<ellipse cx="296.60" cy="543.67" rx="1.45" ry="1.25" fill="#67a83d"/>
<ellipse cx="303.00" cy="546.36" rx="1.45" ry="1.25" fill="#67a83d"/>
<ellipse cx="293.60" cy="547.71" rx="1.45" ry="1.25" fill="#67a83d"/>
<ellipse cx="306.00" cy="549.05" rx="1.45" ry="1.25" fill="#67a83d"/>
<ellipse cx="299.80" cy="550.40" rx="1.45" ry="1.25" fill="#67a83d"/>
<ellipse cx="329.80" cy="470.93" rx="1.45" ry="1.25" fill="#8f87c3"/>
<ellipse cx="329.80" cy="500.56" rx="1.45" ry="1.25" fill="#8f87c3"/>
<ellipse cx="329.80" cy="508.64" rx="1.45" ry="1.25" fill="#8f87c3"/>
<ellipse cx="326.60" cy="508.64" rx="1.45" ry="1.25" fill="#8f87c3"/>
<ellipse cx="329.80" cy="516.73" rx="1.45" ry="1.25" fill="#8f87c3"/>
<ellipse cx="329.80" cy="520.77" rx="1.45" ry="1.25" fill="#8f87c3"/>
<ellipse cx="329.80" cy="524.81" rx="1.45" ry="1.25" fill="#8f87c3"/>
<ellipse cx="326.60" cy="527.50" rx="1.45" ry="1.25" fill="#8f87c3"/>
<ellipse cx="333.00" cy="528.85" rx="1.45" ry="1.25" fill="#8f87c3"/>
<ellipse cx="323.60" cy="530.20" rx="1.45" ry="1.25" fill="#8f87c3"/>
<ellipse cx="336.00" cy="532.89" rx="1.45" ry="1.25" fill="#8f87c3"/>
<ellipse cx="329.80" cy="534.24" rx="1.45" ry="1.25" fill="#8f87c3"/>
<ellipse cx="329.80" cy="536.93" rx="1.45" ry="1.25" fill="#8f87c3"/>
<ellipse cx="326.60" cy="538.28" rx="1.45" ry="1.25" fill="#8f87c3"/>
<ellipse cx="333.00" cy="539.62" rx="1.45" ry="1.25" fill="#8f87c3"/>
<ellipse cx="323.60" cy="542.32" rx="1.45" ry="1.25" fill="#8f87c3"/>
<ellipse cx="336.00" cy="543.67" rx="1.45" ry="1.25" fill="#8f87c3"/>
<ellipse cx="329.80" cy="546.36" rx="1.45" ry="1.25" fill="#8f87c3"/>
<ellipse cx="329.80" cy="547.71" rx="1.45" ry="1.25" fill="#8f87c3"/>
<ellipse cx="326.60" cy="549.05" rx="1.45" ry="1.25" fill="#8f87c3"/>
<ellipse cx="329.80" cy="554.44" rx="1.45" ry="1.25" fill="#8f87c3"/>
<ellipse cx="359.50" cy="519.42" rx="1.45" ry="1.25" fill="#a8102f"/>
<ellipse cx="356.30" cy="522.11" rx="1.45" ry="1.25" fill="#a8102f"/>
<ellipse cx="362.70" cy="524.81" rx="1.45" ry="1.25" fill="#a8102f"/>
<ellipse cx="353.30" cy="527.50" rx="1.45" ry="1.25" fill="#a8102f"/>
<ellipse cx="365.70" cy="528.85" rx="1.45" ry="1.25" fill="#a8102f"/>
<ellipse cx="359.50" cy="530.20" rx="1.45" ry="1.25" fill="#a8102f"/>
<ellipse cx="359.50" cy="531.54" rx="1.45" ry="1.25" fill="#a8102f"/>
<ellipse cx="356.30" cy="532.89" rx="1.45" ry="1.25" fill="#a8102f"/>
<ellipse cx="362.70" cy="534.24" rx="1.45" ry="1.25" fill="#a8102f"/>
<ellipse cx="353.30" cy="536.93" rx="1.45" ry="1.25" fill="#a8102f"/>
<ellipse cx="365.70" cy="539.62" rx="1.45" ry="1.25" fill="#a8102f"/>
<ellipse cx="359.50" cy="540.97" rx="1.45" ry="1.25" fill="#a8102f"/>
<ellipse cx="359.50" cy="542.32" rx="1.45" ry="1.25" fill="#a8102f"/>
<ellipse cx="356.30" cy="545.01" rx="1.45" ry="1.25" fill="#a8102f"/>
<ellipse cx="362.70" cy="546.36" rx="1.45" ry="1.25" fill="#a8102f"/>
<ellipse cx="353.30" cy="547.71" rx="1.45" ry="1.25" fill="#a8102f"/>
<ellipse cx="365.70" cy="549.05" rx="1.45" ry="1.25" fill="#a8102f"/>
<ellipse cx="359.50" cy="551.75" rx="1.45" ry="1.25" fill="#a8102f"/>
<ellipse cx="359.50" cy="553.09" rx="1.45" ry="1.25" fill="#a8102f"/>
<ellipse cx="356.30" cy="553.09" rx="1.45" ry="1.25" fill="#a8102f"/>
<ellipse cx="362.70" cy="555.79" rx="1.45" ry="1.25" fill="#a8102f"/>
<ellipse cx="359.50" cy="559.83" rx="1.45" ry="1.25" fill="#a8102f"/>
<ellipse cx="359.50" cy="563.87" rx="1.45" ry="1.25" fill="#a8102f"/>
<line x1="270.00" y1="543.67" x2="270.00" y2="485.74" stroke="#111" stroke-width="1.1" />
<line x1="265.20" y1="543.67" x2="274.80" y2="543.67" stroke="#111" stroke-width="1.1" />
<line x1="265.20" y1="485.74" x2="274.80" y2="485.74" stroke="#111" stroke-width="1.1" />
<line x1="260.60" y1="514.03" x2="279.40" y2="514.03" stroke="#111" stroke-width="1.4" />
<line x1="299.80" y1="547.30" x2="299.80" y2="512.68" stroke="#111" stroke-width="1.1" />
<line x1="295.00" y1="547.30" x2="304.60" y2="547.30" stroke="#111" stroke-width="1.1" />
<line x1="295.00" y1="512.68" x2="304.60" y2="512.68" stroke="#111" stroke-width="1.1" />
<line x1="290.40" y1="529.93" x2="309.20" y2="529.93" stroke="#111" stroke-width="1.4" />
<line x1="329.80" y1="549.05" x2="329.80" y2="511.34" stroke="#111" stroke-width="1.1" />
<line x1="325.00" y1="549.05" x2="334.60" y2="549.05" stroke="#111" stroke-width="1.1" />
<line x1="325.00" y1="511.34" x2="334.60" y2="511.34" stroke="#111" stroke-width="1.1" />
<line x1="320.40" y1="530.20" x2="339.20" y2="530.20" stroke="#111" stroke-width="1.4" />
<line x1="359.50" y1="553.09" x2="359.50" y2="527.10" stroke="#111" stroke-width="1.1" />
<line x1="354.70" y1="553.09" x2="364.30" y2="553.09" stroke="#111" stroke-width="1.1" />
<line x1="354.70" y1="527.10" x2="364.30" y2="527.10" stroke="#111" stroke-width="1.1" />
<line x1="350.10" y1="540.16" x2="368.90" y2="540.16" stroke="#111" stroke-width="1.4" />
<polyline points="269.80,442.00 269.80,437.60 360.60,437.60 360.60,460.80" fill="none" stroke="#4a4a4a" stroke-width="1.0" />
<path d="M311.40,431.95 L311.91,432.99 L313.06,433.16 L312.23,433.97 L312.43,435.12 L311.40,434.58 L310.37,435.12 L310.57,433.97 L309.74,433.16 L310.89,432.99 Z" fill="#222"/>
<path d="M315.00,431.95 L315.51,432.99 L316.66,433.16 L315.83,433.97 L316.03,435.12 L315.00,434.58 L313.97,435.12 L314.17,433.97 L313.34,433.16 L314.49,432.99 Z" fill="#222"/>
<path d="M318.60,431.95 L319.11,432.99 L320.26,433.16 L319.43,433.97 L319.63,435.12 L318.60,434.58 L317.57,435.12 L317.77,433.97 L316.94,433.16 L318.09,432.99 Z" fill="#222"/>
<polyline points="269.80,458.30 269.80,454.00 329.40,454.00 329.40,465.80" fill="none" stroke="#4a4a4a" stroke-width="1.0" />
<path d="M299.50,448.35 L300.01,449.39 L301.16,449.56 L300.33,450.37 L300.53,451.52 L299.50,450.98 L298.47,451.52 L298.67,450.37 L297.84,449.56 L298.99,449.39 Z" fill="#222"/>
<polyline points="269.80,471.30 269.80,466.80 300.00,466.80 300.00,485.00" fill="none" stroke="#4a4a4a" stroke-width="1.0" />
<path d="M285.00,461.15 L285.51,462.19 L286.66,462.36 L285.83,463.17 L286.03,464.32 L285.00,463.78 L283.97,464.32 L284.17,463.17 L283.34,462.36 L284.49,462.19 Z" fill="#222"/>
<polyline points="329.80,490.20 329.80,485.40 361.20,485.40 361.20,514.20" fill="none" stroke="#4a4a4a" stroke-width="1.0" />
<path d="M345.60,479.75 L346.11,480.79 L347.26,480.96 L346.43,481.77 L346.63,482.92 L345.60,482.38 L344.57,482.92 L344.77,481.77 L343.94,480.96 L345.09,480.79 Z" fill="#222"/>
<circle cx="383.7" cy="456.20" r="1.3" fill="#2b4c8c"/>
<text x="388.90" y="458.70" font-size="7.5" fill="#231f20" text-anchor="start" stroke="#231f20" stroke-width="0.18" textLength="30.0" lengthAdjust="spacingAndGlyphs" >NT CTRL</text>
<circle cx="383.7" cy="467.50" r="1.3" fill="#67a83d"/>
<text x="388.90" y="470.00" font-size="7.5" fill="#231f20" text-anchor="start" stroke="#231f20" stroke-width="0.18" textLength="42.3" lengthAdjust="spacingAndGlyphs" >NT CISH KO</text>
<circle cx="383.7" cy="479.10" r="1.3" fill="#8f87c3"/>
<text x="388.90" y="481.40" font-size="7.5" fill="#231f20" text-anchor="start" stroke="#231f20" stroke-width="0.18" textLength="77.5" lengthAdjust="spacingAndGlyphs" >iC9/CAR19/IL-15 CTRL</text>
<circle cx="383.7" cy="490.50" r="1.3" fill="#a8102f"/>
<text x="388.90" y="492.90" font-size="7.5" fill="#231f20" text-anchor="start" stroke="#231f20" stroke-width="0.18" textLength="90.4" lengthAdjust="spacingAndGlyphs" >iC9/CAR19/IL-15 CISH KO</text>
<rect x="0.6" y="0.6" width="518.6" height="583.6" fill="none" stroke="#000" stroke-width="1.3"/>
</svg>
</body></html>
